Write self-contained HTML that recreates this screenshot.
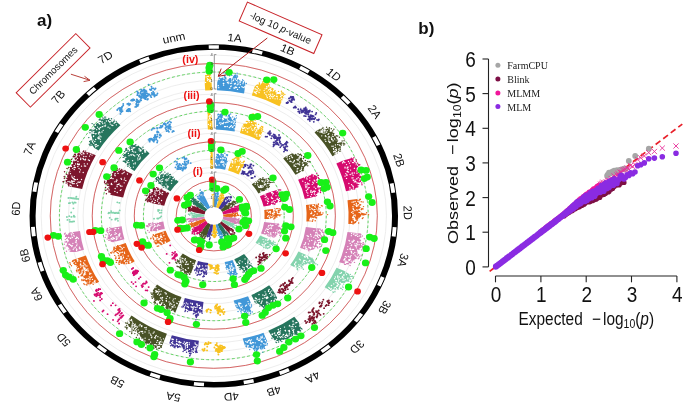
<!DOCTYPE html><html><head><meta charset="utf-8"><style>html,body{margin:0;padding:0;background:#fff;}svg{display:block;will-change:transform;}text{font-family:"Liberation Sans",sans-serif;}</style></head><body>
<svg width="685" height="416" viewBox="0 0 685 416">
<rect width="685" height="416" fill="#fff"/>
<g transform="translate(213.8,215.9) scale(1.073,1)">
<circle r="126.90" fill="none" stroke="#e6e6e6" stroke-width="0.7"/>
<circle r="135.40" fill="none" stroke="#e6e6e6" stroke-width="0.7"/>
<circle r="143.90" fill="none" stroke="#e6e6e6" stroke-width="0.7"/>
<circle r="152.40" fill="none" stroke="#e6e6e6" stroke-width="0.7"/>
<circle r="160.90" fill="none" stroke="#e6e6e6" stroke-width="0.7"/>
<circle r="87.80" fill="none" stroke="#e6e6e6" stroke-width="0.7"/>
<circle r="96.30" fill="none" stroke="#e6e6e6" stroke-width="0.7"/>
<circle r="104.80" fill="none" stroke="#e6e6e6" stroke-width="0.7"/>
<circle r="113.30" fill="none" stroke="#e6e6e6" stroke-width="0.7"/>
<circle r="121.80" fill="none" stroke="#e6e6e6" stroke-width="0.7"/>
<circle r="48.60" fill="none" stroke="#e6e6e6" stroke-width="0.7"/>
<circle r="57.10" fill="none" stroke="#e6e6e6" stroke-width="0.7"/>
<circle r="65.60" fill="none" stroke="#e6e6e6" stroke-width="0.7"/>
<circle r="74.10" fill="none" stroke="#e6e6e6" stroke-width="0.7"/>
<circle r="82.60" fill="none" stroke="#e6e6e6" stroke-width="0.7"/>
<circle r="9.50" fill="none" stroke="#e6e6e6" stroke-width="0.7"/>
<circle r="18.00" fill="none" stroke="#e6e6e6" stroke-width="0.7"/>
<circle r="26.50" fill="none" stroke="#e6e6e6" stroke-width="0.7"/>
<circle r="35.00" fill="none" stroke="#e6e6e6" stroke-width="0.7"/>
<circle r="43.50" fill="none" stroke="#e6e6e6" stroke-width="0.7"/>
<circle r="9.10" fill="#fff" stroke="#d8d8d8" stroke-width="0.5"/>
<circle r="143.90" fill="none" stroke="#44cc44" stroke-width="0.8" stroke-dasharray="2.6,2.2"/>
<circle r="152.40" fill="none" stroke="#d24a4a" stroke-width="0.8"/>
<circle r="104.80" fill="none" stroke="#44cc44" stroke-width="0.8" stroke-dasharray="2.6,2.2"/>
<circle r="113.30" fill="none" stroke="#d24a4a" stroke-width="0.8"/>
<circle r="65.60" fill="none" stroke="#44cc44" stroke-width="0.8" stroke-dasharray="2.6,2.2"/>
<circle r="74.10" fill="none" stroke="#d24a4a" stroke-width="0.8"/>
<circle r="26.50" fill="none" stroke="#44cc44" stroke-width="0.8" stroke-dasharray="2.6,2.2"/>
<circle r="35.00" fill="none" stroke="#d24a4a" stroke-width="0.8"/>
<path d="M3.2,-133.7 L4.1,-136.3 L5.1,-139.0 L6.0,-137.6 L6.9,-137.6 L7.8,-138.4 L8.7,-138.1 L9.8,-139.9 L10.6,-139.3 L11.5,-138.8 L12.2,-135.9 L13.1,-136.5 L14.0,-135.7 L15.1,-137.9 L16.0,-137.4 L16.6,-135.4 L18.1,-139.7 L19.2,-141.1 L20.2,-141.6 L21.1,-141.0 L21.5,-137.6 L22.0,-135.1 L23.0,-135.4 L23.6,-133.9 L24.6,-134.2 L25.5,-134.3 L26.7,-135.3 L27.9,-137.0 L28.4,-134.7 L29.1,-133.7 L29.3,-130.6 L28.2,-122.4 A125.6,125.6 0 0 0 3.0,-125.6Z" fill="#4197d8"/>
<path d="M21.7,-140.7h0M22.1,-139.1h0M11.4,-142.1h0M30.3,-132.4h0M22.9,-135.9h0M9.9,-140.4h0M5.3,-140.5h0M14.7,-140.1h0M14.4,-140.6h0M26.9,-136.3h0M9.4,-142.8h0M16.8,-140.5h0M14.2,-136.5h0M21.7,-142.7h0M10.8,-138.2h0M12.8,-140.8h0M24.1,-134.9h0M10.2,-139.0h0M5.0,-140.6h0M8.4,-140.3h0M15.7,-136.9h0M23.4,-135.0h0M21.5,-138.7h0M15.0,-137.1h0M11.1,-142.3h0" stroke="#4197d8" stroke-width="1.4" stroke-linecap="round" fill="none"/>
<path d="M23.8,-128.5h0M9.2,-132.2h0M19.6,-127.9h0M9.1,-130.7h0M19.2,-132.0h0M27.8,-128.6h0M27.5,-133.6h0M8.9,-135.6h0M9.2,-138.0h0M4.9,-136.4h0M21.3,-128.6h0M18.8,-137.1h0M11.3,-136.1h0M4.2,-130.2h0M27.6,-136.3h0M4.6,-128.2h0M20.2,-132.6h0M12.3,-136.1h0M18.2,-135.3h0M22.7,-131.9h0M26.7,-128.8h0M27.5,-134.6h0M24.3,-133.1h0M19.7,-131.7h0M18.8,-127.9h0M28.9,-129.4h0M13.9,-133.7h0M22.1,-126.5h0M15.7,-129.2h0M16.6,-132.7h0M27.2,-132.2h0M26.2,-129.2h0M8.9,-132.5h0M27.7,-133.9h0M16.8,-134.7h0M22.4,-134.0h0M9.3,-132.4h0M16.2,-130.0h0M21.8,-131.1h0M14.9,-127.5h0M19.9,-132.4h0M21.1,-135.6h0M20.8,-128.4h0M12.7,-133.5h0M20.2,-136.9h0M15.4,-132.6h0M13.4,-132.3h0M24.6,-133.7h0M20.0,-129.0h0M24.7,-131.2h0M9.6,-137.8h0M28.2,-128.2h0M12.3,-135.3h0M18.4,-135.8h0" stroke="#fff" stroke-width="1.3" stroke-linecap="round" fill="none"/>
<path d="M37.9,-129.0 L39.3,-130.7 L40.5,-131.7 L41.3,-131.2 L42.5,-131.8 L43.0,-130.4 L44.5,-132.3 L45.4,-131.8 L47.2,-134.3 L48.6,-135.5 L49.1,-134.2 L50.4,-134.8 L51.0,-133.8 L51.4,-132.1 L52.0,-131.3 L52.0,-128.7 L52.4,-127.3 L53.2,-126.7 L54.4,-127.3 L55.1,-126.7 L54.9,-124.0 L56.4,-125.1 L57.2,-124.7 L57.3,-122.9 L58.1,-122.3 L58.4,-121.1 L59.8,-121.9 L60.8,-121.8 L61.9,-122.0 L62.1,-120.5 L64.5,-123.2 L64.9,-121.9 L64.5,-119.3 L64.8,-118.0 L61.2,-109.7 A125.6,125.6 0 0 0 35.4,-120.5Z" fill="#f8c120"/>
<path d="M55.3,-126.8h0M57.4,-122.0h0M54.6,-127.1h0M66.2,-121.4h0M49.2,-136.6h0M42.7,-131.6h0M63.0,-124.7h0M53.0,-128.3h0M45.6,-133.9h0M64.7,-120.6h0M59.9,-121.1h0M45.2,-132.4h0M57.8,-123.1h0M51.7,-135.3h0M42.4,-133.0h0M42.7,-132.0h0M48.2,-135.8h0M54.4,-127.4h0M51.7,-133.5h0M53.9,-126.2h0M46.4,-134.9h0M57.1,-125.1h0M63.6,-123.5h0M63.0,-122.0h0M60.3,-124.5h0M64.9,-122.6h0M51.1,-137.5h0M47.7,-137.5h0" stroke="#f8c120" stroke-width="1.4" stroke-linecap="round" fill="none"/>
<path d="M59.2,-117.1h0M41.0,-124.9h0M37.6,-124.0h0M63.6,-120.8h0M52.2,-124.1h0M39.6,-122.2h0M42.2,-123.4h0M40.5,-129.3h0M57.1,-117.1h0M51.4,-121.4h0M38.5,-127.3h0M43.0,-125.9h0M49.9,-118.2h0M59.2,-119.1h0M53.9,-119.3h0M52.9,-125.9h0M47.9,-133.1h0M58.8,-119.8h0M62.8,-120.1h0M58.4,-119.6h0M63.0,-117.7h0M55.1,-119.8h0M51.1,-130.4h0M56.6,-120.2h0M38.6,-126.9h0M47.7,-133.2h0M53.0,-125.7h0M63.1,-114.9h0M40.1,-126.6h0M40.0,-129.2h0M49.4,-119.9h0M52.5,-117.4h0M49.6,-124.1h0M47.5,-123.1h0M52.0,-119.6h0M38.2,-123.6h0M50.7,-129.2h0M40.3,-129.6h0M40.8,-128.9h0M52.3,-126.5h0M53.2,-125.1h0M52.1,-126.7h0M52.5,-117.8h0M52.9,-120.2h0M53.5,-125.4h0M62.3,-119.4h0M47.3,-123.0h0M53.0,-121.7h0M63.8,-117.0h0M55.4,-119.5h0M49.2,-129.3h0M38.9,-123.1h0M54.9,-121.7h0M48.6,-121.4h0M49.3,-127.4h0M47.8,-127.1h0M61.7,-116.6h0M40.2,-126.3h0M55.0,-117.9h0M39.2,-123.8h0M39.6,-124.4h0M49.5,-128.8h0M41.6,-127.3h0M63.8,-120.6h0M50.9,-125.9h0M46.9,-125.3h0" stroke="#fff" stroke-width="1.3" stroke-linecap="round" fill="none"/>
<path d="M96.6,-85.9 L98.4,-86.4 L100.3,-86.8 L102.0,-87.2 L102.7,-86.6 L104.6,-87.0 L106.2,-87.2 L106.6,-86.4 L108.1,-86.4 L108.2,-85.3 L108.0,-84.0 L110.1,-84.5 L111.2,-84.2 L110.3,-82.3 L110.1,-81.1 L111.8,-81.2 L112.3,-80.4 L112.8,-79.7 L114.2,-79.6 L113.9,-78.3 L114.7,-77.7 L113.3,-75.7 L115.0,-75.7 L116.1,-75.3 L115.1,-73.7 L116.0,-73.2 L118.6,-73.7 L119.9,-73.4 L118.7,-71.6 L119.9,-71.2 L117.8,-69.0 L118.6,-68.4 L117.6,-66.8 L115.7,-64.7 L114.9,-63.3 L115.6,-62.7 L110.6,-59.7 A125.6,125.6 0 0 0 93.9,-83.5Z" fill="#495226"/>
<path d="M115.5,-80.0h0M111.8,-82.4h0M117.5,-64.5h0M114.2,-80.2h0M119.6,-74.9h0M117.9,-66.6h0M121.3,-71.9h0M121.2,-70.8h0M122.0,-72.0h0M117.6,-65.0h0M115.3,-79.8h0M121.0,-72.6h0M111.5,-81.2h0M121.4,-75.2h0M110.9,-82.5h0M107.6,-86.9h0M111.9,-86.7h0M101.1,-87.5h0M105.1,-88.6h0M119.3,-72.6h0M101.8,-88.0h0M117.1,-78.6h0M99.0,-86.5h0M106.2,-86.6h0M109.5,-87.2h0M114.6,-76.5h0M106.4,-86.8h0M107.7,-88.3h0M110.9,-85.1h0" stroke="#495226" stroke-width="1.4" stroke-linecap="round" fill="none"/>
<path d="M116.8,-67.6h0M112.5,-77.0h0M100.6,-80.1h0M113.2,-68.5h0M107.2,-74.5h0M107.2,-76.0h0M114.3,-66.8h0M113.0,-61.9h0M117.6,-70.4h0M98.9,-83.9h0M100.3,-84.5h0M114.0,-63.8h0M107.2,-82.3h0M111.8,-63.8h0M103.5,-82.9h0M103.9,-85.2h0M109.6,-77.9h0M111.3,-79.3h0M110.1,-69.7h0M104.4,-74.5h0M111.5,-67.5h0M104.1,-80.3h0M104.0,-80.0h0M111.3,-69.7h0M111.1,-75.5h0M101.1,-85.3h0M102.0,-82.8h0M101.5,-86.4h0M109.8,-76.4h0M115.6,-73.5h0M104.6,-79.3h0M100.0,-83.9h0M116.8,-71.1h0M103.5,-84.8h0M108.3,-74.1h0M102.7,-84.8h0M110.3,-76.7h0M105.7,-85.2h0M111.1,-75.0h0M113.2,-64.2h0M103.5,-86.2h0M114.3,-65.6h0M107.8,-73.4h0M114.1,-62.6h0M102.7,-85.5h0M112.5,-64.8h0M111.7,-66.6h0M114.5,-63.0h0M106.5,-81.5h0M107.3,-79.4h0M96.9,-84.7h0M101.0,-83.3h0M108.4,-73.5h0M114.0,-63.6h0M108.0,-78.8h0M115.4,-71.3h0M114.1,-62.5h0M106.6,-77.9h0M114.1,-65.5h0M110.4,-79.8h0M99.9,-85.8h0M113.4,-71.0h0M100.8,-83.9h0M103.7,-76.2h0M116.5,-66.6h0M113.7,-66.5h0M105.1,-83.7h0M111.7,-64.2h0M101.3,-84.3h0" stroke="#fff" stroke-width="1.3" stroke-linecap="round" fill="none"/>
<path d="M120.7,-55.4 L127.3,-57.4 L130.3,-57.7 L129.6,-56.4 L129.8,-55.5 L130.9,-54.9 L129.7,-53.4 L130.1,-52.6 L132.9,-52.7 L131.6,-51.2 L132.5,-50.5 L134.1,-50.1 L134.6,-49.3 L133.4,-47.9 L132.9,-46.8 L133.5,-46.0 L135.6,-45.7 L135.8,-44.8 L134.0,-43.2 L136.1,-42.9 L135.0,-41.6 L135.6,-40.8 L134.9,-39.6 L137.2,-39.3 L137.5,-38.4 L135.1,-36.8 L136.3,-36.2 L134.9,-34.8 L136.9,-34.4 L134.3,-32.8 L134.4,-31.9 L136.1,-31.3 L133.4,-29.8 L133.7,-29.0 L132.1,-27.7 L130.2,-26.4 L123.2,-24.7 A125.6,125.6 0 0 0 114.2,-52.4Z" fill="#d60b6f"/>
<path d="M132.8,-56.0h0M133.5,-28.8h0M129.9,-56.8h0M135.1,-50.7h0M131.4,-53.2h0M134.0,-52.8h0M136.6,-34.4h0M139.3,-39.5h0M135.8,-41.0h0M136.0,-51.2h0M136.5,-38.6h0M135.6,-39.2h0M131.2,-26.9h0M136.6,-43.4h0M130.6,-58.3h0M132.8,-50.6h0M135.3,-33.7h0M135.0,-51.4h0M132.4,-51.8h0M135.3,-42.3h0M138.1,-31.2h0M128.2,-57.6h0M136.8,-35.8h0M134.2,-29.2h0M132.8,-54.3h0M136.9,-39.4h0M138.8,-39.5h0M136.4,-43.7h0M137.9,-32.9h0" stroke="#d60b6f" stroke-width="1.4" stroke-linecap="round" fill="none"/>
<path d="M133.4,-42.7h0M125.9,-32.4h0M124.5,-48.7h0M132.6,-34.0h0M124.4,-40.8h0M122.3,-39.8h0M130.2,-35.5h0M127.1,-41.4h0M130.0,-29.6h0M123.7,-37.5h0M133.1,-37.1h0M122.2,-53.3h0M130.9,-42.9h0M123.7,-51.3h0M120.0,-53.0h0M128.5,-26.6h0M122.3,-48.0h0M124.8,-48.6h0M124.7,-44.7h0M133.5,-37.1h0M129.3,-30.1h0M128.4,-31.2h0M133.3,-45.0h0M125.5,-54.4h0M124.3,-47.7h0M129.3,-53.3h0M131.9,-34.4h0M120.3,-53.8h0M127.8,-55.0h0M125.2,-46.5h0M126.5,-52.7h0M122.3,-48.8h0M125.6,-43.8h0M129.8,-38.1h0M126.9,-26.9h0M126.8,-28.5h0M134.6,-38.3h0M124.7,-44.1h0M123.7,-40.9h0M123.0,-42.3h0M129.9,-35.9h0M121.2,-54.1h0M128.9,-42.0h0M131.1,-47.6h0M129.0,-42.9h0M127.5,-45.8h0M130.9,-34.0h0M133.5,-32.8h0M127.3,-50.0h0M121.0,-54.7h0M125.2,-48.8h0M129.8,-40.6h0M134.4,-33.0h0M131.0,-47.6h0M131.6,-35.9h0M130.1,-27.9h0M128.8,-38.0h0M124.1,-44.3h0" stroke="#fff" stroke-width="1.3" stroke-linecap="round" fill="none"/>
<path d="M133.7,-16.8 L134.1,-15.9 L135.9,-15.2 L135.5,-14.3 L135.4,-13.4 L135.4,-12.5 L135.6,-11.6 L137.4,-10.8 L135.6,-9.8 L136.4,-9.0 L137.0,-8.1 L135.7,-7.1 L134.3,-6.2 L136.0,-5.3 L136.5,-4.5 L136.5,-3.6 L139.7,-2.7 L143.0,-1.9 L141.6,-0.9 L137.5,0.0 L136.7,0.9 L134.5,1.8 L135.2,2.7 L133.3,3.5 L132.6,4.4 L133.3,5.3 L132.9,6.1 L132.3,7.0 L130.8,7.8 L125.4,8.0 A125.6,125.6 0 0 0 124.6,-15.6Z" fill="#e66519"/>
<path d="M137.7,-6.3h0M144.2,-1.1h0M133.6,3.5h0M138.1,-7.4h0M136.8,-11.1h0M136.4,-16.8h0M135.0,7.1h0M139.1,-13.9h0M137.4,-6.3h0M139.1,-7.0h0M129.8,8.0h0M135.4,1.3h0M135.7,-15.9h0M139.1,1.8h0M137.4,-14.1h0M136.5,-16.4h0M135.9,-4.6h0M139.5,-9.3h0M133.6,4.4h0M137.7,-7.0h0M138.4,2.7h0M138.0,-7.1h0M142.4,-3.1h0" stroke="#e66519" stroke-width="1.4" stroke-linecap="round" fill="none"/>
<path d="M128.7,6.0h0M129.8,-2.4h0M129.7,-9.2h0M134.4,-14.6h0M128.9,-13.7h0M134.7,-11.3h0M133.1,-6.1h0M131.7,-14.4h0M131.6,-1.1h0M131.9,4.5h0M130.3,-13.9h0M135.4,-3.5h0M130.7,1.5h0M131.6,3.7h0M135.3,-13.8h0M129.9,0.8h0M130.4,-6.6h0M129.9,3.2h0M129.9,-7.4h0M129.5,1.6h0M130.1,-6.2h0M128.5,6.4h0M133.9,-5.8h0M133.2,-9.5h0M132.8,-12.4h0M130.5,-0.6h0M131.1,5.0h0M131.1,3.9h0M132.0,-0.1h0M132.6,-10.4h0M128.4,-3.6h0M131.5,-5.3h0M128.5,6.0h0M130.1,1.5h0M129.6,-4.2h0M138.0,-0.5h0M130.8,2.9h0M134.3,-14.6h0M134.3,-10.1h0M136.4,-3.3h0M136.7,-2.8h0M134.2,-10.3h0M131.3,2.3h0M130.8,-11.4h0M132.8,-11.0h0M129.4,1.3h0" stroke="#fff" stroke-width="1.3" stroke-linecap="round" fill="none"/>
<path d="M137.0,17.7 L137.8,18.7 L136.7,19.5 L137.5,20.5 L137.7,21.5 L136.0,22.1 L135.7,23.0 L137.3,24.2 L137.2,25.1 L136.7,25.9 L137.3,27.0 L140.3,28.5 L139.2,29.3 L137.6,29.9 L136.3,30.5 L137.8,31.8 L136.1,32.4 L135.3,33.1 L133.7,33.6 L133.5,34.5 L133.7,35.5 L132.9,36.3 L134.3,37.6 L133.6,38.3 L134.7,39.6 L133.4,40.2 L133.3,41.1 L132.8,41.9 L133.4,43.1 L131.0,43.3 L131.4,44.4 L129.4,44.6 L129.7,45.7 L128.2,46.1 L128.9,47.3 L125.8,47.1 L126.0,48.2 L124.1,48.4 L116.8,46.3 A125.6,125.6 0 0 0 124.6,16.1Z" fill="#d581b7"/>
<path d="M137.8,34.0h0M139.2,31.9h0M135.0,38.6h0M138.4,20.1h0M140.0,28.2h0M125.2,48.0h0M135.3,42.1h0M139.1,26.7h0M140.3,22.8h0M139.3,26.9h0M141.0,30.6h0M131.1,46.5h0M133.6,36.2h0M127.4,46.8h0M138.3,30.8h0M134.6,42.9h0M141.3,30.7h0M124.3,47.5h0M135.0,39.7h0M138.7,30.8h0M141.1,29.7h0M137.4,39.4h0M127.0,49.6h0M139.3,32.2h0M136.0,40.7h0M121.9,48.3h0M135.2,33.6h0M133.9,40.2h0M122.9,48.4h0M137.0,30.7h0M138.9,32.1h0" stroke="#d581b7" stroke-width="1.4" stroke-linecap="round" fill="none"/>
<path d="M128.2,19.8h0M130.3,37.8h0M127.4,43.3h0M128.1,45.2h0M130.2,18.3h0M124.8,33.4h0M126.7,33.1h0M130.8,24.6h0M122.2,42.8h0M127.6,33.8h0M128.1,45.3h0M128.4,17.6h0M137.7,28.7h0M122.4,45.1h0M131.6,39.3h0M128.3,35.4h0M128.0,29.7h0M130.1,25.7h0M127.4,32.2h0M124.9,30.7h0M131.8,19.7h0M128.5,29.1h0M134.2,25.6h0M130.8,17.9h0M132.6,18.0h0M131.7,29.6h0M133.2,27.8h0M131.5,27.9h0M128.9,25.3h0M132.9,31.9h0M122.6,47.4h0M135.4,28.8h0M123.5,36.5h0M132.7,19.4h0M124.4,46.4h0M134.0,18.2h0M132.5,40.4h0M134.1,20.5h0M125.4,40.6h0M126.5,43.7h0M122.6,46.4h0M130.4,24.3h0M122.1,42.4h0M132.3,30.1h0M130.3,33.5h0M122.6,40.6h0M128.3,36.2h0M131.4,36.5h0M128.0,35.8h0M133.7,28.8h0M134.4,26.7h0M126.5,25.0h0M132.7,30.2h0M128.6,37.1h0M123.4,45.2h0M128.0,39.7h0M127.1,27.5h0M127.0,41.6h0M124.4,46.1h0M123.5,46.6h0M126.5,44.5h0M126.0,24.6h0M129.0,26.4h0M121.9,43.5h0M125.6,44.1h0M127.1,40.6h0M125.2,46.2h0M135.6,20.0h0M123.6,41.2h0M133.0,30.0h0M129.1,33.6h0M136.4,26.1h0M121.2,44.1h0" stroke="#fff" stroke-width="1.3" stroke-linecap="round" fill="none"/>
<path d="M121.3,54.9 L126.1,58.1 L126.1,59.1 L128.2,61.1 L126.4,61.3 L128.6,63.4 L127.4,63.8 L126.1,64.2 L125.7,65.1 L125.1,65.8 L122.8,65.6 L122.4,66.4 L121.3,66.9 L119.7,67.0 L117.7,66.9 L118.0,68.1 L116.9,68.5 L117.5,69.9 L116.8,70.6 L116.9,71.7 L115.9,72.1 L116.2,73.4 L114.2,73.2 L113.1,73.5 L110.8,73.0 L110.6,74.0 L109.5,74.3 L109.3,75.2 L103.3,71.4 A125.6,125.6 0 0 0 114.4,51.8Z" fill="#83d3ad"/>
<path d="M117.7,68.3h0M125.8,65.3h0M119.9,73.7h0M111.5,76.3h0M112.9,75.8h0M109.3,73.7h0M121.0,68.2h0M118.7,72.5h0M120.5,71.5h0M128.3,60.5h0M108.5,73.8h0M130.1,62.1h0M108.5,73.8h0M127.2,58.5h0M118.3,72.3h0M120.1,70.2h0M113.6,72.9h0M129.2,60.4h0M111.0,76.0h0M121.9,66.3h0M122.2,64.8h0M115.9,73.2h0" stroke="#83d3ad" stroke-width="1.4" stroke-linecap="round" fill="none"/>
<path d="M113.9,66.6h0M119.7,61.3h0M115.4,61.1h0M116.9,61.1h0M114.9,69.6h0M123.7,58.8h0M119.9,60.4h0M115.8,62.2h0M113.3,71.6h0M115.2,67.6h0M113.3,61.1h0M117.6,57.5h0M108.9,73.4h0M107.1,71.4h0M115.5,70.0h0M107.8,72.3h0M118.5,57.3h0M121.3,58.8h0M115.5,67.1h0M119.0,56.5h0M118.4,62.6h0M114.4,72.4h0M115.8,68.2h0M126.8,63.2h0M122.8,57.0h0M124.8,63.0h0M121.1,62.2h0M116.2,65.0h0M120.4,64.3h0M116.6,63.8h0M121.5,64.2h0M109.4,73.1h0M121.2,59.7h0M115.5,60.0h0M111.8,68.0h0M117.8,66.6h0M120.4,62.0h0M112.6,62.8h0M116.2,65.2h0M109.6,69.6h0M109.8,69.7h0M114.3,64.8h0M108.0,72.4h0M122.5,63.7h0M112.2,72.1h0M109.4,72.5h0M114.7,70.5h0M125.0,62.0h0M113.7,64.6h0M116.1,68.6h0" stroke="#fff" stroke-width="1.3" stroke-linecap="round" fill="none"/>
<path d="M79.3,106.6 L79.8,108.8 L81.8,113.1 L80.2,112.4 L81.1,115.2 L80.2,115.6 L78.6,114.8 L77.7,115.1 L77.9,117.1 L77.3,117.9 L77.0,119.0 L75.5,118.5 L73.9,117.7 L74.0,119.6 L72.1,118.3 L72.6,120.8 L71.6,120.9 L70.8,121.4 L70.1,122.1 L68.9,121.8 L68.7,123.4 L67.5,123.1 L66.5,123.3 L65.6,123.5 L64.8,124.0 L63.6,123.6 L62.9,124.2 L62.7,125.8 L60.8,124.1 L60.3,125.1 L59.3,125.2 L58.1,124.7 L56.3,123.1 L54.6,121.4 L50.8,114.9 A125.6,125.6 0 0 0 75.0,100.8Z" fill="#26755d"/>
<path d="M76.7,117.4h0M67.7,125.4h0M56.6,123.7h0M58.5,126.7h0M78.2,120.8h0M69.0,126.0h0M63.4,125.7h0M77.4,118.9h0M70.3,119.9h0M60.4,126.1h0M72.4,122.5h0M77.3,117.0h0M68.4,122.3h0M74.9,117.8h0M82.2,113.2h0M71.4,124.1h0M67.3,124.1h0M73.1,119.6h0M72.9,123.4h0M80.8,115.0h0M66.8,126.4h0M70.0,123.4h0M57.9,126.2h0M78.1,118.3h0M54.2,122.4h0M80.2,117.8h0M81.5,112.5h0M69.2,121.8h0" stroke="#26755d" stroke-width="1.4" stroke-linecap="round" fill="none"/>
<path d="M63.1,120.8h0M61.5,120.8h0M70.3,119.0h0M69.5,114.9h0M70.5,115.3h0M62.1,112.7h0M65.9,111.2h0M58.1,119.4h0M74.7,117.2h0M70.4,110.0h0M66.5,114.5h0M56.2,117.7h0M61.9,117.9h0M60.3,118.8h0M57.2,119.2h0M58.6,123.4h0M70.6,115.5h0M73.6,114.5h0M64.3,119.2h0M62.1,114.9h0M68.7,120.1h0M59.5,116.8h0M73.4,110.3h0M66.9,119.5h0M70.4,114.6h0M62.2,121.7h0M74.6,113.6h0M68.6,120.3h0M59.5,117.6h0M54.5,118.1h0M66.2,120.9h0M74.3,115.2h0M76.3,110.7h0M69.0,120.1h0M54.6,118.6h0M76.1,106.9h0M64.3,121.3h0M72.0,110.8h0M77.5,106.4h0M74.5,108.3h0M73.9,105.8h0M60.2,116.5h0M60.1,113.6h0M56.8,117.1h0M61.6,116.7h0M73.9,110.9h0M70.4,117.3h0M67.1,121.5h0M54.2,118.4h0M70.7,117.3h0M60.8,115.6h0M60.2,113.9h0M77.0,106.8h0M73.8,105.0h0M73.7,108.4h0M61.6,116.5h0M72.8,112.9h0M58.2,119.3h0M74.2,116.3h0M65.1,118.6h0M66.7,114.5h0M66.9,115.0h0M67.9,118.3h0M79.9,110.1h0M70.7,109.4h0M59.5,121.1h0M61.1,118.5h0M67.9,119.5h0" stroke="#fff" stroke-width="1.3" stroke-linecap="round" fill="none"/>
<path d="M48.8,123.0 L49.3,126.7 L48.5,127.1 L48.2,128.7 L47.6,129.7 L47.5,132.2 L46.4,131.7 L46.0,133.6 L44.3,131.4 L44.4,134.5 L42.6,132.1 L41.9,133.0 L41.3,134.1 L40.5,134.7 L39.0,132.6 L38.2,133.3 L37.4,133.9 L35.9,131.8 L35.1,132.4 L34.0,131.7 L33.1,131.5 L31.8,130.1 L31.1,130.8 L30.4,131.8 L28.9,129.3 L26.9,122.7 A125.6,125.6 0 0 0 46.3,116.8Z" fill="#4197d8"/>
<path d="M47.3,132.5h0M40.1,134.7h0M39.6,135.6h0M49.0,124.6h0M36.9,132.6h0M49.5,129.2h0M45.7,136.2h0M39.4,133.5h0M37.5,133.1h0M33.5,133.7h0M34.1,130.9h0M49.9,127.8h0M48.0,129.5h0M48.9,124.9h0M42.8,137.8h0M44.9,132.9h0M32.6,131.2h0M38.0,134.7h0M29.9,129.8h0M39.7,134.7h0" stroke="#4197d8" stroke-width="1.4" stroke-linecap="round" fill="none"/>
<path d="M31.8,125.8h0M45.0,125.4h0M43.2,123.8h0M43.3,123.8h0M35.7,130.9h0M36.0,126.6h0M48.3,125.0h0M41.1,123.1h0M29.9,125.6h0M40.1,131.0h0M43.0,122.9h0M44.8,125.2h0M37.1,129.9h0M33.4,124.1h0M48.0,124.5h0M45.2,120.3h0M45.2,121.8h0M44.2,122.1h0M40.3,123.4h0M38.6,126.9h0M40.6,121.7h0M36.9,126.8h0M34.3,126.4h0M43.9,128.9h0M35.6,130.5h0M42.4,131.0h0M47.6,128.2h0M31.1,126.5h0M29.8,129.2h0M31.5,130.0h0M36.8,131.3h0M32.3,124.5h0M42.7,124.5h0M44.7,125.0h0M34.2,125.0h0M45.0,126.1h0M41.6,124.4h0M35.1,123.9h0M44.1,125.7h0M32.1,129.8h0M33.8,127.0h0M46.6,127.8h0M34.2,127.7h0M47.0,122.3h0M35.2,127.8h0M40.2,123.0h0M43.9,121.1h0" stroke="#fff" stroke-width="1.3" stroke-linecap="round" fill="none"/>
<path d="M-14.7,131.9 L-15.7,133.4 L-16.7,134.1 L-17.4,132.7 L-18.2,132.0 L-19.6,135.3 L-20.9,138.2 L-22.3,141.3 L-23.1,139.9 L-23.3,135.9 L-23.9,133.8 L-24.7,133.2 L-25.7,134.0 L-26.2,131.8 L-27.4,133.2 L-28.2,132.7 L-29.0,132.1 L-29.6,130.6 L-30.8,131.8 L-31.5,131.1 L-32.6,131.9 L-33.4,131.5 L-34.3,131.4 L-34.8,129.9 L-35.7,129.6 L-36.9,130.6 L-37.7,130.3 L-38.8,130.8 L-39.4,129.7 L-39.7,127.8 L-40.7,127.8 L-41.5,127.4 L-39.1,119.4 A125.6,125.6 0 0 0 -13.9,124.9Z" fill="#413496"/>
<path d="M-37.2,131.1h0M-40.2,129.8h0M-26.1,133.9h0M-25.4,136.4h0M-16.2,134.1h0M-17.3,135.4h0M-19.1,133.9h0M-27.0,134.4h0M-36.2,131.9h0M-23.5,135.5h0M-39.0,129.1h0M-15.5,136.3h0M-28.2,132.0h0M-19.1,136.5h0M-35.4,130.4h0M-33.6,131.6h0M-27.6,134.3h0M-16.7,136.6h0M-24.1,132.5h0M-36.2,130.2h0M-16.1,135.3h0M-28.6,135.6h0M-36.6,130.5h0M-16.3,135.0h0M-28.0,132.8h0" stroke="#413496" stroke-width="1.4" stroke-linecap="round" fill="none"/>
<path d="M-37.6,123.7h0M-17.3,131.7h0M-30.6,126.6h0M-27.5,126.1h0M-39.4,126.7h0M-34.4,128.7h0M-26.0,129.7h0M-20.2,134.4h0M-31.3,126.7h0M-20.7,136.3h0M-18.6,131.0h0M-31.1,129.4h0M-37.9,128.2h0M-31.4,126.7h0M-24.6,129.6h0M-24.5,130.8h0M-32.8,129.5h0M-17.9,131.1h0M-19.0,131.3h0M-17.1,128.3h0M-22.4,138.7h0M-25.7,127.3h0M-16.0,130.3h0M-17.3,131.1h0M-15.5,129.4h0M-24.6,131.5h0M-38.8,127.1h0M-25.2,126.6h0M-30.4,130.3h0M-34.6,127.8h0M-28.5,127.6h0M-33.5,128.4h0M-38.8,123.8h0M-27.0,128.8h0M-34.5,125.6h0M-34.6,123.4h0M-22.7,133.5h0M-31.9,126.9h0M-20.7,132.8h0M-15.5,132.0h0M-24.4,126.8h0M-39.0,123.0h0M-36.5,128.9h0M-38.4,127.6h0M-31.9,128.9h0M-26.2,128.2h0M-24.5,128.5h0M-32.9,126.1h0M-26.5,131.1h0M-15.8,128.8h0M-22.7,126.9h0M-17.5,127.1h0M-22.2,136.4h0M-35.0,128.3h0M-26.4,127.6h0M-34.8,125.1h0M-38.3,125.7h0M-38.1,123.3h0M-22.8,128.7h0M-31.9,125.5h0" stroke="#fff" stroke-width="1.3" stroke-linecap="round" fill="none"/>
<path d="M-49.1,132.4 L-49.7,131.2 L-50.1,129.8 L-51.3,130.2 L-52.2,130.1 L-53.2,130.3 L-54.8,131.5 L-55.3,130.4 L-56.5,130.8 L-56.6,128.6 L-57.7,128.9 L-59.3,130.1 L-59.8,128.9 L-60.6,128.4 L-61.3,127.8 L-62.2,127.6 L-63.3,127.7 L-64.2,127.3 L-64.6,126.0 L-65.4,125.6 L-65.6,124.0 L-65.8,122.4 L-67.4,123.4 L-67.4,121.6 L-68.2,121.2 L-68.6,120.0 L-69.1,119.0 L-69.4,117.8 L-70.5,117.8 L-71.2,117.2 L-71.6,116.2 L-72.1,115.3 L-73.6,115.9 L-73.5,114.1 L-75.6,115.7 L-75.4,113.7 L-76.2,113.3 L-76.9,112.8 L-76.6,110.8 L-77.4,110.3 L-79.2,111.3 L-79.3,110.0 L-79.8,109.1 L-80.1,108.0 L-81.4,108.3 L-81.5,107.0 L-76.7,99.5 A125.6,125.6 0 0 0 -43.7,117.8Z" fill="#495226"/>
<path d="M-78.2,115.7h0M-80.7,111.9h0M-73.6,117.7h0M-69.5,122.4h0M-69.8,123.7h0M-78.0,110.5h0M-76.4,116.1h0M-72.2,121.6h0M-51.3,132.3h0M-65.9,130.1h0M-56.4,131.6h0M-55.9,132.6h0M-68.6,124.8h0M-63.4,131.9h0M-49.1,131.5h0M-76.5,117.6h0M-76.3,114.0h0M-53.1,133.0h0M-74.4,114.5h0M-81.3,109.8h0M-50.6,132.4h0M-63.0,128.0h0M-81.1,113.0h0M-54.5,131.5h0M-61.5,131.3h0M-53.6,131.1h0M-65.9,126.8h0M-66.8,126.3h0M-82.6,111.1h0M-81.4,111.8h0M-58.6,129.8h0M-67.6,125.6h0M-71.1,119.1h0M-82.2,107.0h0M-49.4,130.8h0M-58.7,132.1h0M-77.5,111.1h0M-59.0,129.8h0" stroke="#495226" stroke-width="1.4" stroke-linecap="round" fill="none"/>
<path d="M-75.0,112.2h0M-53.1,129.1h0M-71.1,111.2h0M-66.2,117.3h0M-67.3,110.6h0M-53.7,119.6h0M-79.5,107.3h0M-76.4,109.9h0M-51.0,126.8h0M-71.6,110.9h0M-78.9,104.0h0M-70.5,113.9h0M-66.9,110.0h0M-72.8,113.2h0M-54.6,122.3h0M-55.1,121.7h0M-76.1,108.2h0M-72.0,115.1h0M-69.2,116.2h0M-76.2,112.0h0M-48.2,126.2h0M-76.0,108.3h0M-48.6,128.5h0M-79.3,104.8h0M-75.0,113.1h0M-58.5,119.5h0M-60.3,117.0h0M-49.9,121.9h0M-52.3,124.8h0M-73.2,108.3h0M-46.9,122.9h0M-58.1,121.8h0M-58.9,118.2h0M-73.7,111.4h0M-53.2,126.4h0M-67.2,115.8h0M-54.4,128.8h0M-60.1,128.1h0M-50.5,126.2h0M-54.3,120.4h0M-60.3,123.6h0M-80.4,105.9h0M-76.7,103.6h0M-63.0,111.6h0M-51.1,128.6h0M-68.7,108.6h0M-72.3,112.6h0M-73.3,110.5h0M-75.7,106.2h0M-79.2,106.1h0M-49.5,125.8h0M-64.1,116.1h0M-77.4,104.4h0M-69.6,109.9h0M-75.6,109.8h0M-55.3,128.7h0M-55.6,116.1h0M-54.5,122.1h0M-67.7,109.8h0M-49.0,123.9h0M-58.9,126.2h0M-66.4,115.4h0M-78.6,106.3h0M-64.3,111.8h0M-78.8,107.4h0M-64.2,125.1h0M-73.5,114.1h0M-74.3,109.9h0M-52.6,124.7h0M-56.5,117.3h0M-49.7,128.7h0M-74.0,109.0h0M-76.1,110.3h0M-72.6,110.0h0M-57.7,121.1h0M-79.4,106.0h0M-76.4,104.9h0M-50.3,126.3h0M-63.1,113.3h0M-64.0,122.3h0M-75.1,107.7h0M-50.4,127.6h0M-60.4,114.9h0M-69.6,116.6h0M-52.1,120.8h0M-67.8,115.5h0" stroke="#fff" stroke-width="1.3" stroke-linecap="round" fill="none"/>
<path d="M-108.9,67.1 L-110.9,67.4 L-113.2,67.7 L-115.9,68.3 L-117.8,68.4 L-118.0,67.5 L-117.8,66.3 L-117.9,65.4 L-119.9,65.5 L-120.2,64.6 L-122.3,64.7 L-121.0,63.0 L-121.6,62.3 L-121.5,61.2 L-121.7,60.3 L-124.0,60.5 L-124.4,59.7 L-122.6,57.8 L-122.4,56.7 L-124.1,56.6 L-123.4,55.2 L-124.6,54.8 L-125.7,54.3 L-125.9,53.4 L-125.2,52.2 L-126.8,51.8 L-126.5,50.7 L-128.5,50.6 L-127.7,49.3 L-130.0,49.2 L-130.1,48.2 L-131.3,47.7 L-130.3,46.4 L-132.6,46.2 L-132.1,45.1 L-131.7,44.0 L-119.2,39.5 A125.6,125.6 0 0 0 -106.9,65.9Z" fill="#e66519"/>
<path d="M-125.7,53.5h0M-116.1,67.4h0M-124.6,54.3h0M-118.3,69.2h0M-120.1,68.7h0M-121.6,64.7h0M-134.1,46.8h0M-132.7,49.8h0M-127.5,55.8h0M-126.3,54.6h0M-122.9,63.5h0M-124.4,55.6h0M-127.9,54.6h0M-126.9,51.5h0M-112.4,68.3h0M-126.0,61.1h0M-125.4,56.8h0M-125.9,55.0h0M-127.4,53.1h0M-124.2,56.1h0M-118.3,68.3h0M-133.7,48.3h0M-122.9,64.7h0M-125.0,57.6h0M-121.1,67.9h0M-115.2,67.9h0M-121.1,64.2h0M-118.5,65.9h0M-123.8,56.9h0" stroke="#e66519" stroke-width="1.4" stroke-linecap="round" fill="none"/>
<path d="M-121.5,52.0h0M-120.0,56.6h0M-120.4,57.3h0M-122.9,49.8h0M-120.8,52.6h0M-116.1,60.9h0M-130.1,45.4h0M-127.4,43.1h0M-110.8,64.6h0M-122.9,50.2h0M-120.6,58.3h0M-121.0,52.1h0M-117.4,52.9h0M-121.4,50.1h0M-117.1,55.2h0M-115.6,58.4h0M-122.8,56.7h0M-120.2,44.8h0M-124.5,44.9h0M-119.6,54.5h0M-124.0,48.3h0M-126.6,44.1h0M-113.1,63.5h0M-119.5,58.2h0M-120.4,52.3h0M-121.4,46.9h0M-121.6,49.9h0M-118.9,63.5h0M-123.9,45.8h0M-120.3,53.6h0M-122.8,55.3h0M-112.8,66.9h0M-110.3,66.2h0M-111.3,66.0h0M-127.3,43.9h0M-122.7,54.3h0M-115.3,62.1h0M-116.1,66.9h0M-115.4,63.5h0M-114.1,61.4h0M-119.8,49.9h0M-121.7,54.0h0M-121.5,62.2h0M-118.4,63.0h0M-115.5,65.3h0M-120.2,52.1h0M-124.1,51.2h0M-118.7,53.4h0M-121.1,58.6h0M-120.9,57.9h0M-115.8,57.2h0M-126.9,45.3h0M-118.8,54.6h0M-117.3,54.3h0M-119.9,52.8h0M-120.8,58.8h0M-120.4,62.8h0M-120.0,48.4h0M-111.7,67.2h0M-114.6,57.6h0M-118.3,50.1h0M-111.3,65.6h0M-120.9,47.9h0M-124.2,48.1h0M-120.3,55.3h0M-121.2,52.1h0M-121.1,59.4h0M-128.7,47.3h0M-124.4,49.1h0M-113.6,60.9h0M-117.0,62.8h0" stroke="#fff" stroke-width="1.3" stroke-linecap="round" fill="none"/>
<path d="M-128.5,36.0 L-132.3,36.1 L-134.8,35.9 L-133.5,34.6 L-133.8,33.7 L-134.5,33.0 L-134.8,32.1 L-135.7,31.4 L-136.4,30.6 L-136.8,29.7 L-137.1,28.8 L-136.6,27.8 L-137.1,27.0 L-135.3,25.7 L-135.1,24.7 L-135.4,23.9 L-135.1,22.9 L-137.3,22.3 L-136.7,21.3 L-137.8,20.6 L-138.3,19.7 L-137.2,18.6 L-135.0,17.4 L-134.6,16.5 L-124.7,15.0 A125.6,125.6 0 0 0 -121.0,33.9Z" fill="#d581b7"/>
<path d="M-139.4,28.3h0M-137.3,35.4h0M-138.4,17.2h0M-134.5,31.5h0M-137.6,19.1h0M-138.8,32.1h0M-138.4,23.7h0M-137.9,20.1h0M-135.3,26.8h0M-137.4,30.0h0M-138.1,20.5h0M-135.2,23.3h0M-134.5,32.0h0M-137.2,25.5h0M-137.2,22.6h0M-139.1,18.1h0M-138.6,26.1h0M-134.9,33.8h0M-137.4,26.2h0" stroke="#d581b7" stroke-width="1.4" stroke-linecap="round" fill="none"/>
<path d="M-132.2,21.2h0M-128.1,24.5h0M-128.9,26.3h0M-127.9,34.6h0M-134.2,28.6h0M-128.5,22.5h0M-133.3,29.5h0M-130.0,20.2h0M-134.9,28.3h0M-133.4,22.5h0M-131.0,17.8h0M-126.2,22.8h0M-127.7,33.6h0M-128.1,22.3h0M-134.8,28.5h0M-127.8,29.8h0M-127.5,28.2h0M-132.0,29.6h0M-127.9,34.6h0M-125.2,31.3h0M-125.2,32.8h0M-132.4,30.4h0M-130.5,19.8h0M-128.0,33.1h0M-125.0,31.4h0M-136.3,18.3h0M-131.7,21.7h0M-130.3,32.3h0M-131.0,33.7h0M-132.3,30.6h0M-124.2,32.9h0M-132.5,19.0h0M-131.3,27.4h0M-128.9,22.7h0M-129.1,31.3h0M-127.8,21.3h0M-131.9,16.7h0M-135.4,21.5h0M-128.1,26.1h0M-133.9,22.0h0M-127.0,21.7h0M-132.9,18.0h0" stroke="#fff" stroke-width="1.3" stroke-linecap="round" fill="none"/>
<path d="M-132.2,-28.9 L-135.5,-30.6 L-136.1,-31.7 L-136.1,-32.6 L-137.8,-34.0 L-138.4,-35.1 L-137.7,-35.9 L-136.2,-36.5 L-138.4,-38.0 L-136.0,-38.3 L-136.8,-39.5 L-136.5,-40.4 L-135.5,-41.1 L-135.4,-42.0 L-134.8,-42.8 L-134.3,-43.6 L-133.4,-44.3 L-134.7,-45.7 L-134.3,-46.6 L-132.7,-47.0 L-134.2,-48.5 L-132.3,-48.8 L-132.1,-49.7 L-133.1,-51.1 L-131.9,-51.7 L-131.0,-52.3 L-131.5,-53.5 L-131.1,-54.4 L-129.5,-54.7 L-128.4,-55.2 L-129.9,-56.9 L-129.6,-57.8 L-128.7,-58.4 L-126.9,-58.6 L-128.2,-60.2 L-126.1,-60.3 L-127.4,-61.9 L-126.4,-62.4 L-126.0,-63.3 L-123.8,-63.2 L-122.9,-63.7 L-122.1,-64.4 L-118.7,-63.6 L-116.3,-63.3 L-110.0,-60.6 A125.6,125.6 0 0 0 -122.7,-26.9Z" fill="#7c162c"/>
<path d="M-136.8,-47.5h0M-130.4,-54.7h0M-140.5,-34.2h0M-128.3,-63.3h0M-139.4,-39.4h0M-133.7,-29.7h0M-139.1,-44.2h0M-135.3,-31.1h0M-130.8,-59.5h0M-136.0,-41.0h0M-129.2,-64.2h0M-125.2,-64.7h0M-140.0,-34.3h0M-132.7,-56.5h0M-129.2,-59.9h0M-119.6,-64.8h0M-135.1,-48.4h0M-129.0,-61.1h0M-121.5,-64.3h0M-127.4,-65.3h0M-134.5,-43.9h0M-132.5,-54.3h0M-121.3,-65.0h0M-131.0,-59.1h0M-139.3,-37.7h0M-133.4,-47.5h0M-137.3,-41.7h0M-129.9,-59.1h0M-135.1,-43.0h0M-129.7,-61.4h0M-128.8,-63.2h0M-137.6,-32.8h0M-133.3,-48.5h0M-126.6,-61.6h0M-135.3,-30.2h0M-135.7,-31.8h0" stroke="#7c162c" stroke-width="1.4" stroke-linecap="round" fill="none"/>
<path d="M-125.3,-51.4h0M-131.2,-32.2h0M-124.3,-46.1h0M-120.7,-52.1h0M-132.3,-39.8h0M-126.9,-51.5h0M-129.8,-50.1h0M-132.2,-33.3h0M-121.1,-62.5h0M-134.8,-34.6h0M-133.6,-30.3h0M-121.0,-56.3h0M-130.1,-32.3h0M-134.0,-31.0h0M-133.9,-33.4h0M-121.5,-56.7h0M-115.8,-59.8h0M-123.3,-49.7h0M-132.4,-35.2h0M-125.0,-44.0h0M-120.6,-50.0h0M-130.2,-34.5h0M-130.5,-37.5h0M-117.8,-52.0h0M-119.4,-49.8h0M-131.5,-47.6h0M-130.3,-36.1h0M-126.6,-33.7h0M-123.3,-36.4h0M-123.0,-61.2h0M-127.1,-36.5h0M-125.4,-51.8h0M-124.4,-62.2h0M-121.7,-62.9h0M-119.5,-56.7h0M-119.9,-55.9h0M-132.9,-34.3h0M-129.1,-48.4h0M-121.1,-62.0h0M-124.1,-56.4h0M-126.1,-51.2h0M-130.1,-50.3h0M-129.7,-36.4h0M-131.0,-37.5h0M-128.1,-56.0h0M-125.3,-51.7h0M-125.6,-47.4h0M-119.1,-59.4h0M-126.6,-54.4h0M-125.2,-60.1h0M-130.2,-48.4h0M-128.8,-52.0h0M-136.0,-34.2h0M-126.8,-52.3h0M-133.6,-42.2h0M-113.5,-60.8h0M-127.0,-57.6h0M-130.0,-39.2h0M-124.9,-33.5h0M-116.9,-56.0h0M-115.0,-61.7h0M-115.9,-55.4h0M-124.0,-57.7h0M-132.1,-32.8h0M-126.1,-33.8h0M-121.9,-57.4h0M-127.0,-30.4h0M-124.5,-34.2h0M-117.9,-62.2h0M-131.5,-34.4h0M-121.2,-59.4h0M-123.0,-63.2h0M-121.7,-43.4h0M-131.9,-38.4h0M-132.8,-30.1h0M-119.8,-49.7h0M-127.7,-32.2h0M-126.7,-49.4h0M-128.7,-36.2h0M-130.1,-46.4h0" stroke="#fff" stroke-width="1.3" stroke-linecap="round" fill="none"/>
<path d="M-111.4,-67.9 L-112.4,-69.5 L-113.1,-71.0 L-115.7,-73.6 L-115.1,-74.4 L-115.4,-75.6 L-113.3,-75.3 L-113.2,-76.3 L-113.3,-77.4 L-113.5,-78.7 L-114.1,-80.3 L-114.1,-81.3 L-114.1,-82.5 L-111.9,-82.0 L-111.8,-83.1 L-112.5,-84.8 L-112.6,-86.0 L-111.5,-86.3 L-112.0,-87.9 L-110.9,-88.2 L-112.1,-90.4 L-109.9,-89.8 L-109.5,-90.7 L-108.6,-91.1 L-109.5,-93.2 L-107.2,-92.4 L-107.2,-93.7 L-105.8,-93.7 L-104.9,-94.1 L-105.7,-96.1 L-104.2,-96.0 L-103.3,-96.4 L-101.2,-95.7 L-101.3,-97.1 L-100.1,-97.2 L-98.1,-96.5 L-96.0,-95.7 L-93.8,-94.7 L-92.8,-95.0 L-90.7,-94.1 L-87.0,-90.6 A125.6,125.6 0 0 0 -107.3,-65.4Z" fill="#26755d"/>
<path d="M-101.9,-98.8h0M-101.6,-96.2h0M-92.8,-95.8h0M-113.6,-70.7h0M-95.4,-97.2h0M-106.2,-96.6h0M-116.0,-71.6h0M-115.4,-83.1h0M-111.6,-91.4h0M-113.4,-92.3h0M-101.2,-96.8h0M-99.7,-96.1h0M-113.5,-84.1h0M-114.7,-71.8h0M-115.3,-70.4h0M-102.4,-97.0h0M-114.6,-72.4h0M-103.8,-96.0h0M-115.7,-74.4h0M-109.3,-91.4h0M-114.3,-85.9h0M-105.1,-95.9h0M-91.1,-94.4h0M-103.8,-95.0h0M-97.8,-97.5h0M-116.5,-78.3h0M-98.0,-96.1h0M-100.8,-98.8h0M-115.3,-85.7h0M-106.6,-96.0h0M-113.4,-85.7h0M-103.5,-98.0h0" stroke="#26755d" stroke-width="1.4" stroke-linecap="round" fill="none"/>
<path d="M-90.8,-91.1h0M-96.4,-94.2h0M-107.2,-78.9h0M-112.0,-72.7h0M-110.9,-87.4h0M-108.1,-78.0h0M-91.5,-93.9h0M-92.1,-93.7h0M-110.1,-71.3h0M-113.0,-73.8h0M-105.5,-74.2h0M-111.8,-82.5h0M-102.1,-90.1h0M-104.2,-83.9h0M-109.5,-69.6h0M-106.4,-77.7h0M-106.3,-87.8h0M-98.5,-88.7h0M-109.4,-71.3h0M-108.3,-88.7h0M-107.8,-70.3h0M-96.8,-94.1h0M-97.6,-94.5h0M-111.8,-84.4h0M-103.5,-89.2h0M-104.0,-89.2h0M-109.7,-71.4h0M-109.2,-86.2h0M-110.3,-82.1h0M-100.8,-90.8h0M-110.2,-69.0h0M-105.1,-79.1h0M-105.4,-88.5h0M-105.9,-76.3h0M-108.3,-70.1h0M-91.3,-93.6h0M-96.9,-87.8h0M-113.2,-74.6h0M-106.8,-92.4h0M-95.1,-90.7h0M-95.2,-95.1h0M-101.5,-92.9h0M-107.5,-82.9h0M-96.9,-93.6h0M-94.6,-94.3h0M-92.9,-92.7h0M-110.1,-76.4h0M-106.2,-91.9h0M-107.4,-77.2h0M-104.1,-94.2h0M-107.2,-87.3h0M-106.7,-86.6h0M-103.5,-92.2h0M-110.9,-74.4h0M-112.5,-75.7h0M-100.1,-94.9h0M-101.1,-89.8h0M-95.0,-90.7h0M-104.2,-93.6h0M-96.5,-91.8h0M-106.1,-80.0h0M-94.1,-90.4h0M-110.0,-82.0h0M-110.7,-70.9h0M-106.7,-83.9h0M-107.1,-81.8h0M-112.0,-79.9h0M-98.2,-95.2h0M-109.7,-82.3h0M-92.5,-93.1h0M-103.1,-85.6h0M-112.1,-79.4h0M-111.4,-87.1h0M-106.1,-83.1h0" stroke="#fff" stroke-width="1.3" stroke-linecap="round" fill="none"/>
<path d="M-8.4,-131.4 L-8.1,-141.0 L-7.1,-140.9 L-6.2,-141.4 L-5.3,-141.4 L-4.4,-142.4 L-3.5,-142.4 L-2.5,-140.9 L-1.6,-125.6 A125.6,125.6 0 0 0 -8.0,-125.4Z" fill="#f8c120"/>
<path d="M-5.5,-141.9h0M-4.9,-143.1h0M-3.7,-145.7h0M-3.8,-144.1h0M-5.4,-141.3h0M-3.8,-142.1h0" stroke="#f8c120" stroke-width="1.4" stroke-linecap="round" fill="none"/>
<path d="M-5.9,-135.3h0M-3.2,-135.2h0M-7.7,-133.5h0M-4.8,-136.3h0M-2.8,-133.9h0M-3.8,-135.2h0M-5.1,-139.5h0M-3.5,-136.0h0M-3.4,-135.3h0M-3.6,-135.1h0M-5.8,-139.3h0M-7.1,-139.0h0M-6.0,-137.3h0M-4.1,-134.6h0M-3.0,-139.7h0M-5.9,-136.9h0" stroke="#fff" stroke-width="1.3" stroke-linecap="round" fill="none"/>
<path d="M74.5,-108.2h0M76.2,-108.5h0M75.9,-109.5h0M74.8,-108.6h0M76.2,-108.2h0M76.6,-108.4h0M88.2,-103.3h0M86.8,-103.8h0M85.4,-103.2h0M85.6,-103.7h0M84.9,-103.1h0M85.5,-102.2h0M86.5,-102.0h0M84.2,-100.0h0M85.7,-99.7h0M85.6,-104.4h0M86.2,-105.9h0M85.6,-104.2h0M84.9,-105.5h0M85.4,-103.7h0M73.0,-116.0h0M72.7,-115.7h0M71.5,-118.4h0M70.1,-117.5h0M68.7,-112.8h0M69.2,-113.4h0M67.8,-112.9h0M68.9,-113.7h0M68.2,-113.0h0M84.3,-106.4h0M85.3,-106.2h0M84.3,-105.4h0M83.4,-104.0h0M85.2,-106.9h0M81.0,-106.7h0M73.3,-119.1h0M71.9,-119.2h0M94.9,-101.5h0M95.5,-102.9h0M81.4,-105.1h0M78.7,-104.3h0M78.7,-106.7h0M79.8,-104.5h0M79.4,-104.6h0M74.9,-116.1h0M74.5,-116.5h0M82.0,-103.4h0M83.3,-104.4h0M83.0,-105.4h0M81.7,-105.6h0M80.0,-102.9h0M81.9,-104.9h0M85.7,-108.5h0M86.5,-106.4h0M86.6,-106.7h0M84.2,-107.5h0M93.2,-94.1h0M93.6,-96.6h0M72.5,-115.4h0M70.5,-115.3h0M71.6,-114.3h0M72.5,-113.7h0M87.6,-103.3h0M88.1,-101.2h0M89.0,-104.1h0M97.9,-96.5h0M96.2,-96.1h0M97.4,-95.6h0M92.1,-97.8h0M92.0,-97.3h0M91.3,-97.2h0M92.6,-97.3h0M92.8,-97.0h0M94.5,-97.9h0M86.9,-104.9h0M87.0,-104.3h0M88.2,-103.1h0M89.4,-96.3h0M89.1,-97.4h0M87.8,-96.5h0M89.3,-97.4h0M89.5,-95.0h0M88.9,-96.6h0M91.6,-104.3h0M89.5,-105.5h0M88.4,-105.1h0M88.6,-104.1h0M89.4,-104.4h0M74.0,-119.1h0M72.5,-116.5h0M74.2,-117.9h0M73.0,-118.4h0M74.3,-117.5h0M73.7,-117.6h0M74.4,-117.5h0M93.0,-99.7h0M92.4,-97.4h0M90.3,-100.6h0M92.0,-99.9h0M91.1,-100.5h0M91.3,-99.6h0M89.7,-99.6h0M90.2,-100.5h0M88.4,-99.3h0M89.2,-97.9h0M90.1,-98.0h0M90.2,-97.6h0M91.1,-96.8h0M89.5,-96.6h0M91.2,-96.5h0M90.2,-99.4h0" stroke="#413496" stroke-width="1.8" stroke-linecap="round" fill="none"/>
<path d="M91.8,101.1h0M90.1,102.5h0M89.6,99.9h0M89.0,100.9h0M90.8,101.4h0M97.8,94.6h0M95.6,96.3h0M88.4,96.6h0M89.7,96.4h0M92.6,93.0h0M101.2,85.9h0M98.9,86.7h0M98.5,86.6h0M102.1,83.8h0M98.4,87.4h0M100.7,87.6h0M93.6,98.0h0M95.3,95.2h0M96.6,95.5h0M92.9,99.0h0M93.6,98.7h0M95.6,100.7h0M92.0,104.6h0M96.0,101.5h0M91.3,102.7h0M92.8,101.8h0M93.1,103.7h0M93.1,102.5h0M88.3,103.3h0M93.6,101.6h0M86.0,107.1h0M88.3,103.2h0M91.2,102.1h0M110.2,85.4h0M107.9,86.4h0M107.1,87.3h0M107.0,89.3h0M107.5,87.3h0M102.4,97.9h0M99.4,99.0h0M96.2,100.6h0M91.9,102.2h0M96.6,98.2h0M97.3,97.1h0M96.5,100.0h0M96.5,99.4h0M98.3,97.7h0M89.8,105.2h0M90.1,104.0h0M89.2,106.3h0M106.4,84.9h0M107.2,84.4h0M106.5,86.3h0M105.8,85.3h0M94.3,105.2h0M93.1,106.5h0M93.8,105.2h0M91.8,108.0h0M95.0,106.6h0M93.6,107.3h0M94.6,105.3h0M98.8,90.7h0M99.8,90.6h0M100.4,89.6h0M99.7,89.8h0M93.1,92.2h0M91.7,95.8h0M92.4,95.2h0M91.7,94.3h0M105.1,89.1h0M105.1,89.3h0M102.8,92.3h0M104.2,90.1h0M91.8,101.4h0M88.9,104.2h0M89.4,102.5h0M85.2,105.1h0M87.1,105.9h0M93.4,97.0h0M92.7,96.6h0" stroke="#7c162c" stroke-width="1.8" stroke-linecap="round" fill="none"/>
<path d="M9.9,131.4h0M10.4,131.7h0M10.0,131.2h0M8.0,133.0h0M6.4,129.7h0M4.1,131.1h0M5.7,131.2h0M7.5,129.8h0M5.7,130.7h0M2.5,129.1h0M2.8,127.2h0M1.6,129.1h0M2.3,129.0h0M3.1,129.4h0M3.3,130.0h0M4.3,138.7h0M4.2,136.3h0M4.1,136.6h0M4.9,135.4h0M5.6,136.2h0M4.2,136.3h0M7.9,133.6h0M6.2,133.1h0M6.2,132.6h0M7.0,133.4h0M5.9,131.4h0M2.7,133.2h0M4.8,132.1h0M4.1,130.5h0M5.9,129.6h0M4.2,130.8h0M4.9,133.1h0M5.0,132.9h0M6.7,134.1h0M6.4,134.7h0M6.3,133.2h0M6.7,132.0h0M7.5,135.3h0M5.3,134.0h0M6.6,133.3h0M4.4,134.6h0M5.1,134.2h0M4.5,135.0h0M6.0,132.9h0M5.9,134.4h0M4.5,132.4h0M6.7,133.7h0M4.1,132.6h0M7.6,131.8h0M8.4,132.9h0M7.1,133.7h0M6.1,131.9h0M8.0,131.5h0M2.1,133.5h0M0.6,131.6h0M4.2,133.9h0M9.3,130.9h0M8.1,130.8h0M8.2,132.9h0M8.9,131.6h0M9.7,132.2h0M10.2,131.5h0" stroke="#f8c120" stroke-width="1.8" stroke-linecap="round" fill="none"/>
<path d="M-6.3,128.4h0M-8.4,128.7h0M-8.4,128.2h0M-7.5,127.0h0M-6.1,130.8h0M-7.9,127.9h0M-6.8,127.6h0M-8.8,133.2h0M-8.6,134.3h0M-10.6,133.4h0M-6.3,134.5h0M-8.6,132.8h0M-9.8,134.5h0M-9.4,134.9h0M-4.9,126.2h0M-5.0,127.7h0M-4.9,127.5h0M-2.9,127.0h0M-4.9,127.2h0M-3.2,127.1h0M-5.1,128.2h0M2.8,133.6h0M1.8,135.0h0M2.3,132.9h0M3.7,135.6h0M4.0,134.7h0M2.3,134.7h0M3.1,134.9h0" stroke="#f8c120" stroke-width="1.8" stroke-linecap="round" fill="none"/>
<path d="M-87.8,93.1h0M-88.7,93.6h0M-85.6,100.2h0M-86.3,100.9h0M-87.0,101.7h0M-88.2,103.3h0M-88.9,104.1h0M-85.7,97.1h0M-86.5,97.8h0M-87.7,99.4h0M-84.7,99.8h0M-86.6,102.2h0M-105.9,73.3h0M-107.7,74.3h0M-109.3,75.5h0M-107.6,76.9h0M-108.4,77.5h0M-109.3,78.1h0M-110.2,78.5h0M-110.8,79.4h0M-107.3,72.9h0M-109.2,73.7h0M-109.8,74.6h0M-104.4,83.1h0M-85.1,99.9h0M-85.4,100.9h0M-89.6,105.4h0M-105.5,77.2h0M-106.1,78.1h0M-107.9,79.1h0M-108.8,79.5h0M-109.5,80.4h0M-87.7,95.7h0M-88.2,96.7h0M-89.2,97.2h0M-89.8,98.0h0M-104.1,77.4h0M-105.0,77.9h0M-105.7,78.8h0M-106.4,79.5h0M-87.4,95.1h0M-88.1,95.8h0M-91.1,98.6h0M-91.7,99.4h0M-84.3,99.4h0M-95.7,89.5h0M-88.3,107.6h0M-99.0,98.3h0M-105.9,81.3h0M-93.9,104.0h0M-91.5,89.4h0M-102.8,94.6h0M-111.2,78.6h0M-103.7,95.6h0M-104.7,77.0h0M-89.1,94.1h0M-111.7,85.0h0M-105.9,84.5h0M-94.1,87.3h0" stroke="#d60b6f" stroke-width="1.8" stroke-linecap="round" fill="none"/>
<path d="M-130.9,-12.2h0M-134.0,-12.9h0M-135.0,-12.7h0M-129.6,0.9h0M-130.6,0.6h0M-132.7,1.0h0M-127.8,-17.3h0M-128.9,-17.4h0M-129.9,-17.6h0M-130.9,-17.5h0M-131.9,-17.7h0M-132.9,-17.8h0M-133.9,-18.1h0M-128.0,-17.0h0M-130.0,-17.2h0M-131.0,-17.8h0M-132.1,-17.6h0M-133.0,-17.9h0M-134.4,3.9h0M-136.4,4.0h0M-128.8,-13.2h0M-129.8,-13.6h0M-131.8,-13.6h0M-130.2,5.5h0M-131.2,5.6h0M-132.2,5.9h0M-133.2,5.8h0M-134.2,5.9h0M-128.1,-19.2h0M-130.4,-0.2h0M-136.9,1.1h0M-130.3,0.1h0M-130.8,-7.6h0M-134.7,0.3h0M-129.4,-13.3h0M-132.9,-3.4h0M-135.5,-17.9h0M-126.4,-16.9h0" stroke="#83d3ad" stroke-width="1.8" stroke-linecap="round" fill="none"/>
<path d="M-87.0,-102.0h0M-86.1,-103.9h0M-86.7,-106.0h0M-85.1,-104.7h0M-86.9,-104.2h0M-86.4,-105.6h0M-87.4,-105.4h0M-71.6,-113.7h0M-72.3,-112.1h0M-72.2,-114.7h0M-72.0,-111.9h0M-70.7,-110.6h0M-79.1,-111.2h0M-79.5,-111.2h0M-78.0,-111.9h0M-78.8,-110.9h0M-79.7,-111.8h0M-80.6,-112.0h0M-79.4,-112.4h0M-78.3,-107.0h0M-79.2,-107.1h0M-78.2,-106.3h0M-80.0,-106.6h0M-78.7,-105.1h0M-80.0,-106.0h0M-72.2,-109.1h0M-72.3,-111.1h0M-70.3,-111.4h0M-70.9,-110.0h0M-73.2,-109.0h0M-71.8,-109.7h0M-71.3,-110.3h0M-75.5,-115.2h0M-74.1,-115.9h0M-79.6,-105.2h0M-79.8,-104.6h0M-80.8,-105.8h0M-81.2,-104.9h0M-77.9,-104.6h0M-86.6,-108.0h0M-86.0,-106.4h0M-85.5,-109.3h0M-85.5,-109.1h0M-84.4,-111.9h0M-84.4,-110.3h0M-85.6,-108.6h0M-85.7,-106.8h0M-90.0,-105.9h0M-89.0,-107.3h0M-87.4,-107.0h0M-87.7,-107.9h0M-87.7,-107.6h0M-88.9,-107.2h0" stroke="#4197d8" stroke-width="1.8" stroke-linecap="round" fill="none"/>
<path d="M-74.9,-116.0h0M-74.8,-116.5h0M-75.3,-115.8h0M-76.6,-115.3h0M-77.1,-115.5h0M-76.1,-116.3h0M-75.3,-116.4h0M-63.8,-120.7h0M-61.6,-119.8h0M-62.5,-120.0h0M-58.1,-129.3h0M-60.8,-131.3h0M-55.5,-121.0h0M-56.6,-121.3h0M-54.3,-120.5h0M-56.6,-121.2h0M-55.6,-120.7h0M-55.3,-119.4h0M-55.3,-120.6h0M-61.8,-120.3h0M-63.7,-116.7h0M-63.0,-118.1h0M-63.8,-119.0h0M-61.4,-117.0h0M-64.3,-117.3h0M-56.2,-127.6h0M-55.1,-126.3h0M-57.6,-127.7h0M-54.3,-127.4h0M-56.5,-124.2h0M-58.7,-125.8h0M-58.4,-126.6h0M-59.5,-126.4h0M-58.1,-126.0h0M-70.5,-123.0h0M-70.8,-123.7h0M-71.5,-124.5h0M-70.7,-115.2h0M-71.5,-115.8h0M-71.7,-116.4h0M-68.5,-122.9h0M-66.8,-121.3h0M-67.9,-124.2h0M-68.9,-120.1h0M-67.3,-121.3h0M-66.5,-122.4h0M-64.0,-122.0h0M-65.8,-121.5h0M-68.3,-122.2h0M-65.3,-122.2h0M-66.3,-121.0h0M-67.0,-121.8h0M-67.8,-117.4h0M-68.8,-118.8h0M-68.4,-116.0h0M-67.8,-118.4h0M-67.7,-115.6h0M-68.0,-115.6h0M-66.9,-118.2h0M-55.2,-121.4h0M-57.8,-123.0h0M-55.7,-122.9h0M-56.0,-122.4h0M-55.8,-121.8h0M-52.5,-122.4h0M-53.2,-120.8h0M-65.3,-118.0h0M-61.9,-116.2h0M-62.9,-118.3h0M-64.4,-117.4h0M-62.9,-119.9h0M-65.2,-126.4h0M-67.7,-126.2h0M-64.9,-126.4h0M-63.5,-125.5h0M-66.9,-125.7h0M-66.7,-124.8h0M-64.5,-123.7h0M-64.8,-122.2h0M-62.7,-122.6h0M-60.7,-121.8h0M-62.3,-120.3h0M-61.3,-120.6h0M-64.4,-120.5h0M-62.0,-122.4h0M-69.7,-114.5h0M-70.0,-114.2h0M-69.7,-114.2h0M-71.6,-113.7h0M-68.2,-115.4h0M-69.3,-114.0h0M-70.1,-113.3h0M-65.4,-119.5h0M-65.7,-122.6h0M-65.9,-122.8h0M-63.7,-123.0h0M-65.2,-120.7h0M-56.6,-121.9h0M-57.6,-121.2h0M-59.0,-120.0h0M-59.9,-121.2h0M-58.3,-118.7h0M-68.7,-119.1h0M-68.5,-119.7h0M-69.6,-120.6h0M-66.9,-120.1h0M-67.3,-119.5h0M-68.5,-122.9h0M-71.0,-122.1h0M-69.6,-119.5h0M-71.3,-120.7h0M-64.6,-124.6h0M-63.6,-124.7h0M-62.8,-124.5h0M-65.3,-125.0h0M-65.1,-125.9h0M-62.8,-124.8h0" stroke="#4197d8" stroke-width="1.8" stroke-linecap="round" fill="none"/>
<circle cx="14.3" cy="-143.6" r="3.4" fill="#18f018"/>
<circle cx="49.3" cy="-136.1" r="3.4" fill="#18f018"/>
<circle cx="55.9" cy="-136.3" r="3.4" fill="#18f018"/>
<circle cx="120.1" cy="-82.8" r="3.4" fill="#18f018"/>
<circle cx="137.3" cy="-45.9" r="3.4" fill="#18f018"/>
<circle cx="141.9" cy="-45.5" r="3.4" fill="#18f018"/>
<circle cx="140.3" cy="-37.3" r="3.4" fill="#18f018"/>
<circle cx="143.0" cy="-38.8" r="3.4" fill="#18f018"/>
<circle cx="144.3" cy="-19.3" r="3.4" fill="#18f018"/>
<circle cx="147.5" cy="-13.4" r="3.4" fill="#18f018"/>
<circle cx="145.3" cy="21.2" r="3.4" fill="#18f018"/>
<circle cx="149.4" cy="22.6" r="3.4" fill="#18f018"/>
<circle cx="142.0" cy="32.8" r="3.4" fill="#18f018"/>
<circle cx="141.4" cy="47.0" r="3.4" fill="#18f018"/>
<circle cx="125.6" cy="71.1" r="3.4" fill="#18f018"/>
<circle cx="93.8" cy="111.7" r="3.4" fill="#18f018"/>
<circle cx="81.2" cy="119.9" r="3.4" fill="#18f018"/>
<circle cx="76.1" cy="123.2" r="3.4" fill="#18f018"/>
<circle cx="70.0" cy="126.2" r="3.4" fill="#18f018"/>
<circle cx="65.3" cy="131.6" r="3.4" fill="#18f018"/>
<circle cx="61.4" cy="135.5" r="3.4" fill="#18f018"/>
<circle cx="39.8" cy="138.7" r="3.4" fill="#18f018"/>
<circle cx="40.5" cy="145.1" r="3.4" fill="#18f018"/>
<circle cx="-21.8" cy="146.1" r="3.4" fill="#18f018"/>
<circle cx="-55.1" cy="138.4" r="3.4" fill="#18f018"/>
<circle cx="-55.8" cy="140.9" r="3.4" fill="#18f018"/>
<circle cx="-59.4" cy="132.1" r="3.4" fill="#18f018"/>
<circle cx="-67.5" cy="128.6" r="3.4" fill="#18f018"/>
<circle cx="-71.6" cy="126.0" r="3.4" fill="#18f018"/>
<circle cx="-87.8" cy="117.8" r="3.4" fill="#18f018"/>
<circle cx="-131.1" cy="63.4" r="3.4" fill="#18f018"/>
<circle cx="-135.0" cy="61.0" r="3.4" fill="#18f018"/>
<circle cx="-138.1" cy="59.2" r="3.4" fill="#18f018"/>
<circle cx="-140.3" cy="54.4" r="3.4" fill="#18f018"/>
<circle cx="-145.0" cy="20.4" r="3.4" fill="#18f018"/>
<circle cx="-149.4" cy="19.4" r="3.4" fill="#18f018"/>
<circle cx="-136.3" cy="-53.7" r="3.4" fill="#18f018"/>
<circle cx="-128.1" cy="-66.4" r="3.4" fill="#18f018"/>
<circle cx="-119.8" cy="-88.6" r="3.4" fill="#18f018"/>
<circle cx="-106.8" cy="-101.4" r="3.4" fill="#18f018"/>
<circle cx="-4.3" cy="-144.7" r="3.4" fill="#18f018"/>
<circle cx="-4.4" cy="-148.1" r="3.4" fill="#18f018"/>
<circle cx="-3.7" cy="-150.7" r="3.4" fill="#18f018"/>
<circle cx="134.0" cy="75.5" r="3.1" fill="#ee1111"/>
<circle cx="-154.7" cy="21.7" r="3.1" fill="#ee1111"/>
<circle cx="-138.1" cy="-67.4" r="3.1" fill="#ee1111"/>
<path d="M2.2,-95.4 L3.2,-97.9 L4.2,-99.3 L5.1,-100.1 L6.1,-101.2 L7.0,-100.6 L8.0,-101.0 L8.5,-96.2 L9.5,-97.7 L10.4,-97.6 L11.3,-96.9 L12.3,-97.9 L13.7,-101.3 L14.7,-102.2 L15.2,-98.7 L16.1,-98.5 L16.7,-97.0 L17.3,-95.3 L18.7,-97.5 L20.0,-99.6 L20.3,-96.5 L20.8,-94.6 L19.4,-84.3 A86.5,86.5 0 0 0 2.0,-86.5Z" fill="#4197d8"/>
<path d="M6.7,-101.8h0M2.4,-96.5h0M8.3,-97.7h0M4.3,-99.5h0M4.1,-101.8h0M7.7,-101.1h0M3.7,-101.0h0M6.2,-99.9h0M10.0,-101.3h0M20.8,-97.9h0M14.2,-100.1h0M21.0,-100.3h0M7.6,-103.8h0M5.7,-100.9h0M8.2,-100.7h0M7.6,-102.2h0M7.5,-99.6h0M4.7,-101.5h0M11.4,-99.9h0M15.6,-98.4h0M6.3,-101.4h0M17.6,-99.0h0M11.8,-100.4h0M7.8,-103.9h0M15.7,-101.9h0" stroke="#4197d8" stroke-width="1.4" stroke-linecap="round" fill="none"/>
<path d="M9.3,-93.4h0M12.7,-96.1h0M16.4,-90.2h0M5.2,-92.8h0M3.1,-90.5h0M14.8,-94.6h0M12.4,-97.7h0M13.3,-98.7h0M8.3,-96.1h0M20.0,-94.8h0M11.1,-93.2h0M17.3,-88.6h0M8.7,-92.2h0M17.6,-88.6h0M18.7,-95.3h0M16.3,-93.7h0M10.2,-89.3h0M14.5,-88.4h0M17.9,-89.6h0M15.7,-89.2h0M10.1,-89.2h0M8.0,-92.4h0M18.6,-92.4h0M19.1,-94.1h0M6.5,-91.3h0M20.5,-92.3h0M8.1,-97.5h0M10.6,-89.2h0M4.3,-96.1h0M15.5,-89.5h0M17.0,-93.9h0M12.6,-89.4h0M13.2,-93.7h0M5.9,-93.0h0M20.1,-98.5h0M7.4,-92.8h0M19.1,-90.6h0M18.9,-93.3h0M19.1,-87.1h0M5.7,-97.7h0M13.6,-95.1h0M12.1,-93.7h0M9.0,-96.5h0M11.1,-89.2h0" stroke="#fff" stroke-width="1.3" stroke-linecap="round" fill="none"/>
<path d="M26.0,-88.8 L28.0,-92.4 L28.9,-92.1 L29.9,-92.5 L30.7,-91.9 L32.7,-95.0 L35.0,-98.8 L35.5,-97.3 L36.4,-97.1 L37.6,-97.6 L37.1,-93.6 L38.2,-93.8 L38.3,-91.5 L38.6,-89.9 L39.8,-90.4 L39.9,-88.5 L40.5,-87.7 L40.7,-86.0 L41.7,-86.1 L43.6,-87.9 L43.8,-86.4 L44.6,-86.0 L45.7,-86.2 L44.9,-82.8 L44.8,-80.7 L42.1,-75.6 A86.5,86.5 0 0 0 24.4,-83.0Z" fill="#f8c120"/>
<path d="M45.6,-88.1h0M37.6,-100.9h0M36.4,-99.5h0M44.4,-89.5h0M37.0,-102.0h0M33.3,-96.5h0M39.3,-92.9h0M39.5,-91.8h0M43.1,-87.0h0M38.5,-95.6h0M45.4,-86.3h0M37.7,-98.7h0M36.0,-100.1h0M45.7,-84.5h0M45.5,-89.3h0M38.6,-92.7h0M30.4,-94.5h0M44.7,-87.1h0M36.2,-101.7h0M31.3,-94.4h0M43.3,-88.2h0M36.7,-100.2h0M37.6,-99.8h0M44.6,-89.2h0M42.7,-86.5h0M36.3,-100.8h0M41.7,-91.5h0M37.4,-92.7h0" stroke="#f8c120" stroke-width="1.4" stroke-linecap="round" fill="none"/>
<path d="M27.0,-85.3h0M31.5,-83.9h0M27.5,-87.4h0M38.3,-82.1h0M36.7,-90.3h0M37.5,-86.0h0M38.9,-84.0h0M35.2,-93.5h0M44.7,-81.4h0M34.5,-89.0h0M39.5,-86.3h0M31.6,-87.2h0M39.9,-85.3h0M43.8,-79.7h0M35.7,-91.1h0M39.6,-81.1h0M40.2,-79.8h0M36.0,-85.6h0M27.2,-89.9h0M26.8,-87.1h0M29.6,-85.8h0M44.9,-81.9h0M36.3,-96.2h0M30.1,-88.1h0M31.1,-84.0h0M43.7,-80.4h0M38.1,-88.1h0M44.8,-84.8h0M38.8,-88.5h0M43.9,-80.0h0M28.2,-87.6h0M33.2,-95.5h0M38.1,-87.4h0M40.0,-85.0h0M32.9,-88.0h0M35.3,-87.0h0M42.5,-80.0h0M33.1,-93.7h0M28.6,-88.3h0M37.0,-95.5h0M28.3,-88.1h0M42.6,-81.1h0M40.2,-81.7h0M26.4,-88.4h0" stroke="#fff" stroke-width="1.3" stroke-linecap="round" fill="none"/>
<path d="M66.8,-59.4 L68.8,-60.1 L72.6,-62.3 L74.1,-62.3 L74.2,-61.2 L75.6,-61.2 L76.4,-60.8 L77.2,-60.2 L78.1,-59.8 L80.2,-60.3 L78.7,-58.0 L80.4,-58.1 L81.7,-57.9 L82.4,-57.3 L82.0,-55.9 L83.2,-55.6 L82.7,-54.1 L82.8,-53.1 L85.9,-54.0 L85.2,-52.5 L87.6,-52.9 L87.4,-51.7 L84.1,-48.7 L84.3,-47.8 L82.9,-45.9 L80.1,-43.5 L76.1,-41.1 A86.5,86.5 0 0 0 64.7,-57.5Z" fill="#495226"/>
<path d="M83.3,-47.1h0M85.2,-59.1h0M84.9,-58.7h0M81.8,-60.1h0M83.8,-59.1h0M87.5,-54.4h0M86.3,-53.0h0M85.4,-55.4h0M85.7,-53.0h0M81.7,-55.8h0M83.3,-45.7h0M78.5,-62.2h0M79.7,-61.1h0M89.6,-54.3h0M82.9,-45.2h0M83.6,-57.4h0M73.8,-61.1h0M87.6,-50.2h0M86.4,-51.1h0M82.9,-54.5h0M80.7,-61.6h0M82.2,-46.1h0M88.8,-54.0h0M84.2,-53.4h0M81.1,-61.1h0M76.1,-61.5h0M81.6,-57.7h0M77.2,-60.7h0M76.0,-61.2h0" stroke="#495226" stroke-width="1.4" stroke-linecap="round" fill="none"/>
<path d="M70.9,-54.6h0M82.6,-53.0h0M77.7,-45.0h0M83.7,-51.4h0M74.7,-54.4h0M78.5,-55.4h0M82.0,-48.6h0M73.8,-53.6h0M68.6,-59.1h0M74.9,-49.9h0M81.7,-46.9h0M78.3,-52.4h0M80.1,-53.9h0M74.9,-51.0h0M79.7,-57.1h0M78.6,-56.8h0M77.5,-44.2h0M82.7,-50.7h0M76.3,-49.5h0M78.5,-47.6h0M70.7,-57.2h0M68.7,-56.8h0M71.6,-54.7h0M77.8,-47.0h0M80.0,-51.1h0M79.5,-51.9h0M79.5,-57.1h0M81.6,-46.2h0M73.8,-53.4h0M75.1,-55.4h0M72.6,-59.0h0M72.1,-54.2h0M78.5,-51.8h0M81.3,-45.8h0M80.4,-45.3h0M70.6,-59.3h0M83.4,-50.4h0M78.0,-44.6h0M67.5,-58.8h0M72.0,-60.4h0M76.6,-51.9h0M77.5,-56.3h0M73.3,-58.2h0" stroke="#fff" stroke-width="1.3" stroke-linecap="round" fill="none"/>
<path d="M86.1,-39.5 L92.7,-41.5 L93.8,-41.0 L95.1,-40.5 L96.0,-39.9 L94.9,-38.4 L95.6,-37.6 L95.6,-36.6 L95.0,-35.4 L97.1,-35.2 L94.9,-33.4 L96.1,-32.8 L97.8,-32.4 L97.0,-31.1 L96.6,-30.0 L96.3,-29.0 L96.9,-28.2 L98.0,-27.5 L97.7,-26.5 L97.3,-25.4 L98.1,-24.7 L96.2,-23.2 L95.8,-22.2 L95.2,-21.1 L94.4,-20.0 L91.9,-18.6 L84.8,-17.0 A86.5,86.5 0 0 0 78.6,-36.1Z" fill="#d60b6f"/>
<path d="M99.4,-23.4h0M91.5,-41.4h0M97.4,-38.1h0M99.6,-25.2h0M95.7,-38.9h0M97.5,-40.5h0M98.9,-27.0h0M99.4,-31.1h0M96.4,-32.5h0M95.7,-20.3h0M98.4,-32.1h0M95.3,-38.3h0M96.0,-42.6h0M97.1,-23.9h0M96.0,-38.9h0M98.0,-37.4h0M95.6,-37.4h0M99.2,-34.7h0M96.8,-26.3h0M94.0,-39.5h0M99.4,-28.0h0M95.2,-39.3h0M95.9,-22.7h0M100.0,-26.6h0M98.0,-28.0h0M100.4,-26.5h0M98.9,-30.7h0M100.5,-30.1h0M94.3,-19.5h0" stroke="#d60b6f" stroke-width="1.4" stroke-linecap="round" fill="none"/>
<path d="M86.0,-28.2h0M91.8,-31.6h0M85.3,-33.2h0M93.5,-28.8h0M86.8,-31.5h0M87.7,-20.4h0M86.2,-25.4h0M87.9,-27.9h0M86.6,-23.8h0M93.7,-22.0h0M94.1,-24.9h0M95.0,-27.4h0M91.8,-23.4h0M84.5,-38.2h0M88.9,-28.3h0M82.9,-34.7h0M92.5,-24.5h0M90.6,-25.4h0M92.8,-40.0h0M93.0,-32.8h0M88.9,-31.8h0M94.0,-21.7h0M87.4,-32.7h0M86.6,-38.0h0M92.9,-24.7h0M90.3,-19.3h0M87.5,-26.4h0M93.5,-35.8h0M89.5,-38.1h0M87.6,-22.8h0M86.9,-36.8h0M88.4,-31.9h0M87.5,-39.5h0M90.6,-24.1h0M85.3,-30.9h0M85.7,-29.2h0M89.4,-35.2h0M92.2,-33.7h0M94.6,-24.6h0M90.3,-23.9h0M93.8,-23.8h0M90.4,-23.6h0M91.1,-21.4h0M94.2,-35.0h0M86.8,-29.9h0" stroke="#fff" stroke-width="1.3" stroke-linecap="round" fill="none"/>
<path d="M94.1,-11.8 L96.5,-11.2 L97.0,-10.4 L97.9,-9.5 L97.8,-8.6 L95.7,-7.6 L95.0,-6.6 L96.2,-5.8 L96.4,-4.9 L97.4,-4.1 L97.9,-3.2 L99.4,-2.3 L102.0,-1.5 L100.2,-0.5 L95.5,0.4 L93.5,1.2 L93.7,2.1 L92.3,2.9 L93.2,3.8 L92.7,4.6 L91.5,5.4 L86.3,5.5 A86.5,86.5 0 0 0 85.9,-10.8Z" fill="#e66519"/>
<path d="M97.4,-11.2h0M97.5,-11.9h0M94.5,1.6h0M94.3,1.0h0M101.0,-9.9h0M98.9,-8.3h0M94.5,4.9h0M97.5,-3.8h0M96.0,-4.7h0M95.6,2.2h0M95.7,1.8h0M96.8,-7.8h0M100.3,-10.3h0M98.6,-3.0h0M91.9,5.4h0M96.2,-5.6h0M96.3,-7.0h0M99.3,-2.8h0M99.4,-3.6h0M98.0,-5.8h0M101.7,-2.9h0M106.0,-1.3h0M96.1,-5.5h0" stroke="#e66519" stroke-width="1.4" stroke-linecap="round" fill="none"/>
<path d="M90.7,4.4h0M92.2,-10.2h0M94.1,-9.2h0M92.5,2.5h0M91.2,-3.8h0M89.5,-8.3h0M91.5,3.9h0M90.3,2.4h0M94.7,-11.0h0M90.3,3.9h0M91.1,3.3h0M91.2,-2.6h0M91.4,-7.5h0M93.2,-5.9h0M90.5,2.0h0M90.5,2.6h0M89.5,4.1h0M89.7,3.2h0M93.8,-6.2h0M90.8,4.4h0M92.4,-10.9h0M94.3,-6.3h0M91.1,-2.3h0M90.4,-2.2h0M89.7,-6.3h0M94.0,-4.2h0M96.4,-2.0h0M89.5,-8.1h0M94.7,-8.8h0M91.9,2.4h0M89.1,-9.8h0M92.9,-10.5h0M92.7,-0.2h0M91.8,-6.6h0M93.7,-1.0h0M94.7,-4.2h0" stroke="#fff" stroke-width="1.3" stroke-linecap="round" fill="none"/>
<path d="M97.1,12.5 L98.3,13.6 L97.7,14.4 L98.8,15.5 L99.9,16.6 L99.6,17.5 L99.2,18.4 L100.6,19.6 L102.5,21.0 L102.2,21.9 L101.3,22.7 L99.2,23.2 L97.4,23.7 L96.0,24.3 L96.5,25.4 L97.1,26.5 L97.1,27.5 L95.4,27.9 L95.8,29.0 L95.8,30.0 L96.6,31.2 L93.9,31.3 L94.6,32.5 L92.2,32.6 L92.6,33.7 L91.0,34.1 L89.3,34.4 L86.0,34.0 L80.4,31.9 A86.5,86.5 0 0 0 85.8,11.1Z" fill="#d581b7"/>
<path d="M96.2,27.4h0M92.9,32.9h0M101.4,16.3h0M97.1,25.7h0M102.3,18.2h0M99.4,30.7h0M100.2,23.0h0M95.4,25.0h0M99.2,13.3h0M103.3,22.8h0M96.9,32.0h0M96.4,26.9h0M98.4,27.6h0M102.4,20.0h0M100.0,14.7h0M97.2,23.4h0M98.6,31.1h0M99.0,18.3h0M99.7,28.0h0M100.8,15.2h0M98.6,28.3h0M98.2,13.0h0M101.1,14.1h0M88.5,34.8h0M98.9,28.1h0M102.0,16.6h0M100.2,22.9h0M96.8,12.8h0M89.7,33.7h0M98.2,25.5h0M96.6,31.0h0" stroke="#d581b7" stroke-width="1.4" stroke-linecap="round" fill="none"/>
<path d="M93.7,28.9h0M93.2,21.4h0M97.4,21.7h0M95.0,19.1h0M86.2,32.9h0M88.2,20.4h0M96.5,17.2h0M88.5,31.3h0M93.1,31.4h0M88.2,28.1h0M96.6,20.6h0M85.2,28.0h0M96.8,18.9h0M91.3,24.5h0M85.5,26.8h0M90.2,18.6h0M87.8,23.0h0M87.0,19.7h0M86.3,32.6h0M89.2,25.1h0M93.9,27.0h0M94.2,19.9h0M95.1,26.7h0M86.2,33.3h0M94.9,16.9h0M95.1,22.4h0M84.3,28.8h0M85.7,30.7h0M98.6,19.6h0M87.5,33.2h0M95.5,16.7h0M96.1,13.1h0M96.0,14.9h0M93.3,14.8h0M85.7,33.4h0M85.7,32.0h0M90.6,31.9h0M90.4,31.4h0M89.9,32.8h0M99.5,20.3h0M94.4,25.3h0M93.7,28.0h0M97.9,19.0h0M87.9,20.6h0M96.1,19.7h0M90.8,20.3h0M89.6,31.5h0M83.9,31.1h0M92.7,31.1h0" stroke="#fff" stroke-width="1.3" stroke-linecap="round" fill="none"/>
<path d="M87.9,39.8 L91.0,42.2 L91.9,43.7 L93.8,45.6 L94.7,47.1 L91.8,46.8 L89.0,46.4 L88.7,47.2 L85.9,46.8 L86.5,48.2 L85.7,48.7 L83.3,48.4 L83.9,49.8 L82.0,49.7 L82.3,50.9 L80.4,50.8 L80.4,51.8 L77.8,51.2 L77.2,51.8 L74.9,51.2 L71.2,49.2 A86.5,86.5 0 0 0 78.8,35.7Z" fill="#83d3ad"/>
<path d="M77.6,53.2h0M88.7,46.8h0M82.2,52.2h0M83.0,48.3h0M88.7,47.4h0M79.6,51.7h0M91.5,42.4h0M93.3,46.7h0M92.9,44.2h0M86.6,47.5h0M81.9,50.4h0M92.1,47.7h0M96.6,48.9h0M89.7,47.3h0M78.0,52.9h0M95.1,47.9h0M78.1,53.8h0M89.5,46.7h0M77.8,52.2h0M92.0,43.3h0M82.3,51.8h0M83.5,53.4h0" stroke="#83d3ad" stroke-width="1.4" stroke-linecap="round" fill="none"/>
<path d="M81.2,49.1h0M87.4,41.6h0M79.5,50.6h0M76.2,46.7h0M89.8,44.9h0M76.6,46.1h0M86.6,45.4h0M88.6,45.4h0M82.5,47.2h0M75.5,47.8h0M83.5,45.7h0M87.4,40.2h0M86.2,40.1h0M75.8,51.1h0M80.1,50.5h0M84.9,44.6h0M79.2,48.9h0M84.2,46.7h0M84.5,40.6h0M86.0,39.5h0M80.7,44.0h0M76.0,50.4h0M75.3,48.6h0M87.2,40.5h0M85.0,41.4h0M83.8,44.4h0M85.9,40.8h0M79.8,43.2h0M87.7,42.4h0M89.2,44.4h0M76.6,49.9h0M76.2,49.7h0M82.5,39.2h0" stroke="#fff" stroke-width="1.3" stroke-linecap="round" fill="none"/>
<path d="M54.3,73.0 L57.6,78.9 L57.7,80.7 L57.6,82.1 L56.5,82.1 L56.6,83.8 L55.6,84.1 L55.7,86.0 L55.3,87.1 L53.1,85.3 L53.0,87.0 L52.3,87.6 L50.5,86.4 L49.4,86.4 L49.5,88.3 L48.8,89.0 L48.3,90.0 L47.8,91.1 L46.5,90.7 L45.9,91.6 L44.3,90.4 L42.2,88.3 L40.8,87.3 L39.6,86.7 L38.5,86.6 L35.0,79.1 A86.5,86.5 0 0 0 51.6,69.4Z" fill="#26755d"/>
<path d="M42.9,90.2h0M51.0,88.7h0M46.3,90.6h0M48.0,91.9h0M51.2,90.8h0M58.2,82.3h0M39.6,87.0h0M49.0,89.4h0M47.0,92.9h0M56.9,81.7h0M54.8,87.0h0M46.6,93.6h0M49.6,87.5h0M53.5,89.9h0M58.3,81.3h0M56.9,86.8h0M55.9,83.1h0M57.5,84.3h0M54.1,89.2h0M57.5,85.5h0M40.1,86.8h0M51.1,87.2h0M53.5,86.6h0M46.5,91.6h0M38.3,85.8h0M56.5,87.3h0M57.1,81.4h0M55.6,87.8h0" stroke="#26755d" stroke-width="1.4" stroke-linecap="round" fill="none"/>
<path d="M42.3,85.4h0M49.1,86.9h0M39.8,86.2h0M45.7,79.1h0M44.1,87.5h0M54.4,79.0h0M44.4,86.3h0M49.4,82.0h0M39.7,82.6h0M42.0,83.4h0M56.4,80.2h0M53.8,84.7h0M47.1,79.8h0M45.7,82.6h0M38.2,84.6h0M50.4,81.5h0M46.3,89.8h0M53.7,77.9h0M39.3,82.8h0M45.0,85.1h0M48.9,81.4h0M48.5,79.2h0M38.7,82.0h0M47.8,75.9h0M49.4,85.9h0M54.1,74.9h0M53.2,80.5h0M42.1,78.6h0M52.0,77.5h0M51.6,73.5h0M42.4,85.3h0M49.1,82.6h0M52.7,76.1h0M51.0,74.4h0M38.3,84.7h0M53.6,85.0h0M42.8,83.2h0M54.2,79.3h0M49.8,81.1h0M51.0,75.5h0M50.1,82.3h0M56.1,78.9h0M39.0,84.9h0M47.6,81.8h0M40.4,84.0h0M48.6,78.0h0" stroke="#fff" stroke-width="1.3" stroke-linecap="round" fill="none"/>
<path d="M35.3,88.9 L34.9,90.3 L34.4,91.5 L34.0,93.1 L33.8,95.3 L32.5,94.3 L32.4,96.8 L31.2,96.1 L30.6,97.3 L29.2,96.2 L28.6,97.2 L26.8,94.4 L26.2,95.8 L24.4,92.3 L23.8,93.7 L22.5,91.9 L21.9,93.2 L20.4,90.8 L18.5,84.5 A86.5,86.5 0 0 0 31.9,80.4Z" fill="#4197d8"/>
<path d="M25.2,95.3h0M24.3,93.8h0M32.2,98.2h0M35.1,90.9h0M34.1,94.7h0M33.1,94.4h0M28.8,97.3h0M25.6,97.1h0M28.2,97.7h0M22.6,95.6h0M31.5,99.6h0M31.2,97.7h0M34.2,97.6h0M33.5,95.7h0M30.3,95.9h0M23.0,92.0h0M35.8,96.1h0M23.8,92.5h0M34.1,95.9h0M35.1,89.2h0" stroke="#4197d8" stroke-width="1.4" stroke-linecap="round" fill="none"/>
<path d="M23.9,87.5h0M34.0,87.4h0M34.3,90.3h0M34.0,88.8h0M26.4,90.3h0M21.7,90.3h0M23.9,87.5h0M20.0,88.2h0M20.9,88.8h0M25.2,87.8h0M23.4,87.1h0M28.3,94.3h0M33.7,89.8h0M24.5,87.3h0M25.2,91.7h0M26.6,92.9h0M31.9,85.7h0M23.7,89.1h0M25.8,91.4h0M29.6,90.1h0M32.3,87.9h0M23.1,88.0h0M24.3,90.3h0M30.7,95.2h0M30.5,89.3h0" stroke="#fff" stroke-width="1.3" stroke-linecap="round" fill="none"/>
<path d="M-10.7,96.4 L-11.6,96.2 L-12.3,94.6 L-13.6,97.3 L-14.8,99.8 L-15.8,100.1 L-16.9,100.7 L-17.1,96.8 L-18.0,96.4 L-18.9,96.4 L-19.4,94.3 L-20.5,95.0 L-21.4,95.2 L-22.3,95.0 L-23.0,94.1 L-24.0,94.6 L-24.7,93.7 L-25.3,92.5 L-26.6,93.7 L-27.0,91.8 L-27.5,90.5 L-29.0,92.4 L-29.3,90.4 L-27.0,82.2 A86.5,86.5 0 0 0 -9.6,86.0Z" fill="#413496"/>
<path d="M-26.9,95.7h0M-26.5,94.9h0M-17.4,97.0h0M-19.1,98.0h0M-17.2,96.8h0M-25.6,92.4h0M-26.4,94.3h0M-24.5,95.7h0M-17.1,105.5h0M-23.0,94.6h0M-12.8,96.1h0M-11.4,96.0h0M-13.4,95.4h0M-11.7,95.3h0M-15.8,100.5h0M-16.8,95.4h0M-14.3,99.1h0M-18.6,97.6h0M-16.6,103.9h0M-17.0,99.6h0M-16.6,100.8h0M-29.8,91.0h0M-10.9,97.3h0M-11.7,95.3h0M-16.2,101.6h0" stroke="#413496" stroke-width="1.4" stroke-linecap="round" fill="none"/>
<path d="M-24.2,88.1h0M-23.7,91.6h0M-16.8,91.6h0M-12.3,92.8h0M-20.0,87.6h0M-17.1,93.9h0M-12.9,91.9h0M-16.7,93.8h0M-21.2,90.9h0M-19.1,92.3h0M-28.5,88.9h0M-15.7,88.2h0M-18.9,90.9h0M-12.5,91.5h0M-14.8,89.4h0M-20.0,88.5h0M-24.9,90.8h0M-13.2,92.1h0M-27.7,87.5h0M-24.1,90.5h0M-20.0,91.8h0M-15.7,87.7h0M-19.9,87.8h0M-18.1,91.0h0M-14.1,96.1h0M-11.9,91.3h0M-15.9,88.4h0M-27.1,90.4h0M-20.4,90.9h0M-20.6,91.2h0M-11.1,93.5h0M-26.2,89.2h0M-15.5,91.1h0M-16.9,93.9h0M-19.5,93.6h0M-13.2,92.5h0M-16.4,97.6h0M-14.6,97.0h0M-13.4,89.5h0M-25.6,87.1h0M-21.5,87.3h0M-15.5,89.1h0" stroke="#fff" stroke-width="1.3" stroke-linecap="round" fill="none"/>
<path d="M-35.9,96.8 L-36.7,96.3 L-37.4,95.5 L-37.9,94.2 L-39.2,94.8 L-38.8,91.6 L-40.2,92.4 L-41.3,92.5 L-41.8,91.5 L-43.4,92.8 L-44.6,92.9 L-45.0,91.6 L-45.1,89.8 L-46.2,89.8 L-47.6,90.6 L-48.5,90.2 L-48.3,87.8 L-48.4,86.1 L-50.3,87.7 L-50.8,86.6 L-50.5,84.4 L-52.0,85.1 L-52.5,84.2 L-54.3,85.2 L-54.3,83.6 L-55.6,84.0 L-55.5,82.0 L-55.8,80.9 L-56.5,80.4 L-56.2,78.3 L-57.1,78.2 L-57.4,77.0 L-57.5,75.7 L-52.9,68.5 A86.5,86.5 0 0 0 -30.1,81.1Z" fill="#495226"/>
<path d="M-57.3,82.4h0M-55.0,85.3h0M-41.8,92.9h0M-41.2,94.6h0M-44.1,91.8h0M-55.9,81.2h0M-58.5,77.0h0M-54.8,87.6h0M-43.6,95.4h0M-45.7,93.3h0M-48.5,90.4h0M-54.5,86.6h0M-47.1,92.8h0M-57.7,80.9h0M-48.7,89.7h0M-41.1,94.5h0M-43.2,93.1h0M-57.8,78.3h0M-46.0,93.8h0M-52.7,88.4h0M-38.9,93.7h0M-40.0,92.6h0M-47.6,92.8h0M-56.2,81.1h0M-53.7,83.8h0M-47.6,88.7h0M-43.3,95.1h0M-54.6,84.9h0M-56.8,79.0h0M-44.9,94.2h0M-39.3,94.4h0M-47.1,89.6h0M-43.4,92.6h0M-50.0,87.5h0M-50.5,86.9h0M-55.7,86.3h0M-52.9,88.1h0M-47.7,88.3h0" stroke="#495226" stroke-width="1.4" stroke-linecap="round" fill="none"/>
<path d="M-49.1,75.3h0M-37.1,89.3h0M-44.2,84.4h0M-50.2,84.7h0M-45.4,76.8h0M-34.5,87.3h0M-47.8,84.7h0M-37.9,91.0h0M-38.6,91.1h0M-48.4,82.0h0M-38.2,84.9h0M-49.7,82.1h0M-39.2,88.3h0M-57.1,76.0h0M-56.9,75.5h0M-36.0,91.2h0M-36.0,82.8h0M-47.5,86.9h0M-38.8,90.5h0M-54.2,74.9h0M-45.0,90.0h0M-44.1,85.3h0M-51.2,73.8h0M-44.4,84.9h0M-44.5,78.1h0M-36.7,89.1h0M-37.3,86.3h0M-51.7,77.1h0M-41.0,88.1h0M-44.3,77.4h0M-47.8,81.6h0M-53.4,75.0h0M-34.0,87.7h0M-54.1,74.9h0M-54.0,71.7h0M-40.3,87.2h0M-37.7,83.2h0M-53.2,75.5h0M-49.5,78.3h0M-52.4,75.6h0M-41.1,81.9h0M-50.9,75.6h0M-57.2,75.1h0M-54.1,74.9h0M-41.7,86.0h0M-32.4,85.5h0M-44.3,82.5h0M-50.7,79.2h0M-46.1,88.5h0M-48.3,83.3h0M-43.3,80.4h0M-52.4,78.4h0M-41.0,89.2h0M-53.8,76.5h0" stroke="#fff" stroke-width="1.3" stroke-linecap="round" fill="none"/>
<path d="M-76.4,47.1 L-79.3,47.9 L-80.2,47.4 L-84.0,48.6 L-84.3,47.8 L-86.0,47.7 L-85.3,46.3 L-86.5,45.9 L-88.1,45.7 L-89.3,45.3 L-87.0,43.1 L-89.2,43.2 L-89.4,42.3 L-87.9,40.6 L-87.9,39.6 L-87.1,38.3 L-89.3,38.3 L-89.7,37.5 L-90.6,36.9 L-91.2,36.2 L-94.1,36.3 L-92.1,34.6 L-94.7,34.6 L-92.5,32.8 L-93.4,32.2 L-92.9,31.0 L-82.1,27.2 A86.5,86.5 0 0 0 -73.7,45.4Z" fill="#e66519"/>
<path d="M-79.3,47.4h0M-81.8,47.5h0M-86.2,46.6h0M-91.3,41.1h0M-91.1,42.2h0M-90.9,44.7h0M-86.4,46.9h0M-86.1,47.0h0M-91.6,42.9h0M-93.1,36.9h0M-88.8,47.0h0M-92.3,39.5h0M-93.1,32.8h0M-93.1,33.5h0M-87.8,45.6h0M-86.3,46.9h0M-86.2,47.4h0M-87.8,46.7h0M-93.0,31.3h0M-81.8,47.8h0M-88.2,48.5h0M-94.7,36.0h0M-89.6,29.8h0M-78.7,47.5h0M-96.1,36.9h0M-90.8,46.5h0M-89.8,44.5h0M-95.3,37.2h0M-88.9,39.9h0" stroke="#e66519" stroke-width="1.4" stroke-linecap="round" fill="none"/>
<path d="M-80.1,44.8h0M-91.6,31.1h0M-87.2,41.0h0M-85.6,36.6h0M-85.1,36.2h0M-87.3,30.6h0M-78.3,45.2h0M-78.0,46.9h0M-87.7,37.6h0M-86.9,42.4h0M-85.5,33.3h0M-82.2,47.2h0M-82.0,46.7h0M-85.3,32.6h0M-79.8,40.1h0M-86.1,42.1h0M-84.7,39.2h0M-86.7,43.7h0M-77.5,45.5h0M-90.1,35.5h0M-84.2,41.9h0M-84.2,41.3h0M-86.3,31.4h0M-81.1,42.7h0M-83.8,31.5h0M-87.4,33.9h0M-89.1,35.7h0M-77.8,46.3h0M-86.5,41.2h0M-87.5,30.5h0M-87.3,36.6h0M-82.7,44.5h0M-84.3,41.3h0M-83.3,36.3h0M-86.0,43.9h0M-83.3,45.3h0M-77.4,46.2h0M-91.4,31.3h0M-78.3,43.2h0M-85.5,43.0h0M-88.6,36.4h0M-78.3,46.9h0M-83.1,37.4h0M-86.3,40.5h0M-80.7,46.4h0M-91.8,33.4h0" stroke="#fff" stroke-width="1.3" stroke-linecap="round" fill="none"/>
<path d="M-90.5,25.4 L-96.4,26.1 L-95.6,24.9 L-98.7,24.7 L-96.2,23.2 L-99.4,23.0 L-97.8,21.7 L-97.9,20.7 L-99.2,20.1 L-97.2,18.7 L-96.5,17.7 L-97.5,16.9 L-98.3,16.1 L-96.0,14.9 L-98.5,14.3 L-96.6,13.1 L-96.9,12.3 L-85.9,10.3 A86.5,86.5 0 0 0 -83.3,23.3Z" fill="#d581b7"/>
<path d="M-101.2,21.7h0M-99.0,16.3h0M-99.2,14.6h0M-97.5,22.4h0M-101.2,21.5h0M-93.6,25.7h0M-96.9,11.7h0M-99.1,12.5h0M-97.8,24.2h0M-100.1,15.1h0M-99.4,23.2h0M-98.9,16.5h0M-99.0,14.6h0M-99.3,13.0h0M-100.5,18.8h0M-98.2,18.1h0M-94.1,25.6h0M-99.5,13.7h0M-98.4,21.4h0" stroke="#d581b7" stroke-width="1.4" stroke-linecap="round" fill="none"/>
<path d="M-90.3,22.5h0M-87.8,19.1h0M-96.0,14.3h0M-95.8,23.0h0M-86.6,22.1h0M-95.4,18.8h0M-87.5,17.4h0M-87.6,18.0h0M-88.8,12.4h0M-90.9,23.3h0M-94.0,21.5h0M-90.8,17.7h0M-88.8,19.0h0M-90.8,21.1h0M-94.6,23.4h0M-96.2,19.8h0M-89.4,21.0h0M-91.2,12.7h0M-92.1,18.5h0M-92.6,22.6h0M-94.8,23.2h0M-88.1,20.1h0M-93.7,21.8h0M-91.8,16.9h0M-95.3,22.6h0M-93.6,23.0h0M-92.4,14.4h0M-92.0,12.8h0M-91.0,21.0h0M-90.6,23.6h0" stroke="#fff" stroke-width="1.3" stroke-linecap="round" fill="none"/>
<path d="M-96.9,-21.2 L-95.4,-21.8 L-96.7,-23.0 L-98.2,-24.4 L-97.2,-25.1 L-97.1,-26.0 L-97.0,-26.9 L-98.7,-28.4 L-96.8,-28.8 L-99.0,-30.5 L-97.8,-31.1 L-98.5,-32.3 L-99.7,-33.7 L-99.7,-34.7 L-99.7,-35.8 L-97.7,-36.1 L-97.0,-36.8 L-98.5,-38.4 L-96.9,-38.9 L-95.5,-39.3 L-95.2,-40.2 L-94.5,-40.9 L-95.1,-42.2 L-94.4,-43.0 L-93.0,-43.4 L-93.4,-44.6 L-93.0,-45.5 L-91.1,-45.6 L-90.0,-46.1 L-88.7,-46.5 L-85.3,-45.7 L-82.3,-45.1 L-75.8,-41.7 A86.5,86.5 0 0 0 -84.5,-18.5Z" fill="#7c162c"/>
<path d="M-99.6,-32.4h0M-91.6,-46.6h0M-100.5,-25.7h0M-100.1,-22.2h0M-96.2,-38.6h0M-93.4,-43.9h0M-101.8,-33.4h0M-97.9,-24.0h0M-89.8,-47.1h0M-96.1,-38.6h0M-82.8,-45.4h0M-91.4,-45.7h0M-97.9,-25.8h0M-92.4,-43.5h0M-91.2,-48.0h0M-99.6,-33.1h0M-97.5,-40.6h0M-98.8,-26.9h0M-101.0,-25.5h0M-100.9,-28.5h0M-99.3,-37.8h0M-101.7,-34.1h0M-98.7,-34.9h0M-98.3,-33.5h0M-98.7,-31.0h0M-87.8,-47.0h0M-92.7,-42.8h0M-101.1,-32.1h0M-99.2,-41.2h0M-101.8,-34.8h0M-99.3,-26.8h0M-99.2,-37.7h0M-92.7,-48.1h0M-99.6,-40.6h0M-99.0,-30.7h0M-85.8,-46.5h0" stroke="#7c162c" stroke-width="1.4" stroke-linecap="round" fill="none"/>
<path d="M-83.5,-36.1h0M-89.9,-44.4h0M-88.4,-45.4h0M-90.2,-29.8h0M-94.9,-31.3h0M-90.1,-29.2h0M-88.2,-31.9h0M-90.0,-23.4h0M-86.9,-29.8h0M-92.3,-34.1h0M-87.3,-30.6h0M-90.5,-36.1h0M-93.9,-37.2h0M-89.2,-42.5h0M-83.1,-37.8h0M-95.2,-37.7h0M-83.5,-33.1h0M-91.9,-40.2h0M-81.9,-35.2h0M-85.4,-42.2h0M-92.0,-42.5h0M-85.6,-29.7h0M-92.3,-41.0h0M-88.9,-31.5h0M-90.8,-34.2h0M-95.5,-38.5h0M-91.9,-27.4h0M-95.4,-32.5h0M-95.6,-31.7h0M-87.1,-25.5h0M-86.4,-37.4h0M-86.0,-36.6h0M-96.1,-37.5h0M-86.5,-26.2h0M-83.3,-43.8h0M-90.0,-31.3h0M-90.1,-35.7h0M-82.1,-35.3h0M-84.3,-43.1h0M-91.0,-34.8h0M-80.5,-41.9h0M-92.2,-24.5h0" stroke="#fff" stroke-width="1.3" stroke-linecap="round" fill="none"/>
<path d="M-77.3,-47.1 L-80.7,-50.2 L-81.6,-51.8 L-84.1,-54.5 L-83.7,-55.3 L-82.1,-55.3 L-83.0,-57.1 L-82.3,-57.7 L-81.3,-58.1 L-82.2,-59.9 L-82.7,-61.4 L-81.7,-61.9 L-82.0,-63.3 L-80.8,-63.6 L-80.7,-64.7 L-78.7,-64.3 L-78.1,-65.0 L-77.8,-66.0 L-78.7,-68.0 L-78.4,-69.0 L-76.0,-68.2 L-75.9,-69.4 L-76.1,-70.8 L-74.0,-70.1 L-71.5,-69.1 L-70.9,-69.8 L-68.7,-68.8 L-64.8,-66.1 L-63.6,-66.2 L-59.9,-62.4 A86.5,86.5 0 0 0 -73.9,-45.0Z" fill="#26755d"/>
<path d="M-81.2,-65.9h0M-81.5,-67.4h0M-75.1,-69.7h0M-70.4,-69.6h0M-75.6,-70.0h0M-82.4,-61.6h0M-66.0,-68.6h0M-77.1,-69.3h0M-81.1,-62.3h0M-75.8,-71.3h0M-76.5,-70.4h0M-80.3,-49.5h0M-83.0,-59.1h0M-82.5,-60.1h0M-70.8,-68.7h0M-83.1,-61.2h0M-83.9,-60.4h0M-76.7,-70.0h0M-77.5,-68.9h0M-83.2,-64.3h0M-84.3,-54.6h0M-82.1,-65.9h0M-84.4,-58.5h0M-81.9,-67.3h0M-72.7,-71.1h0M-79.8,-65.5h0M-74.2,-70.4h0M-82.5,-60.0h0M-69.8,-68.7h0M-73.0,-70.8h0M-77.2,-71.2h0M-71.8,-69.0h0" stroke="#26755d" stroke-width="1.4" stroke-linecap="round" fill="none"/>
<path d="M-76.2,-61.6h0M-79.1,-53.2h0M-80.9,-54.6h0M-68.0,-65.6h0M-75.7,-55.2h0M-64.5,-64.0h0M-76.0,-67.1h0M-68.7,-57.2h0M-68.5,-66.3h0M-78.6,-49.3h0M-69.6,-67.5h0M-72.9,-63.7h0M-73.7,-60.0h0M-80.6,-53.4h0M-73.7,-68.2h0M-75.7,-66.0h0M-79.0,-60.2h0M-67.7,-65.2h0M-74.9,-68.3h0M-74.7,-60.6h0M-80.8,-53.0h0M-74.9,-48.8h0M-76.6,-60.8h0M-81.4,-51.9h0M-68.5,-58.7h0M-63.5,-63.8h0M-71.4,-61.2h0M-74.8,-67.7h0M-73.2,-53.1h0M-64.0,-64.8h0M-76.8,-66.5h0M-77.7,-61.1h0M-69.3,-56.7h0M-80.0,-50.0h0M-79.6,-62.5h0M-63.5,-65.2h0M-66.7,-66.9h0M-73.3,-52.1h0M-74.8,-60.9h0M-70.1,-60.3h0M-75.9,-64.6h0M-77.5,-48.2h0M-70.7,-56.0h0M-79.7,-55.5h0M-69.6,-66.0h0M-70.9,-57.8h0M-78.8,-50.9h0M-68.6,-64.7h0M-69.4,-61.3h0M-66.5,-62.6h0M-74.8,-52.1h0M-64.4,-65.4h0M-69.9,-59.3h0M-74.5,-63.9h0" stroke="#fff" stroke-width="1.3" stroke-linecap="round" fill="none"/>
<path d="M-5.9,-92.6 L-5.6,-102.4 L-4.7,-103.3 L-3.7,-103.1 L-2.7,-100.7 L-1.8,-100.5 L-1.1,-86.5 A86.5,86.5 0 0 0 -5.5,-86.3Z" fill="#f8c120"/>
<path d="M-5.7,-106.0h0M-5.2,-105.5h0M-5.3,-102.5h0M-4.9,-101.6h0M-2.5,-103.8h0M-5.4,-103.4h0" stroke="#f8c120" stroke-width="1.4" stroke-linecap="round" fill="none"/>
<path d="M-3.3,-99.9h0M-3.3,-90.4h0M-2.4,-99.0h0M-5.0,-91.5h0M-3.1,-100.3h0M-4.7,-95.9h0M-3.7,-100.2h0M-4.3,-99.6h0M-4.1,-97.9h0M-2.7,-96.2h0M-2.9,-92.0h0M-3.6,-97.2h0" stroke="#fff" stroke-width="1.3" stroke-linecap="round" fill="none"/>
<path d="M52.4,-84.8h0M53.1,-82.8h0M51.8,-84.1h0M51.6,-82.3h0M52.4,-82.1h0M52.3,-81.0h0M63.8,-70.9h0M63.0,-70.0h0M49.7,-79.3h0M48.3,-79.2h0M56.5,-78.6h0M57.8,-78.7h0M55.8,-81.4h0M57.9,-79.5h0M56.4,-79.8h0M57.1,-79.5h0M66.9,-69.1h0M67.4,-71.0h0M65.2,-68.8h0M68.5,-69.5h0M66.3,-72.1h0M67.2,-73.1h0M58.4,-78.0h0M59.1,-75.8h0M59.7,-78.3h0M59.1,-76.1h0M59.1,-75.8h0M60.9,-75.9h0M58.9,-76.9h0M61.5,-77.4h0M61.5,-78.4h0M60.5,-78.4h0M60.8,-77.4h0M60.3,-77.6h0M60.4,-78.3h0M61.9,-78.5h0M57.7,-72.1h0M56.3,-73.3h0M55.6,-69.6h0M56.5,-71.0h0M55.7,-71.3h0M57.8,-74.1h0M58.8,-75.5h0M55.8,-73.4h0M57.4,-74.8h0M56.9,-81.0h0M60.8,-80.9h0M50.6,-82.7h0M50.9,-82.3h0M67.5,-71.6h0M68.0,-74.2h0M68.7,-73.3h0M67.1,-72.5h0M67.7,-73.2h0M55.9,-78.5h0M56.6,-77.5h0M56.8,-77.6h0M58.0,-77.9h0M58.9,-71.6h0M59.0,-73.2h0M61.4,-73.4h0M60.5,-71.0h0M62.5,-72.2h0M61.7,-74.5h0M59.9,-71.8h0M66.1,-67.6h0M65.9,-66.8h0M68.3,-65.4h0M66.5,-65.7h0M66.4,-67.5h0M67.0,-66.3h0M65.4,-64.3h0M56.1,-79.4h0M53.6,-77.6h0M54.3,-79.9h0M61.9,-68.6h0M65.0,-71.1h0" stroke="#413496" stroke-width="1.8" stroke-linecap="round" fill="none"/>
<path d="M66.8,72.1h0M66.8,72.5h0M66.8,74.1h0M60.7,74.5h0M61.5,74.2h0M63.4,73.1h0M66.5,77.4h0M63.7,77.0h0M64.7,76.0h0M65.2,76.1h0M60.7,73.9h0M60.0,76.4h0M61.5,73.2h0M62.3,75.2h0M64.6,73.5h0M66.1,70.8h0M66.2,72.4h0M69.6,69.7h0M69.6,69.2h0M64.2,73.3h0M69.0,73.3h0M65.2,75.1h0M61.6,76.9h0M72.0,65.9h0M70.1,68.9h0M71.8,66.5h0M72.3,66.1h0M72.1,66.9h0M71.2,67.7h0M71.5,66.1h0M67.8,70.8h0M68.3,71.1h0M67.1,71.9h0M67.4,70.0h0M65.4,74.6h0M66.9,72.8h0M69.2,69.4h0M64.6,68.7h0M62.8,69.3h0M64.6,68.5h0M64.8,69.4h0M64.6,68.0h0M62.0,70.5h0M68.1,68.9h0M70.8,67.7h0M66.2,71.1h0M64.7,69.2h0M66.3,66.7h0M66.3,67.3h0M65.0,68.6h0M72.6,64.1h0M70.2,65.2h0M72.9,62.7h0M70.1,64.6h0M72.4,64.0h0M73.7,61.9h0M64.7,74.8h0M63.6,76.5h0M62.3,75.9h0M61.5,76.0h0M73.5,67.1h0M70.0,68.9h0M70.4,69.3h0M72.6,65.4h0M72.0,66.3h0M72.4,66.5h0" stroke="#7c162c" stroke-width="1.8" stroke-linecap="round" fill="none"/>
<path d="M4.1,95.6h0M4.2,97.6h0M3.9,93.9h0M3.9,97.0h0M4.3,96.3h0M7.2,95.3h0M8.2,96.2h0M6.2,95.8h0M7.6,95.5h0M7.5,95.0h0M2.6,89.8h0M4.7,91.1h0M5.8,90.4h0M4.2,92.3h0M3.7,91.7h0M3.0,91.8h0M4.5,92.7h0M1.4,92.8h0M4.3,92.4h0M3.7,92.6h0M1.4,90.5h0M3.0,91.8h0M1.9,89.5h0M3.1,88.5h0M2.0,91.0h0M1.1,91.2h0M4.4,94.9h0M4.5,95.3h0M3.2,94.5h0M4.1,92.9h0M5.6,94.3h0M5.4,91.8h0M6.0,93.2h0M4.9,94.7h0M3.7,97.4h0M5.9,99.1h0M4.3,96.8h0M2.9,92.6h0M3.2,94.5h0M4.3,93.7h0M3.2,94.1h0M3.9,94.4h0M4.9,93.4h0M3.4,94.0h0" stroke="#f8c120" stroke-width="1.8" stroke-linecap="round" fill="none"/>
<path d="M-3.1,94.1h0M-2.5,94.4h0M-3.1,96.7h0M-6.1,94.1h0M-6.9,94.6h0M-4.9,93.3h0M-6.2,93.8h0M-6.1,94.6h0M-6.5,95.9h0M-6.7,94.8h0M9.0,93.2h0M7.4,94.2h0M10.0,96.1h0M8.2,96.4h0M9.2,98.1h0" stroke="#f8c120" stroke-width="1.8" stroke-linecap="round" fill="none"/>
<path d="M-72.4,54.5h0M-73.3,55.1h0M-73.9,55.9h0M-62.5,66.6h0M-63.4,67.2h0M-64.1,67.9h0M-66.1,70.3h0M-66.7,71.1h0M-73.0,54.6h0M-74.8,55.6h0M-75.4,56.5h0M-72.2,54.9h0M-72.8,55.8h0M-73.8,56.2h0M-74.4,57.0h0M-75.4,57.4h0M-76.3,53.1h0M-71.3,56.8h0M-72.1,57.5h0M-72.9,58.0h0M-73.8,58.6h0M-74.5,59.3h0M-62.9,65.4h0M-65.2,67.4h0M-66.0,68.1h0M-67.3,69.6h0M-68.4,61.3h0M-69.8,62.8h0M-70.5,55.3h0M-72.0,56.6h0M-73.6,57.9h0M-60.7,71.2h0M-63.5,74.4h0M-71.1,54.7h0M-72.4,70.4h0M-76.6,66.2h0M-62.0,74.6h0M-75.2,52.1h0M-73.2,57.1h0M-74.6,58.0h0M-73.0,66.2h0M-75.0,67.9h0" stroke="#d60b6f" stroke-width="1.8" stroke-linecap="round" fill="none"/>
<path d="M-88.5,-2.8h0M-89.5,-2.7h0M-91.5,-2.9h0M-87.7,-5.5h0M-89.0,-3.4h0M-91.1,-3.3h0M-93.1,-3.3h0M-95.2,-3.5h0M-87.9,-13.1h0M-89.9,-13.6h0M-90.7,-3.0h0M-92.7,-2.8h0M-93.7,-3.2h0M-94.8,-3.1h0M-96.8,-3.1h0M-97.8,-3.3h0M-89.6,2.7h0M-90.6,2.8h0M-91.6,2.7h0M-91.8,3.8h0M-95.2,3.7h0M-97.0,1.9h0M-89.3,4.9h0M-98.2,-2.6h0M-88.0,-13.0h0M-95.7,-4.8h0" stroke="#83d3ad" stroke-width="1.8" stroke-linecap="round" fill="none"/>
<path d="M-55.8,-78.3h0M-53.4,-76.6h0M-56.0,-75.6h0M-55.9,-74.2h0M-56.9,-75.3h0M-55.2,-75.7h0M-60.0,-77.1h0M-59.8,-75.6h0M-58.5,-76.6h0M-59.8,-74.2h0M-58.0,-77.3h0M-55.2,-76.9h0M-53.7,-76.8h0M-52.8,-73.3h0M-52.5,-75.0h0M-55.1,-79.7h0M-52.7,-81.6h0M-54.7,-80.9h0M-53.7,-78.4h0M-54.4,-78.9h0M-50.5,-78.3h0M-53.6,-79.2h0M-53.9,-79.6h0M-52.5,-79.4h0M-58.4,-76.2h0M-56.8,-76.6h0M-60.8,-76.1h0M-59.7,-76.0h0M-59.7,-74.8h0M-59.1,-77.2h0" stroke="#4197d8" stroke-width="1.8" stroke-linecap="round" fill="none"/>
<path d="M-41.8,-87.5h0M-41.1,-87.8h0M-41.3,-88.3h0M-42.7,-88.9h0M-50.0,-88.4h0M-48.0,-89.2h0M-43.1,-92.6h0M-42.6,-93.4h0M-45.5,-91.7h0M-45.8,-92.7h0M-47.8,-90.2h0M-46.7,-91.9h0M-46.7,-91.8h0M-38.6,-84.0h0M-37.3,-84.7h0M-37.9,-85.1h0M-44.9,-91.6h0M-44.7,-91.7h0M-44.4,-88.6h0M-50.6,-88.2h0M-49.1,-88.4h0M-49.5,-90.1h0M-52.9,-88.1h0M-40.9,-91.4h0M-41.0,-90.1h0M-41.8,-87.5h0M-55.2,-87.5h0M-58.0,-86.0h0M-56.8,-87.2h0M-49.4,-80.0h0M-50.2,-81.4h0M-50.1,-80.4h0M-49.3,-80.4h0M-50.5,-80.8h0M-52.6,-87.7h0M-52.7,-87.3h0M-41.6,-91.0h0M-43.1,-89.6h0M-43.9,-89.3h0M-44.9,-90.3h0M-51.5,-83.5h0M-52.8,-83.6h0M-52.8,-84.4h0M-52.1,-84.3h0M-42.5,-87.2h0M-45.1,-88.0h0M-45.1,-87.9h0M-44.9,-87.8h0M-42.4,-89.7h0M-44.5,-86.4h0M-42.8,-89.0h0M-41.9,-87.4h0M-40.5,-89.3h0M-40.2,-89.0h0M-40.2,-86.5h0M-42.2,-89.2h0M-41.2,-94.5h0M-39.9,-93.5h0M-41.8,-84.1h0M-42.6,-85.3h0M-43.9,-84.7h0" stroke="#4197d8" stroke-width="1.8" stroke-linecap="round" fill="none"/>
<circle cx="10.4" cy="-103.8" r="3.4" fill="#18f018"/>
<circle cx="35.7" cy="-98.7" r="3.4" fill="#18f018"/>
<circle cx="40.8" cy="-99.4" r="3.4" fill="#18f018"/>
<circle cx="87.6" cy="-60.4" r="3.4" fill="#18f018"/>
<circle cx="99.9" cy="-33.4" r="3.4" fill="#18f018"/>
<circle cx="104.5" cy="-33.6" r="3.4" fill="#18f018"/>
<circle cx="102.8" cy="-27.4" r="3.4" fill="#18f018"/>
<circle cx="105.6" cy="-28.7" r="3.4" fill="#18f018"/>
<circle cx="105.9" cy="-14.1" r="3.4" fill="#18f018"/>
<circle cx="108.3" cy="-9.9" r="3.4" fill="#18f018"/>
<circle cx="107.0" cy="15.6" r="3.4" fill="#18f018"/>
<circle cx="110.9" cy="16.8" r="3.4" fill="#18f018"/>
<circle cx="103.2" cy="23.8" r="3.4" fill="#18f018"/>
<circle cx="104.4" cy="34.7" r="3.4" fill="#18f018"/>
<circle cx="91.3" cy="51.6" r="3.4" fill="#18f018"/>
<circle cx="68.9" cy="82.1" r="3.4" fill="#18f018"/>
<circle cx="59.5" cy="87.9" r="3.4" fill="#18f018"/>
<circle cx="55.2" cy="89.4" r="3.4" fill="#18f018"/>
<circle cx="50.9" cy="91.9" r="3.4" fill="#18f018"/>
<circle cx="47.9" cy="96.5" r="3.4" fill="#18f018"/>
<circle cx="45.1" cy="99.5" r="3.4" fill="#18f018"/>
<circle cx="28.7" cy="100.2" r="3.4" fill="#18f018"/>
<circle cx="29.8" cy="106.6" r="3.4" fill="#18f018"/>
<circle cx="-16.2" cy="108.4" r="3.4" fill="#18f018"/>
<circle cx="-40.8" cy="102.6" r="3.4" fill="#18f018"/>
<circle cx="-41.3" cy="104.4" r="3.4" fill="#18f018"/>
<circle cx="-43.5" cy="96.8" r="3.4" fill="#18f018"/>
<circle cx="-49.1" cy="93.6" r="3.4" fill="#18f018"/>
<circle cx="-52.5" cy="92.4" r="3.4" fill="#18f018"/>
<circle cx="-65.0" cy="87.1" r="3.4" fill="#18f018"/>
<circle cx="-96.4" cy="46.6" r="3.4" fill="#18f018"/>
<circle cx="-99.3" cy="44.8" r="3.4" fill="#18f018"/>
<circle cx="-103.1" cy="44.2" r="3.4" fill="#18f018"/>
<circle cx="-104.7" cy="40.6" r="3.4" fill="#18f018"/>
<circle cx="-105.4" cy="14.8" r="3.4" fill="#18f018"/>
<circle cx="-110.5" cy="14.4" r="3.4" fill="#18f018"/>
<circle cx="-99.8" cy="-39.3" r="3.4" fill="#18f018"/>
<circle cx="-93.0" cy="-48.2" r="3.4" fill="#18f018"/>
<circle cx="-88.5" cy="-65.5" r="3.4" fill="#18f018"/>
<circle cx="-78.0" cy="-74.0" r="3.4" fill="#18f018"/>
<circle cx="-3.1" cy="-106.1" r="3.4" fill="#18f018"/>
<circle cx="-3.3" cy="-109.7" r="3.4" fill="#18f018"/>
<circle cx="-2.7" cy="-110.7" r="3.4" fill="#18f018"/>
<circle cx="100.8" cy="57.0" r="3.1" fill="#ee1111"/>
<circle cx="-103.6" cy="-53.7" r="3.1" fill="#ee1111"/>
<circle cx="-42.6" cy="106.0" r="3.1" fill="#ee1111"/>
<circle cx="-103.7" cy="48.3" r="3.1" fill="#ee1111"/>
<circle cx="-115.9" cy="16.1" r="3.1" fill="#ee1111"/>
<circle cx="-112.5" cy="16.0" r="3.1" fill="#ee1111"/>
<circle cx="-4.2" cy="-114.5" r="3.1" fill="#ee1111"/>
<path d="M1.3,-54.9 L2.4,-60.7 L3.2,-58.6 L4.3,-61.4 L5.2,-60.5 L5.9,-58.4 L6.8,-58.7 L8.0,-60.4 L9.2,-62.2 L9.5,-58.3 L10.6,-59.2 L11.3,-57.8 L12.4,-58.8 L12.1,-53.4 L10.6,-46.1 A47.3,47.3 0 0 0 1.1,-47.3Z" fill="#4197d8"/>
<path d="M10.7,-57.6h0M12.4,-54.3h0M5.2,-59.8h0M5.7,-59.8h0M2.9,-58.2h0M7.0,-60.0h0M4.2,-61.5h0M5.7,-58.7h0M7.0,-62.2h0M6.7,-61.2h0M11.7,-61.0h0M5.9,-59.1h0M4.0,-61.5h0M3.4,-60.7h0M3.8,-60.2h0M10.3,-62.7h0M4.0,-61.5h0M12.5,-60.1h0M3.0,-61.5h0M12.8,-61.0h0M12.1,-61.3h0M7.9,-61.1h0M5.5,-59.6h0M10.5,-58.8h0M2.5,-58.5h0" stroke="#4197d8" stroke-width="1.4" stroke-linecap="round" fill="none"/>
<path d="M3.7,-56.8h0M10.8,-57.0h0M8.5,-58.2h0M1.9,-57.5h0M6.7,-53.4h0M11.2,-51.7h0M4.3,-56.8h0M9.2,-51.0h0M7.5,-54.3h0M9.6,-49.8h0M1.9,-57.7h0M6.7,-53.9h0M8.5,-51.2h0M2.7,-50.4h0M7.9,-57.1h0M6.4,-57.3h0M8.2,-53.6h0M6.5,-57.2h0M7.1,-53.7h0M9.1,-54.2h0M7.4,-54.2h0M2.1,-51.2h0M1.6,-52.4h0M12.2,-59.1h0M9.5,-52.9h0M7.7,-54.9h0M4.9,-50.9h0M1.8,-57.6h0M9.4,-57.3h0" stroke="#fff" stroke-width="1.3" stroke-linecap="round" fill="none"/>
<path d="M15.6,-53.0 L17.6,-56.6 L18.9,-57.7 L20.5,-59.5 L21.7,-60.1 L22.7,-59.8 L23.6,-59.5 L24.0,-57.8 L23.4,-54.1 L24.1,-53.4 L24.0,-51.2 L25.6,-52.3 L25.9,-51.1 L27.8,-52.8 L27.3,-50.0 L23.1,-41.3 A47.3,47.3 0 0 0 13.3,-45.4Z" fill="#f8c120"/>
<path d="M26.7,-51.0h0M24.6,-54.3h0M24.3,-60.3h0M23.7,-60.5h0M26.3,-51.5h0M18.8,-56.5h0M25.3,-58.6h0M26.9,-48.8h0M24.6,-54.6h0M24.0,-53.1h0M26.3,-51.2h0M27.7,-53.3h0M27.4,-51.0h0M23.3,-56.8h0M28.5,-54.6h0M23.5,-61.7h0M23.2,-60.4h0M22.3,-60.0h0M27.9,-54.4h0M24.5,-59.0h0M26.3,-53.4h0M19.1,-56.7h0M24.6,-52.7h0M24.5,-60.1h0M21.6,-61.9h0M28.0,-50.9h0M17.4,-56.4h0M23.8,-63.1h0" stroke="#f8c120" stroke-width="1.4" stroke-linecap="round" fill="none"/>
<path d="M21.5,-49.3h0M20.8,-56.7h0M23.2,-49.2h0M22.4,-55.0h0M20.1,-56.5h0M23.9,-49.6h0M19.8,-53.1h0M21.1,-49.0h0M19.8,-56.0h0M21.9,-46.0h0M23.0,-48.4h0M19.9,-54.3h0M25.9,-47.4h0M17.5,-55.3h0M17.2,-53.3h0M17.8,-53.0h0M17.8,-54.6h0M17.4,-50.1h0M15.9,-48.4h0M22.6,-47.2h0M17.0,-53.9h0" stroke="#fff" stroke-width="1.3" stroke-linecap="round" fill="none"/>
<path d="M38.5,-34.2 L41.6,-35.9 L43.5,-36.3 L46.3,-37.5 L47.4,-37.2 L47.8,-36.3 L47.8,-35.2 L49.1,-35.0 L49.4,-34.1 L50.5,-33.7 L48.4,-31.3 L52.1,-32.5 L52.1,-31.4 L50.6,-29.4 L49.7,-27.9 L45.0,-24.4 L41.6,-22.5 A47.3,47.3 0 0 0 35.4,-31.5Z" fill="#495226"/>
<path d="M51.6,-34.2h0M46.4,-25.4h0M53.4,-33.5h0M48.6,-26.3h0M47.9,-35.8h0M45.2,-37.0h0M51.6,-36.2h0M43.3,-37.3h0M51.0,-28.3h0M44.9,-36.3h0M42.2,-36.4h0M51.7,-36.9h0M52.6,-35.8h0M49.1,-33.4h0M52.5,-33.4h0M46.4,-36.3h0M49.5,-35.4h0M51.7,-29.4h0M48.8,-36.9h0M47.1,-25.6h0M50.4,-29.3h0M50.7,-28.3h0M51.2,-33.3h0M50.8,-37.5h0M51.3,-28.8h0M45.8,-38.3h0M46.0,-36.0h0M55.1,-33.5h0M43.7,-36.0h0" stroke="#495226" stroke-width="1.4" stroke-linecap="round" fill="none"/>
<path d="M45.7,-28.8h0M38.6,-31.7h0M43.8,-24.9h0M44.0,-30.1h0M40.9,-31.0h0M43.4,-30.5h0M44.5,-28.7h0M43.9,-24.7h0M43.9,-28.7h0M42.0,-28.6h0M44.1,-28.7h0M42.3,-35.1h0M45.8,-35.1h0M49.4,-29.8h0M43.1,-29.3h0M47.0,-31.8h0M44.0,-24.5h0M45.6,-34.4h0M47.0,-33.6h0M41.6,-29.3h0M38.4,-33.3h0M44.6,-35.1h0M42.7,-28.5h0M39.0,-33.6h0M47.9,-34.7h0M42.2,-35.4h0M48.1,-31.9h0M46.1,-29.8h0M44.1,-28.4h0M45.0,-30.2h0M40.1,-34.6h0M40.9,-33.3h0M47.5,-30.9h0" stroke="#fff" stroke-width="1.3" stroke-linecap="round" fill="none"/>
<path d="M49.9,-22.9 L59.4,-26.1 L57.7,-24.4 L60.5,-24.5 L58.7,-22.7 L61.0,-22.5 L61.1,-21.5 L59.6,-19.9 L61.3,-19.5 L58.6,-17.6 L58.0,-16.5 L59.6,-15.9 L60.2,-15.1 L59.2,-13.9 L57.3,-12.5 L51.9,-10.5 L46.4,-9.3 A47.3,47.3 0 0 0 43.0,-19.7Z" fill="#d60b6f"/>
<path d="M62.2,-17.8h0M62.4,-21.8h0M63.5,-21.0h0M60.1,-17.6h0M60.3,-22.2h0M62.7,-14.8h0M60.9,-18.6h0M56.9,-11.7h0M62.6,-15.6h0M62.0,-18.5h0M61.3,-18.7h0M61.5,-14.3h0M62.3,-15.0h0M60.9,-25.9h0M62.3,-26.0h0M62.0,-21.2h0M60.9,-26.2h0M62.3,-25.8h0M63.1,-18.2h0M56.1,-11.9h0M62.3,-17.2h0M61.7,-16.5h0M63.0,-18.5h0M63.8,-21.5h0M59.2,-23.6h0M56.9,-11.9h0M58.8,-13.8h0M63.7,-21.8h0M60.3,-22.7h0" stroke="#d60b6f" stroke-width="1.4" stroke-linecap="round" fill="none"/>
<path d="M54.8,-23.2h0M55.0,-14.0h0M54.1,-17.5h0M54.8,-21.1h0M50.1,-12.4h0M54.3,-17.6h0M48.3,-20.9h0M56.5,-13.2h0M47.1,-21.1h0M48.6,-16.0h0M49.8,-17.8h0M53.7,-18.7h0M54.1,-22.9h0M54.0,-13.7h0M54.8,-17.4h0M55.7,-15.1h0M50.8,-16.9h0M47.9,-18.6h0M55.4,-22.4h0M54.1,-22.9h0M49.0,-19.2h0M50.1,-14.9h0M53.8,-23.4h0M58.0,-20.2h0M51.0,-14.2h0M57.2,-15.4h0M53.8,-11.4h0" stroke="#fff" stroke-width="1.3" stroke-linecap="round" fill="none"/>
<path d="M54.8,-6.9 L57.5,-6.3 L57.3,-5.4 L58.6,-4.6 L57.4,-3.6 L58.6,-2.8 L58.7,-1.9 L64.1,-1.1 L59.9,-0.1 L55.6,0.7 L55.3,1.6 L53.4,2.4 L51.8,3.1 L47.2,3.0 A47.3,47.3 0 0 0 47.0,-5.9Z" fill="#e66519"/>
<path d="M57.9,-3.6h0M58.3,0.7h0M60.8,-7.1h0M61.5,-0.1h0M58.8,1.1h0M59.3,-7.3h0M57.0,1.0h0M60.4,-3.3h0M56.3,2.2h0M58.4,-1.9h0M58.2,-3.9h0M60.7,-5.3h0M58.5,-7.3h0M57.2,1.3h0M55.9,3.0h0M58.0,0.5h0M61.6,-5.4h0M60.8,-3.7h0M62.0,-6.7h0M56.9,-6.9h0M57.1,2.1h0M60.0,-4.0h0M60.2,-5.4h0" stroke="#e66519" stroke-width="1.4" stroke-linecap="round" fill="none"/>
<path d="M54.7,-2.5h0M56.3,-6.4h0M50.2,0.8h0M51.7,1.5h0M52.7,-4.4h0M51.9,2.1h0M51.7,-4.2h0M55.4,-3.1h0M49.8,-4.7h0M51.2,-3.4h0M52.5,-0.0h0M55.9,-5.4h0M56.2,-4.2h0M55.9,-1.8h0M55.0,-0.8h0M54.1,0.8h0M55.7,-6.2h0M56.0,-1.7h0M52.8,-2.9h0M50.8,-0.3h0M56.6,-3.4h0" stroke="#fff" stroke-width="1.3" stroke-linecap="round" fill="none"/>
<path d="M59.1,7.6 L61.2,8.9 L59.1,9.5 L60.1,10.6 L62.5,12.0 L62.6,13.0 L60.8,13.6 L60.3,14.5 L59.1,15.2 L59.8,16.3 L58.2,16.9 L58.0,17.8 L56.8,18.4 L57.5,19.6 L54.5,19.5 L52.7,19.7 L49.0,19.2 L44.0,17.5 A47.3,47.3 0 0 0 46.9,6.1Z" fill="#d581b7"/>
<path d="M51.0,20.0h0M62.1,16.6h0M50.0,19.5h0M57.9,17.5h0M52.4,19.9h0M61.0,15.7h0M54.2,20.1h0M54.7,20.1h0M62.0,17.7h0M63.4,15.3h0M61.8,17.4h0M60.4,8.8h0M56.1,19.6h0M60.0,8.0h0M60.7,17.0h0M57.6,20.0h0M52.4,20.1h0M63.4,10.4h0M62.5,13.4h0M60.1,16.7h0M58.2,18.6h0M63.8,13.1h0M59.5,9.1h0M57.5,19.4h0M56.6,20.9h0M52.0,20.2h0M61.5,19.3h0M61.3,11.6h0M59.0,14.3h0M58.8,18.1h0M55.3,21.1h0" stroke="#d581b7" stroke-width="1.4" stroke-linecap="round" fill="none"/>
<path d="M53.8,12.7h0M53.9,10.1h0M52.7,17.3h0M53.4,11.7h0M48.9,19.0h0M49.5,19.1h0M57.4,17.0h0M50.8,13.5h0M53.2,18.6h0M55.5,16.4h0M50.0,13.5h0M48.2,14.3h0M47.4,16.6h0M58.0,8.3h0M47.6,16.4h0M51.4,9.7h0M49.2,12.9h0M53.2,17.0h0M53.0,9.1h0M50.7,11.0h0M57.7,16.4h0M50.9,16.7h0M55.2,9.4h0M52.2,12.5h0M54.8,9.6h0M52.7,9.2h0M50.1,15.6h0M58.9,14.0h0M51.2,9.7h0M51.3,18.9h0" stroke="#fff" stroke-width="1.3" stroke-linecap="round" fill="none"/>
<path d="M51.6,23.4 L55.0,25.9 L57.4,28.2 L58.3,29.7 L53.0,28.0 L51.7,28.4 L51.5,29.3 L51.0,30.1 L49.1,30.0 L48.2,30.4 L48.4,31.6 L45.7,30.8 L38.9,26.9 A47.3,47.3 0 0 0 43.1,19.5Z" fill="#83d3ad"/>
<path d="M51.4,31.8h0M49.8,32.6h0M50.8,28.7h0M49.2,31.1h0M56.7,28.9h0M57.0,26.6h0M46.6,31.6h0M51.7,29.2h0M46.2,30.5h0M52.9,30.3h0M48.4,32.1h0M49.7,29.2h0M52.3,30.7h0M54.0,28.4h0M51.4,29.6h0M59.1,29.6h0M50.2,32.4h0M53.6,28.3h0M53.8,28.3h0M54.8,29.5h0M55.6,25.4h0M52.0,31.6h0" stroke="#83d3ad" stroke-width="1.4" stroke-linecap="round" fill="none"/>
<path d="M45.9,30.2h0M51.0,23.7h0M46.0,28.9h0M49.7,24.1h0M48.6,27.4h0M54.3,25.8h0M46.6,26.0h0M42.1,27.3h0M47.3,28.9h0M47.8,28.0h0M56.5,27.7h0M42.2,27.6h0M47.2,30.3h0M48.1,23.9h0M54.1,25.5h0M44.9,28.2h0M45.5,28.9h0M50.4,26.8h0M45.9,23.4h0M50.5,24.1h0" stroke="#fff" stroke-width="1.3" stroke-linecap="round" fill="none"/>
<path d="M32.8,44.1 L34.7,48.1 L33.6,48.1 L33.7,49.9 L32.7,50.1 L33.4,52.9 L31.5,51.7 L31.3,53.2 L31.2,54.9 L30.0,54.7 L29.0,54.9 L28.4,55.9 L26.3,53.6 L24.7,52.5 L22.1,49.0 L19.1,43.3 A47.3,47.3 0 0 0 28.2,38.0Z" fill="#26755d"/>
<path d="M29.9,57.1h0M34.6,53.3h0M32.0,56.6h0M33.2,55.7h0M31.4,57.7h0M30.4,53.9h0M31.2,58.9h0M35.1,50.1h0M31.0,58.2h0M30.7,55.9h0M33.9,53.9h0M36.0,51.1h0M31.1,53.0h0M36.3,51.9h0M32.3,54.9h0M23.9,51.7h0M32.3,56.6h0M28.3,55.9h0M30.6,56.0h0M27.2,56.2h0M24.5,53.6h0M34.6,47.8h0M31.5,57.8h0M33.3,50.4h0M22.3,49.5h0M30.4,55.7h0M31.3,59.1h0M34.0,49.5h0" stroke="#26755d" stroke-width="1.4" stroke-linecap="round" fill="none"/>
<path d="M29.5,47.8h0M27.0,51.1h0M30.3,50.4h0M33.1,47.8h0M31.2,51.4h0M32.0,44.0h0M21.6,47.9h0M26.5,45.9h0M31.6,47.1h0M31.8,44.3h0M24.4,44.8h0M24.0,47.6h0M34.2,47.3h0M31.8,49.2h0M31.5,46.1h0M31.4,50.8h0M28.5,52.0h0M30.4,50.4h0M23.7,50.7h0M28.1,51.8h0M29.1,43.0h0M23.3,46.3h0M28.4,53.5h0M32.4,45.9h0M22.2,48.5h0" stroke="#fff" stroke-width="1.3" stroke-linecap="round" fill="none"/>
<path d="M20.5,51.8 L20.9,55.1 L21.1,58.2 L19.6,56.9 L19.1,58.3 L18.4,59.4 L16.9,57.5 L16.1,58.1 L14.8,56.9 L13.4,54.6 L12.1,53.0 L10.1,46.2 A47.3,47.3 0 0 0 17.5,44.0Z" fill="#4197d8"/>
<path d="M21.0,60.5h0M13.1,57.2h0M20.9,57.2h0M16.6,58.0h0M11.5,51.8h0M18.7,57.8h0M15.5,58.8h0M19.4,58.1h0M18.6,60.9h0M16.1,57.1h0M15.6,59.3h0M12.0,53.2h0M21.7,57.8h0M14.9,58.1h0M20.7,58.8h0M18.0,59.4h0M13.6,57.7h0M19.6,58.4h0M15.2,57.2h0M19.6,61.6h0" stroke="#4197d8" stroke-width="1.4" stroke-linecap="round" fill="none"/>
<path d="M13.5,54.1h0M17.1,51.0h0M15.6,52.4h0M14.9,53.4h0M12.2,48.7h0M17.1,54.8h0M12.4,48.4h0M17.0,53.6h0M16.0,50.3h0M15.3,55.0h0M18.1,54.2h0M14.8,50.1h0M15.6,54.2h0M16.7,49.3h0M12.8,53.0h0M15.2,51.7h0M18.5,52.1h0M17.6,56.5h0M12.5,52.8h0M16.4,47.7h0M17.8,53.1h0M19.9,52.2h0" stroke="#fff" stroke-width="1.3" stroke-linecap="round" fill="none"/>
<path d="M-6.1,54.5 L-7.2,56.9 L-8.3,58.1 L-9.8,62.1 L-10.0,57.6 L-10.5,55.4 L-11.7,56.7 L-12.3,55.6 L-13.1,55.2 L-14.4,56.8 L-15.1,55.6 L-15.8,54.8 L-16.2,53.2 L-17.3,53.9 L-14.7,45.0 A47.3,47.3 0 0 0 -5.2,47.0Z" fill="#413496"/>
<path d="M-16.7,57.1h0M-7.0,56.0h0M-17.7,54.6h0M-14.3,56.5h0M-10.2,64.7h0M-8.9,60.5h0M-7.3,58.3h0M-13.2,58.9h0M-7.0,58.5h0M-15.0,59.1h0M-12.6,58.9h0M-17.6,54.0h0M-15.6,59.4h0M-13.1,58.8h0M-16.5,53.1h0M-16.1,54.1h0M-15.9,55.2h0M-14.0,58.1h0M-6.5,57.2h0M-14.4,58.2h0M-11.6,57.8h0M-7.3,57.9h0M-10.0,64.8h0M-14.9,58.8h0M-10.2,60.8h0" stroke="#413496" stroke-width="1.4" stroke-linecap="round" fill="none"/>
<path d="M-8.2,55.0h0M-12.1,53.6h0M-7.5,50.0h0M-13.0,50.1h0M-10.6,49.9h0M-6.7,53.9h0M-6.5,53.9h0M-15.1,50.7h0M-6.1,49.9h0M-10.0,52.4h0M-14.8,54.0h0M-9.8,58.2h0M-14.1,51.1h0M-12.6,53.9h0M-13.7,49.8h0M-13.4,49.4h0M-10.9,53.3h0M-8.8,54.3h0M-7.2,53.0h0M-15.4,49.5h0M-9.7,53.9h0M-13.4,50.9h0M-14.0,51.7h0M-8.5,54.2h0" stroke="#fff" stroke-width="1.3" stroke-linecap="round" fill="none"/>
<path d="M-21.5,58.0 L-22.1,56.8 L-22.9,56.4 L-24.4,57.5 L-24.9,56.3 L-26.4,57.2 L-27.3,56.9 L-27.9,55.9 L-28.2,54.4 L-29.6,55.1 L-29.5,52.9 L-29.4,50.9 L-30.9,51.6 L-31.9,51.5 L-31.3,48.8 L-31.9,48.1 L-32.8,47.9 L-32.6,46.1 L-33.5,45.8 L-34.7,46.0 L-28.9,37.5 A47.3,47.3 0 0 0 -16.5,44.4Z" fill="#495226"/>
<path d="M-26.3,59.3h0M-33.7,43.9h0M-31.1,52.9h0M-30.4,54.7h0M-33.6,45.1h0M-25.8,57.6h0M-26.0,59.9h0M-30.1,52.9h0M-27.3,57.0h0M-29.1,58.6h0M-28.6,59.7h0M-23.0,57.7h0M-21.7,56.5h0M-31.2,50.3h0M-30.8,51.4h0M-23.9,56.4h0M-30.3,55.0h0M-28.2,57.8h0M-35.5,46.2h0M-29.4,57.0h0M-30.4,54.9h0M-22.5,58.3h0M-22.5,58.5h0M-33.2,46.1h0M-29.5,56.8h0M-29.0,58.4h0M-34.5,47.3h0M-35.0,46.9h0M-28.5,59.8h0M-31.8,51.6h0M-33.8,50.7h0M-25.8,56.8h0M-33.0,50.8h0M-34.2,50.3h0M-25.0,58.6h0M-28.4,59.7h0M-30.8,55.1h0M-28.4,59.7h0" stroke="#495226" stroke-width="1.4" stroke-linecap="round" fill="none"/>
<path d="M-25.9,54.4h0M-24.8,48.5h0M-30.1,50.0h0M-30.4,46.9h0M-31.6,44.0h0M-26.3,48.5h0M-30.7,43.9h0M-33.1,43.8h0M-30.9,46.1h0M-29.1,45.0h0M-23.8,52.4h0M-28.6,52.8h0M-26.7,44.7h0M-30.7,45.3h0M-30.9,48.6h0M-19.0,49.4h0M-30.9,41.9h0M-28.7,42.8h0M-30.8,48.8h0M-26.0,54.4h0M-26.5,53.7h0M-23.8,52.1h0M-25.7,46.8h0M-32.8,43.2h0M-26.5,42.8h0M-32.5,42.8h0M-26.5,48.4h0M-21.6,45.8h0M-27.0,43.7h0M-31.5,46.3h0M-28.5,46.2h0M-19.3,47.6h0M-23.8,48.3h0M-29.6,42.2h0M-25.2,45.8h0" stroke="#fff" stroke-width="1.3" stroke-linecap="round" fill="none"/>
<path d="M-43.2,26.7 L-47.0,28.0 L-48.4,27.8 L-51.2,28.4 L-49.9,26.7 L-52.5,27.1 L-53.1,26.3 L-53.2,25.4 L-53.8,24.6 L-53.0,23.3 L-53.7,22.6 L-53.7,21.7 L-55.1,21.2 L-55.5,20.4 L-56.5,19.8 L-57.1,19.0 L-44.9,14.9 A47.3,47.3 0 0 0 -40.3,24.8Z" fill="#e66519"/>
<path d="M-56.1,23.7h0M-52.1,26.9h0M-51.7,26.4h0M-53.7,27.7h0M-55.5,26.0h0M-54.2,27.1h0M-56.2,22.3h0M-58.6,22.4h0M-56.2,18.8h0M-51.4,30.1h0M-52.8,26.5h0M-53.1,27.3h0M-52.8,26.1h0M-54.7,24.6h0M-54.5,27.3h0M-48.8,27.9h0M-53.8,28.0h0M-51.2,27.0h0M-56.3,22.6h0M-56.4,19.0h0M-50.4,26.8h0M-52.9,23.8h0M-58.7,22.9h0M-49.3,28.7h0M-52.7,30.3h0M-48.9,28.4h0M-54.7,26.4h0M-57.1,21.0h0M-47.8,28.0h0" stroke="#e66519" stroke-width="1.4" stroke-linecap="round" fill="none"/>
<path d="M-48.2,21.4h0M-55.3,18.8h0M-48.9,20.5h0M-49.3,19.0h0M-52.8,21.6h0M-46.5,19.8h0M-45.0,26.8h0M-47.2,17.1h0M-52.2,21.4h0M-52.7,19.7h0M-48.9,26.3h0M-52.0,23.7h0M-50.1,25.4h0M-47.9,27.4h0M-48.0,27.0h0M-49.8,20.4h0M-52.4,21.4h0M-49.2,25.9h0M-45.3,23.0h0M-51.2,22.7h0M-45.3,26.1h0M-49.4,21.4h0M-52.9,22.2h0M-52.4,21.5h0M-48.5,23.6h0M-50.8,23.8h0M-51.1,23.8h0M-50.2,22.5h0" stroke="#fff" stroke-width="1.3" stroke-linecap="round" fill="none"/>
<path d="M-53.1,14.9 L-58.0,15.3 L-59.5,14.7 L-59.0,13.6 L-59.2,12.7 L-58.8,11.7 L-57.1,10.5 L-57.6,9.6 L-61.0,9.2 L-59.8,8.1 L-47.0,5.6 A47.3,47.3 0 0 0 -45.6,12.8Z" fill="#d581b7"/>
<path d="M-60.7,8.8h0M-58.3,11.7h0M-59.7,7.9h0M-62.0,10.3h0M-60.5,7.9h0M-59.2,7.5h0M-57.9,12.5h0M-53.7,14.9h0M-58.5,14.4h0M-60.1,9.7h0M-58.5,14.8h0M-61.2,10.8h0M-61.6,14.6h0M-57.1,7.0h0M-62.8,10.1h0M-57.6,10.8h0M-59.4,9.7h0M-60.2,16.3h0M-62.0,9.9h0" stroke="#d581b7" stroke-width="1.4" stroke-linecap="round" fill="none"/>
<path d="M-52.6,13.4h0M-52.0,9.7h0M-56.4,12.3h0M-50.3,9.5h0M-52.7,10.3h0M-57.0,14.0h0M-58.6,8.6h0M-58.5,8.9h0M-52.4,14.0h0M-55.4,11.0h0M-53.7,7.1h0M-55.3,8.4h0M-52.4,14.2h0M-55.3,8.6h0M-54.2,10.2h0M-55.0,10.2h0M-56.8,9.2h0M-51.8,8.8h0M-55.4,11.2h0M-51.8,6.5h0" stroke="#fff" stroke-width="1.3" stroke-linecap="round" fill="none"/>
<path d="M-57.5,-12.6 L-61.1,-14.4 L-61.3,-15.4 L-60.9,-16.3 L-59.9,-17.0 L-61.7,-18.6 L-61.0,-19.4 L-60.5,-20.3 L-59.7,-21.0 L-58.7,-21.7 L-58.1,-22.5 L-58.3,-23.6 L-56.9,-24.0 L-56.7,-25.0 L-57.2,-26.3 L-56.6,-27.0 L-55.4,-27.6 L-53.4,-27.6 L-50.7,-27.2 L-41.5,-22.8 A47.3,47.3 0 0 0 -46.2,-10.1Z" fill="#7c162c"/>
<path d="M-55.8,-28.2h0M-61.2,-24.1h0M-62.5,-16.6h0M-61.2,-18.4h0M-60.1,-20.6h0M-59.8,-19.9h0M-64.0,-20.8h0M-61.5,-17.5h0M-59.8,-24.4h0M-60.4,-25.3h0M-61.1,-16.5h0M-63.3,-15.6h0M-61.7,-15.3h0M-61.9,-14.7h0M-56.0,-27.8h0M-56.5,-28.9h0M-57.5,-28.0h0M-55.9,-26.6h0M-52.1,-27.7h0M-62.4,-20.5h0M-62.1,-24.7h0M-62.1,-22.7h0M-61.1,-23.7h0M-60.7,-19.0h0M-59.5,-22.4h0M-53.3,-28.3h0M-59.8,-24.9h0M-55.4,-28.0h0M-61.5,-14.1h0M-60.6,-26.5h0M-56.4,-27.4h0M-59.9,-24.3h0M-60.1,-20.9h0M-59.5,-21.0h0M-48.5,-26.6h0M-55.7,-27.6h0" stroke="#7c162c" stroke-width="1.4" stroke-linecap="round" fill="none"/>
<path d="M-50.1,-22.7h0M-48.2,-21.5h0M-50.0,-11.8h0M-51.3,-12.6h0M-55.4,-13.2h0M-53.4,-25.8h0M-58.9,-19.0h0M-55.5,-21.7h0M-51.4,-18.4h0M-52.5,-14.7h0M-50.5,-23.9h0M-54.1,-20.3h0M-51.0,-13.3h0M-50.9,-21.6h0M-54.7,-24.8h0M-58.5,-16.8h0M-53.5,-27.2h0M-57.2,-14.7h0M-52.2,-16.4h0M-57.9,-13.8h0M-44.1,-23.9h0M-48.2,-21.3h0M-54.5,-15.5h0M-52.8,-24.8h0M-54.0,-20.1h0M-50.5,-26.0h0M-54.9,-13.5h0M-57.3,-19.7h0M-49.2,-22.8h0M-54.9,-23.2h0M-51.0,-17.6h0M-54.8,-25.0h0M-55.9,-16.9h0M-48.7,-15.4h0M-54.0,-22.1h0M-51.8,-25.5h0M-47.7,-23.4h0" stroke="#fff" stroke-width="1.3" stroke-linecap="round" fill="none"/>
<path d="M-46.6,-28.4 L-49.6,-31.3 L-51.6,-33.7 L-51.4,-34.6 L-51.4,-35.8 L-51.3,-36.9 L-50.7,-37.7 L-49.9,-38.3 L-48.5,-38.4 L-49.2,-40.3 L-49.2,-41.5 L-46.3,-40.3 L-46.0,-41.3 L-44.9,-41.6 L-44.3,-42.3 L-40.6,-40.0 L-39.9,-40.5 L-32.8,-34.1 A47.3,47.3 0 0 0 -40.4,-24.6Z" fill="#26755d"/>
<path d="M-40.5,-41.5h0M-48.8,-44.0h0M-46.9,-28.6h0M-45.6,-43.8h0M-37.8,-38.6h0M-53.7,-36.9h0M-47.9,-40.7h0M-51.6,-38.5h0M-44.0,-41.7h0M-51.0,-32.6h0M-48.9,-40.9h0M-47.2,-41.7h0M-42.7,-42.7h0M-52.0,-35.6h0M-50.9,-34.2h0M-49.4,-40.2h0M-49.5,-39.0h0M-50.1,-43.2h0M-49.1,-38.1h0M-53.7,-37.5h0M-53.1,-38.1h0M-52.9,-36.1h0M-51.5,-37.3h0M-49.1,-39.7h0M-50.3,-32.8h0M-51.3,-34.6h0M-53.0,-36.1h0M-49.6,-37.4h0M-43.1,-41.5h0M-53.6,-34.6h0M-51.9,-39.0h0M-41.1,-41.3h0" stroke="#26755d" stroke-width="1.4" stroke-linecap="round" fill="none"/>
<path d="M-47.0,-39.7h0M-42.6,-29.5h0M-50.2,-34.9h0M-46.4,-29.4h0M-43.5,-40.7h0M-43.8,-36.7h0M-43.8,-40.8h0M-44.7,-28.1h0M-42.7,-28.8h0M-44.5,-31.8h0M-47.4,-37.2h0M-38.0,-37.2h0M-42.0,-37.2h0M-47.9,-34.6h0M-43.6,-27.1h0M-39.2,-35.2h0M-35.8,-36.2h0M-50.1,-35.7h0M-48.5,-36.2h0M-37.6,-37.7h0M-43.0,-28.6h0M-49.0,-34.1h0M-48.4,-32.0h0M-42.8,-35.8h0M-50.2,-34.6h0M-43.9,-35.1h0M-45.0,-36.0h0M-39.4,-32.6h0M-43.5,-29.9h0M-40.9,-38.8h0M-46.1,-28.7h0" stroke="#fff" stroke-width="1.3" stroke-linecap="round" fill="none"/>
<path d="M-3.4,-53.5 L-3.1,-64.2 L-2.2,-66.5 L-1.1,-64.4 L-0.6,-47.3 A47.3,47.3 0 0 0 -3.0,-47.2Z" fill="#f8c120"/>
<path d="M-3.6,-68.7h0M-3.2,-65.3h0M-1.9,-66.6h0M-4.0,-68.6h0M-3.4,-68.3h0M-1.1,-67.9h0" stroke="#f8c120" stroke-width="1.4" stroke-linecap="round" fill="none"/>
<path d="M-2.9,-51.8h0M-1.8,-57.5h0M-1.7,-50.4h0M-3.4,-61.2h0" stroke="#fff" stroke-width="1.3" stroke-linecap="round" fill="none"/>
<path d="M27.9,-43.9h0M28.3,-42.8h0M26.7,-43.4h0M27.6,-41.8h0M28.4,-42.7h0M26.0,-42.3h0M29.3,-49.7h0M27.9,-48.4h0M28.8,-50.9h0M29.8,-51.3h0M31.5,-50.5h0M31.8,-42.5h0M30.1,-41.7h0M31.3,-40.5h0M33.6,-43.3h0M33.0,-44.1h0M33.1,-44.4h0M32.7,-43.7h0M34.7,-44.7h0M38.3,-39.4h0M36.2,-38.1h0M35.3,-37.8h0M35.1,-37.9h0M33.3,-49.4h0M35.3,-47.8h0M33.6,-48.2h0M32.2,-47.9h0M34.2,-51.5h0M36.9,-50.3h0M35.0,-51.5h0M34.2,-49.7h0M27.2,-43.3h0M28.9,-42.2h0M28.2,-43.8h0M28.7,-43.9h0M26.9,-44.8h0M34.7,-43.4h0M34.0,-44.7h0M34.5,-41.5h0M33.6,-44.2h0M33.0,-44.1h0M34.9,-42.8h0M36.1,-45.6h0M36.9,-44.0h0M36.5,-42.6h0M32.4,-40.2h0M31.5,-42.3h0" stroke="#413496" stroke-width="1.8" stroke-linecap="round" fill="none"/>
<path d="M46.1,37.3h0M45.8,37.5h0M46.5,36.9h0M42.7,41.3h0M43.2,41.2h0M46.2,38.6h0M46.6,39.6h0M46.6,40.4h0M44.4,43.3h0M46.2,41.4h0M44.7,41.6h0M44.1,41.5h0M39.5,41.6h0M42.5,40.5h0M42.1,40.4h0M43.1,38.6h0M45.3,42.3h0M42.9,44.3h0M42.4,43.2h0M42.3,45.6h0M43.8,43.8h0M43.3,44.0h0M41.4,45.7h0M49.8,40.7h0M47.6,43.4h0M52.1,38.9h0M49.5,42.5h0M48.5,41.8h0M44.9,44.7h0M42.8,47.2h0M46.8,44.1h0M43.6,46.7h0M43.8,44.6h0M41.6,48.7h0M47.7,39.6h0M46.0,41.1h0M48.2,39.0h0M49.5,38.7h0M48.3,39.5h0M47.4,41.2h0M48.0,40.2h0" stroke="#7c162c" stroke-width="1.8" stroke-linecap="round" fill="none"/>
<path d="M2.5,55.5h0M4.6,54.0h0M1.8,52.6h0M2.9,55.3h0M3.4,54.6h0M1.8,57.1h0M2.9,57.9h0M0.5,56.7h0M4.0,57.5h0M2.9,51.6h0M4.6,53.9h0M4.3,53.0h0M2.0,50.1h0M4.0,51.0h0M3.4,51.2h0M3.6,49.6h0M4.5,52.4h0M2.1,51.5h0M3.4,50.8h0M0.2,51.9h0M1.2,53.8h0M3.6,52.7h0M1.6,54.5h0" stroke="#f8c120" stroke-width="1.8" stroke-linecap="round" fill="none"/>
<path d="M3.9,49.3h0M3.2,49.4h0M4.7,50.0h0M3.3,50.9h0M-3.4,50.9h0M-3.3,53.2h0M-2.2,52.5h0M-1.9,50.5h0M-0.7,52.0h0M-2.2,51.3h0M-1.8,52.2h0M-2.4,51.5h0M-2.7,49.3h0M-1.6,50.1h0M-3.4,49.5h0M-4.5,48.8h0" stroke="#f8c120" stroke-width="1.8" stroke-linecap="round" fill="none"/>
<path d="M-34.4,39.5h0M-35.2,40.2h0M-36.4,41.9h0M-37.1,42.6h0M-34.4,38.4h0M-36.5,40.6h0M-37.2,41.4h0M-38.0,42.1h0M-37.2,37.5h0M-38.8,38.9h0M-35.2,39.0h0M-35.8,39.8h0M-37.2,41.3h0M-38.6,42.8h0M-35.1,37.9h0M-35.7,38.8h0M-36.4,39.5h0M-41.3,46.9h0M-40.6,29.5h0M-43.9,38.0h0M-35.7,44.0h0M-36.1,36.0h0M-38.6,36.7h0" stroke="#d60b6f" stroke-width="1.8" stroke-linecap="round" fill="none"/>
<path d="M-50.5,-3.1h0M-51.6,2.6h0M-52.7,2.6h0M-55.7,2.8h0M-48.8,-5.6h0M-50.9,-5.8h0M-51.9,-6.0h0M-51.8,-4.8h0M-50.1,1.7h0M-48.9,-3.2h0M-49.0,0.4h0" stroke="#83d3ad" stroke-width="1.8" stroke-linecap="round" fill="none"/>
<path d="M-28.6,-47.5h0M-30.3,-48.4h0M-31.1,-47.4h0M-31.8,-48.6h0M-28.1,-46.9h0M-29.8,-47.7h0M-28.3,-47.6h0M-33.3,-49.8h0M-34.7,-51.2h0M-33.9,-52.2h0M-35.7,-48.5h0M-33.8,-46.9h0M-32.7,-46.8h0M-34.1,-47.0h0M-32.8,-48.6h0M-33.6,-49.0h0M-31.0,-46.8h0M-31.1,-46.7h0M-28.4,-47.4h0M-30.5,-48.0h0" stroke="#4197d8" stroke-width="1.8" stroke-linecap="round" fill="none"/>
<path d="M-28.9,-52.0h0M-26.9,-51.1h0M-27.0,-52.9h0M-26.1,-51.3h0M-27.6,-51.3h0M-27.2,-54.2h0M-25.2,-51.8h0M-29.0,-45.4h0M-28.3,-48.8h0M-27.1,-48.6h0M-25.8,-48.3h0M-26.6,-47.4h0M-27.0,-47.6h0M-29.4,-45.9h0M-25.6,-57.6h0M-27.6,-58.4h0M-29.3,-58.1h0M-30.4,-50.6h0M-32.8,-49.7h0M-25.4,-57.0h0M-26.8,-56.4h0M-27.3,-57.5h0M-26.0,-50.1h0M-27.1,-53.8h0M-26.7,-51.0h0M-31.6,-51.7h0M-32.0,-52.1h0M-32.5,-50.7h0M-36.3,-54.3h0M-34.0,-57.2h0M-34.4,-54.0h0M-23.8,-53.8h0M-23.7,-55.3h0M-23.8,-53.0h0M-25.3,-54.2h0M-26.4,-52.1h0M-21.5,-52.8h0" stroke="#4197d8" stroke-width="1.8" stroke-linecap="round" fill="none"/>
<circle cx="6.6" cy="-66.0" r="3.4" fill="#18f018"/>
<circle cx="22.6" cy="-62.4" r="3.4" fill="#18f018"/>
<circle cx="26.4" cy="-64.5" r="3.4" fill="#18f018"/>
<circle cx="55.2" cy="-38.1" r="3.4" fill="#18f018"/>
<circle cx="63.6" cy="-21.3" r="3.4" fill="#18f018"/>
<circle cx="67.8" cy="-21.8" r="3.4" fill="#18f018"/>
<circle cx="65.3" cy="-17.4" r="3.4" fill="#18f018"/>
<circle cx="66.5" cy="-18.1" r="3.4" fill="#18f018"/>
<circle cx="66.1" cy="-8.8" r="3.4" fill="#18f018"/>
<circle cx="70.5" cy="-6.4" r="3.4" fill="#18f018"/>
<circle cx="67.1" cy="9.8" r="3.4" fill="#18f018"/>
<circle cx="71.9" cy="10.9" r="3.4" fill="#18f018"/>
<circle cx="65.9" cy="15.2" r="3.4" fill="#18f018"/>
<circle cx="67.1" cy="22.3" r="3.4" fill="#18f018"/>
<circle cx="58.1" cy="32.9" r="3.4" fill="#18f018"/>
<circle cx="44.0" cy="52.5" r="3.4" fill="#18f018"/>
<circle cx="37.1" cy="54.8" r="3.4" fill="#18f018"/>
<circle cx="34.5" cy="55.9" r="3.4" fill="#18f018"/>
<circle cx="32.4" cy="58.5" r="3.4" fill="#18f018"/>
<circle cx="30.5" cy="61.4" r="3.4" fill="#18f018"/>
<circle cx="28.9" cy="63.7" r="3.4" fill="#18f018"/>
<circle cx="18.0" cy="62.8" r="3.4" fill="#18f018"/>
<circle cx="19.2" cy="68.8" r="3.4" fill="#18f018"/>
<circle cx="-10.3" cy="68.8" r="3.4" fill="#18f018"/>
<circle cx="-26.0" cy="65.3" r="3.4" fill="#18f018"/>
<circle cx="-27.0" cy="68.2" r="3.4" fill="#18f018"/>
<circle cx="-27.6" cy="61.5" r="3.4" fill="#18f018"/>
<circle cx="-31.1" cy="59.3" r="3.4" fill="#18f018"/>
<circle cx="-33.4" cy="58.7" r="3.4" fill="#18f018"/>
<circle cx="-40.5" cy="54.3" r="3.4" fill="#18f018"/>
<circle cx="-61.1" cy="29.5" r="3.4" fill="#18f018"/>
<circle cx="-64.1" cy="29.0" r="3.4" fill="#18f018"/>
<circle cx="-67.0" cy="28.7" r="3.4" fill="#18f018"/>
<circle cx="-66.4" cy="25.8" r="3.4" fill="#18f018"/>
<circle cx="-67.5" cy="9.5" r="3.4" fill="#18f018"/>
<circle cx="-71.9" cy="9.3" r="3.4" fill="#18f018"/>
<circle cx="-63.6" cy="-25.1" r="3.4" fill="#18f018"/>
<circle cx="-58.6" cy="-30.4" r="3.4" fill="#18f018"/>
<circle cx="-56.5" cy="-41.8" r="3.4" fill="#18f018"/>
<circle cx="-50.6" cy="-48.1" r="3.4" fill="#18f018"/>
<circle cx="-2.0" cy="-67.2" r="3.4" fill="#18f018"/>
<circle cx="-2.1" cy="-70.2" r="3.4" fill="#18f018"/>
<circle cx="-1.8" cy="-73.3" r="3.4" fill="#18f018"/>
<circle cx="66.9" cy="37.4" r="3.1" fill="#ee1111"/>
<circle cx="-69.3" cy="-35.5" r="3.1" fill="#ee1111"/>
<circle cx="-71.7" cy="27.9" r="3.1" fill="#ee1111"/>
<circle cx="-67.3" cy="31.7" r="3.1" fill="#ee1111"/>
<circle cx="-2.6" cy="-74.9" r="3.1" fill="#ee1111"/>
<path d="M-0.1,-17.9 L0.8,-19.0 L1.5,-17.1 L3.1,-22.6 L3.5,-19.2 L3.6,-15.4 L2.1,-8.0 A8.2,8.2 0 0 0 -0.0,-8.2Z" fill="#4197d8"/>
<path d="M3.7,-15.5h0M4.2,-19.4h0M1.5,-21.8h0M4.1,-17.4h0M1.1,-19.9h0M2.0,-18.9h0M1.7,-20.3h0M1.5,-22.3h0M3.5,-24.2h0M3.8,-23.4h0M0.6,-23.4h0M1.7,-21.4h0M2.7,-22.7h0M3.8,-21.0h0M0.8,-22.2h0M1.9,-18.6h0M4.3,-22.3h0M3.8,-22.1h0M3.7,-25.6h0M3.5,-21.5h0M0.6,-19.5h0M3.4,-18.8h0M3.4,-19.5h0M4.3,-16.7h0M1.0,-21.3h0M3.2,-24.1h0M3.9,-16.2h0M0.7,-21.4h0M1.3,-22.7h0M4.0,-15.5h0M0.6,-22.3h0M4.0,-21.6h0" stroke="#4197d8" stroke-width="1.4" stroke-linecap="round" fill="none"/>
<path d="M3.6,-13.6 L5.6,-17.7 L8.6,-23.6 L8.3,-19.8 L7.0,-14.8 L8.7,-16.4 L6.5,-11.0 L4.2,-7.1 A8.2,8.2 0 0 0 2.1,-8.0Z" fill="#f8c120"/>
<path d="M4.6,-17.2h0M7.1,-22.2h0M8.7,-15.2h0M7.4,-17.0h0M6.8,-20.7h0M6.1,-20.8h0M4.9,-17.7h0M9.9,-26.7h0M9.6,-16.2h0M7.7,-13.2h0M6.4,-20.2h0M8.7,-24.9h0M8.6,-19.8h0M9.7,-24.3h0M8.6,-22.9h0M8.5,-20.6h0M7.5,-22.0h0M10.0,-18.0h0M6.9,-20.5h0M7.0,-22.0h0M7.5,-17.5h0M7.0,-20.5h0M8.4,-18.4h0M8.8,-17.4h0M8.0,-17.4h0M5.7,-19.9h0M8.4,-15.0h0M8.9,-18.6h0M5.2,-18.8h0M8.7,-22.1h0M9.0,-20.4h0M9.2,-22.4h0M7.2,-22.2h0M6.9,-22.1h0" stroke="#f8c120" stroke-width="1.4" stroke-linecap="round" fill="none"/>
<path d="M10.4,-9.8 L11.9,-10.2 L16.7,-13.0 L16.8,-11.9 L14.8,-9.5 L15.1,-8.7 L13.5,-7.0 L7.3,-3.7 A8.2,8.2 0 0 0 6.0,-5.6Z" fill="#495226"/>
<path d="M10.9,-10.1h0M17.7,-12.6h0M17.6,-11.9h0M15.7,-8.8h0M20.8,-14.4h0M17.5,-10.1h0M18.7,-11.6h0M13.4,-7.1h0M11.5,-10.4h0M19.0,-13.4h0M16.0,-11.9h0M21.9,-13.1h0M17.9,-14.2h0M15.4,-12.1h0M11.4,-9.9h0M17.3,-10.9h0M13.4,-11.9h0M18.5,-11.4h0M19.0,-14.5h0M16.0,-8.8h0M20.2,-12.8h0M19.0,-13.6h0M20.5,-12.4h0M14.0,-7.2h0M19.8,-13.8h0M18.3,-14.6h0M14.8,-12.8h0M14.0,-12.0h0M16.9,-9.3h0M17.3,-11.7h0M16.6,-12.4h0M19.2,-13.8h0M10.0,-9.1h0M16.1,-8.4h0M17.0,-13.8h0M19.2,-11.0h0" stroke="#495226" stroke-width="1.4" stroke-linecap="round" fill="none"/>
<path d="M14.7,-7.2 L19.9,-8.7 L23.5,-9.0 L22.3,-7.4 L20.9,-5.8 L20.4,-4.7 L14.8,-2.7 L8.1,-1.4 A8.2,8.2 0 0 0 7.4,-3.6Z" fill="#d60b6f"/>
<path d="M26.1,-9.1h0M23.1,-5.9h0M23.4,-9.6h0M26.0,-8.9h0M23.0,-7.8h0M17.5,-3.5h0M22.0,-9.7h0M24.1,-8.9h0M25.1,-10.0h0M20.5,-5.4h0M22.2,-5.0h0M20.1,-9.5h0M23.0,-7.3h0M20.7,-4.2h0M23.1,-10.5h0M16.7,-8.1h0M21.4,-9.4h0M21.1,-6.1h0M22.9,-10.2h0M25.3,-8.8h0M19.5,-9.2h0M20.8,-4.4h0M22.3,-6.9h0M19.7,-3.9h0M23.6,-7.9h0M24.7,-10.7h0M18.4,-4.2h0M16.8,-8.1h0M25.6,-9.8h0M24.4,-10.6h0M20.2,-4.7h0M21.3,-6.0h0M22.2,-5.1h0M19.8,-5.1h0M22.0,-5.4h0M19.3,-3.8h0" stroke="#d60b6f" stroke-width="1.4" stroke-linecap="round" fill="none"/>
<path d="M20.5,-3.1 L18.2,-1.9 L18.0,-1.1 L23.6,-0.3 L15.2,0.5 L12.4,1.0 L8.2,0.7 A8.2,8.2 0 0 0 8.1,-1.2Z" fill="#e66519"/>
<path d="M21.9,-2.1h0M15.6,1.1h0M14.7,0.9h0M21.4,-2.7h0M19.4,0.3h0M20.1,-1.0h0M14.1,0.9h0M20.1,-2.4h0M22.3,-0.7h0M14.2,0.8h0M19.1,-1.3h0M24.9,-0.1h0M21.7,-2.8h0M15.1,0.5h0M20.6,0.1h0M21.5,-2.8h0M22.0,-2.9h0M20.0,-1.9h0M18.4,-2.6h0M16.5,1.0h0M20.6,-2.8h0M19.6,-1.4h0M19.0,0.1h0M23.2,-0.7h0M15.0,0.8h0M15.0,0.6h0M16.5,1.1h0M22.1,-1.1h0M17.4,0.1h0M16.8,0.1h0" stroke="#e66519" stroke-width="1.4" stroke-linecap="round" fill="none"/>
<path d="M21.1,2.1 L21.0,3.1 L25.1,4.9 L19.4,4.8 L21.2,6.2 L21.8,7.5 L16.9,6.7 L7.6,3.2 A8.2,8.2 0 0 0 8.2,0.8Z" fill="#d581b7"/>
<path d="M20.4,5.9h0M24.4,8.0h0M23.3,5.4h0M20.0,2.6h0M20.1,7.5h0M24.2,6.9h0M19.2,7.5h0M21.4,7.1h0M20.1,7.5h0M23.4,7.6h0M19.4,2.1h0M21.7,6.6h0M21.2,6.9h0M23.4,2.9h0M20.2,2.2h0M25.1,5.7h0M19.7,2.5h0M21.8,3.6h0M17.5,7.1h0M19.5,2.0h0M20.9,6.2h0M24.3,5.4h0M23.3,3.8h0M22.1,5.7h0M25.6,4.7h0M15.7,6.1h0M24.5,7.5h0M24.6,7.2h0M23.0,3.5h0M23.2,6.1h0M26.2,5.5h0M24.2,6.9h0M21.5,3.4h0M24.2,7.9h0M24.8,4.9h0M22.3,6.9h0M19.4,2.2h0M26.5,5.9h0" stroke="#d581b7" stroke-width="1.4" stroke-linecap="round" fill="none"/>
<path d="M17.4,7.3 L21.8,10.4 L16.5,8.8 L17.7,10.5 L13.3,8.7 L13.2,9.6 L6.6,4.9 A8.2,8.2 0 0 0 7.6,3.2Z" fill="#83d3ad"/>
<path d="M15.6,10.2h0M21.0,9.7h0M13.9,9.5h0M19.0,11.3h0M23.1,11.0h0M25.2,12.6h0M13.8,9.4h0M14.0,9.5h0M16.8,9.7h0M23.5,11.5h0M19.3,12.3h0M21.7,10.2h0M15.8,9.1h0M19.4,11.8h0M18.2,7.9h0M13.3,9.3h0M17.9,7.7h0M18.3,10.6h0M16.6,9.2h0M18.5,11.2h0M17.5,9.9h0M21.0,9.5h0M23.2,10.6h0M16.1,10.4h0M17.6,11.0h0M17.5,10.7h0M17.8,11.5h0M27.2,13.7h0M21.3,11.5h0" stroke="#83d3ad" stroke-width="1.4" stroke-linecap="round" fill="none"/>
<path d="M8.9,11.4 L10.9,15.2 L12.2,18.9 L10.2,17.5 L11.5,22.0 L8.1,17.3 L5.4,13.1 L3.1,7.6 A8.2,8.2 0 0 0 5.1,6.5Z" fill="#26755d"/>
<path d="M13.0,18.7h0M12.0,16.6h0M13.7,19.6h0M10.4,20.4h0M11.5,20.4h0M12.1,17.3h0M10.7,19.1h0M13.8,20.6h0M12.9,22.4h0M13.3,19.9h0M9.6,20.1h0M12.1,20.6h0M9.3,19.9h0M12.9,18.7h0M11.8,20.5h0M13.6,21.0h0M10.6,19.2h0M13.0,17.4h0M6.7,16.3h0M13.9,21.7h0M13.8,20.0h0M11.5,15.4h0M7.2,16.7h0M12.2,17.6h0M9.2,19.4h0M12.8,18.2h0M11.9,22.1h0M10.3,20.5h0M13.3,18.3h0M12.7,21.0h0M13.9,19.8h0M13.2,21.6h0M13.8,21.3h0M7.4,17.5h0" stroke="#26755d" stroke-width="1.4" stroke-linecap="round" fill="none"/>
<path d="M6.5,15.0 L7.4,19.7 L6.0,18.7 L5.8,21.1 L3.3,15.0 L1.5,8.1 A8.2,8.2 0 0 0 3.2,7.6Z" fill="#4197d8"/>
<path d="M7.2,18.9h0M6.2,22.9h0M3.7,17.5h0M7.1,22.3h0M7.7,20.8h0M7.7,20.9h0M6.5,15.7h0M7.4,23.1h0M7.7,24.1h0M7.7,18.5h0M6.9,16.5h0M7.0,22.2h0M7.6,23.5h0M6.4,21.8h0M7.9,22.8h0M6.8,18.6h0M6.5,20.6h0M5.7,21.1h0M7.5,21.5h0M6.5,21.3h0M7.7,18.4h0M2.8,14.1h0M7.3,18.8h0M7.4,20.8h0M4.4,19.4h0M7.9,19.1h0M8.1,20.7h0" stroke="#4197d8" stroke-width="1.4" stroke-linecap="round" fill="none"/>
<path d="M-1.3,15.0 L-2.2,16.6 L-3.5,19.9 L-4.3,18.9 L-5.0,18.3 L-5.7,17.5 L-2.8,7.7 A8.2,8.2 0 0 0 -0.7,8.2Z" fill="#413496"/>
<path d="M-5.5,17.4h0M-6.1,19.1h0M-4.4,27.4h0M-4.0,23.9h0M-4.7,20.1h0M-6.3,19.8h0M-5.6,20.4h0M-5.7,20.0h0M-4.7,18.8h0M-4.1,19.5h0M-5.7,16.1h0M-4.3,26.1h0M-6.1,17.6h0M-5.1,17.4h0M-4.4,17.9h0M-5.9,20.8h0M-4.4,20.5h0M-3.5,18.3h0M-3.9,20.7h0M-5.3,17.5h0M-3.9,23.9h0M-3.7,17.7h0M-1.6,18.3h0M-5.6,17.9h0M-5.3,14.7h0M-3.2,22.0h0M-5.2,15.5h0M-3.8,22.4h0M-4.7,20.2h0M-6.1,19.4h0M-4.5,19.4h0M-2.3,19.3h0" stroke="#413496" stroke-width="1.4" stroke-linecap="round" fill="none"/>
<path d="M-7.7,22.6 L-7.7,19.7 L-8.8,19.8 L-11.8,23.5 L-10.0,17.7 L-12.0,19.2 L-10.9,15.8 L-10.5,13.8 L-5.2,6.4 A8.2,8.2 0 0 0 -2.7,7.8Z" fill="#495226"/>
<path d="M-12.2,25.7h0M-12.9,19.2h0M-11.5,22.7h0M-10.0,22.2h0M-11.1,18.7h0M-11.4,14.8h0M-11.8,16.9h0M-9.8,22.7h0M-10.8,24.6h0M-12.6,20.4h0M-12.8,18.8h0M-11.2,20.7h0M-11.4,20.1h0M-12.4,24.1h0M-12.8,18.5h0M-12.2,15.8h0M-13.1,18.8h0M-12.5,24.7h0M-8.5,22.4h0M-11.6,22.1h0M-13.3,16.6h0M-11.5,15.0h0M-10.8,22.8h0M-12.2,24.7h0M-12.0,15.0h0M-12.5,18.8h0M-8.6,21.1h0M-11.1,16.9h0M-11.0,18.0h0M-8.5,24.5h0M-12.5,24.8h0M-12.7,18.9h0M-13.6,17.5h0M-11.1,21.9h0M-12.7,15.8h0M-12.9,16.4h0M-11.2,17.9h0M-11.2,19.0h0M-13.1,16.5h0M-7.7,20.5h0M-10.9,16.6h0M-11.1,13.8h0M-12.7,22.2h0M-12.9,24.8h0" stroke="#495226" stroke-width="1.4" stroke-linecap="round" fill="none"/>
<path d="M-10.8,7.1 L-13.1,7.7 L-19.4,10.3 L-18.7,8.8 L-18.7,7.8 L-20.3,7.4 L-12.9,4.0 L-7.9,2.4 A8.2,8.2 0 0 0 -6.9,4.5Z" fill="#e66519"/>
<path d="M-14.9,8.9h0M-19.0,10.8h0M-22.1,7.7h0M-16.9,9.5h0M-13.4,8.5h0M-20.7,6.7h0M-21.1,10.3h0M-16.8,7.7h0M-20.8,11.0h0M-19.5,9.0h0M-19.6,7.8h0M-15.4,9.1h0M-20.8,10.1h0M-18.1,7.9h0M-12.4,7.7h0M-18.2,10.1h0M-12.7,7.8h0M-18.3,8.8h0M-20.0,8.9h0M-17.0,9.0h0M-17.7,9.3h0M-17.0,7.6h0M-16.3,7.2h0M-21.9,8.1h0M-21.0,8.4h0M-16.0,4.9h0M-15.7,9.1h0M-18.1,8.8h0M-21.2,8.7h0M-16.2,9.1h0M-19.6,9.6h0M-20.5,9.5h0M-15.1,8.7h0M-23.3,8.5h0M-20.4,10.6h0M-20.5,7.4h0" stroke="#e66519" stroke-width="1.4" stroke-linecap="round" fill="none"/>
<path d="M-15.0,4.6 L-19.3,5.0 L-19.3,4.1 L-21.7,3.5 L-22.8,2.6 L-8.2,0.8 A8.2,8.2 0 0 0 -7.9,2.4Z" fill="#d581b7"/>
<path d="M-22.0,3.2h0M-20.7,3.8h0M-19.5,5.4h0M-20.4,5.5h0M-22.6,5.0h0M-18.7,1.9h0M-19.1,5.0h0M-23.3,5.6h0M-21.4,5.5h0M-21.5,4.3h0M-24.6,3.7h0M-25.1,3.2h0M-19.0,1.8h0M-22.6,2.8h0M-19.1,4.8h0M-21.4,4.4h0M-23.4,3.2h0M-19.0,5.0h0M-24.6,3.7h0M-21.3,3.6h0M-24.5,3.4h0M-23.5,2.9h0M-24.7,3.3h0M-19.3,4.7h0M-22.6,5.6h0M-25.1,3.8h0" stroke="#d581b7" stroke-width="1.4" stroke-linecap="round" fill="none"/>
<path d="M-17.7,-3.4 L-22.5,-5.4 L-22.8,-6.6 L-21.7,-7.4 L-20.6,-8.1 L-19.9,-8.9 L-21.2,-10.7 L-13.3,-7.5 L-7.1,-4.2 A8.2,8.2 0 0 0 -8.1,-1.5Z" fill="#7c162c"/>
<path d="M-23.4,-8.8h0M-23.4,-9.1h0M-24.3,-9.6h0M-26.3,-8.0h0M-26.0,-7.2h0M-22.4,-6.4h0M-23.6,-5.9h0M-22.3,-9.0h0M-15.4,-8.6h0M-23.8,-11.3h0M-23.8,-9.4h0M-21.9,-8.4h0M-21.9,-11.5h0M-21.5,-10.1h0M-22.5,-7.0h0M-23.0,-9.5h0M-26.5,-8.8h0M-25.9,-8.0h0M-23.4,-9.7h0M-25.2,-8.6h0M-22.2,-7.4h0M-25.7,-9.7h0M-22.3,-11.4h0M-14.7,-8.1h0M-22.8,-5.0h0M-23.6,-9.5h0M-23.1,-11.5h0M-22.4,-5.8h0M-22.5,-7.9h0M-23.4,-7.4h0M-25.8,-9.7h0M-21.5,-10.0h0M-22.3,-11.7h0M-23.4,-11.5h0M-24.1,-9.4h0M-24.8,-9.6h0M-23.5,-4.8h0M-24.4,-12.0h0M-25.2,-9.9h0M-24.1,-8.7h0M-23.8,-9.5h0M-17.6,-9.8h0M-21.8,-4.9h0" stroke="#7c162c" stroke-width="1.4" stroke-linecap="round" fill="none"/>
<path d="M-13.7,-7.9 L-18.2,-11.5 L-19.4,-13.7 L-17.2,-13.3 L-21.5,-18.3 L-16.0,-14.9 L-10.3,-10.5 L-5.5,-6.1 A8.2,8.2 0 0 0 -7.1,-4.1Z" fill="#26755d"/>
<path d="M-20.9,-18.1h0M-17.9,-13.6h0M-17.9,-16.6h0M-19.4,-14.7h0M-18.0,-12.3h0M-19.9,-17.0h0M-17.8,-13.8h0M-19.0,-18.1h0M-11.1,-11.8h0M-20.2,-17.5h0M-18.6,-13.1h0M-10.8,-11.3h0M-20.1,-14.6h0M-19.3,-17.2h0M-18.8,-15.6h0M-21.4,-14.8h0M-19.2,-12.9h0M-18.8,-14.3h0M-18.6,-11.6h0M-21.3,-15.0h0M-21.5,-17.6h0M-12.4,-13.0h0M-15.9,-9.9h0M-18.6,-14.2h0M-14.3,-14.5h0M-22.2,-18.6h0M-19.9,-17.2h0M-16.6,-15.6h0M-15.2,-14.8h0M-21.4,-15.2h0M-17.5,-16.6h0M-20.7,-13.9h0M-20.8,-15.5h0M-11.8,-12.7h0M-9.9,-10.6h0M-16.6,-15.9h0M-19.0,-17.6h0M-20.2,-14.5h0M-19.7,-16.7h0" stroke="#26755d" stroke-width="1.4" stroke-linecap="round" fill="none"/>
<path d="M-1.1,-11.7 L-1.0,-22.2 L0.0,-18.3 L0.1,-8.2 A8.2,8.2 0 0 0 -0.7,-8.2Z" fill="#f8c120"/>
<path d="M-0.9,-26.4h0M-0.8,-28.4h0M-1.4,-24.8h0M-0.9,-24.9h0M0.1,-16.3h0M-1.3,-25.2h0M-1.5,-21.3h0M-1.0,-25.8h0M-0.1,-21.4h0M-1.5,-20.8h0M-1.2,-25.9h0M-1.6,-24.4h0M-1.0,-27.5h0" stroke="#f8c120" stroke-width="1.4" stroke-linecap="round" fill="none"/>
<path d="M7.6,-13.4 L10.3,-16.3 L10.4,-14.8 L10.7,-13.8 L13.6,-16.0 L14.8,-15.9 L12.1,-11.8 L5.9,-5.7 A8.2,8.2 0 0 0 4.1,-7.1Z" fill="#413496"/>
<path d="M14.1,-19.1h0M11.6,-16.3h0M16.2,-18.2h0M12.4,-15.6h0M16.4,-18.7h0M15.3,-18.2h0M15.6,-15.7h0M13.7,-19.0h0M15.9,-18.2h0M11.1,-17.1h0M12.8,-17.5h0M15.4,-18.4h0M9.8,-15.9h0M13.8,-14.8h0M10.6,-17.4h0M10.3,-16.8h0M13.3,-14.1h0M14.1,-16.3h0M12.5,-18.7h0M16.0,-19.5h0M10.3,-16.0h0M12.0,-18.6h0M11.0,-17.5h0M13.9,-16.0h0M15.8,-15.6h0M14.6,-14.3h0M9.9,-16.2h0M12.7,-18.3h0M15.6,-19.0h0M15.4,-18.1h0M11.7,-16.3h0M12.1,-18.3h0M9.5,-15.8h0M11.1,-18.3h0M15.5,-15.3h0M16.3,-18.5h0" stroke="#413496" stroke-width="1.4" stroke-linecap="round" fill="none"/>
<path d="M17.2,13.1 L15.6,13.0 L16.7,15.3 L14.6,14.7 L15.1,16.7 L14.7,17.8 L5.0,6.5 A8.2,8.2 0 0 0 6.5,5.0Z" fill="#7c162c"/>
<path d="M16.7,13.0h0M17.2,18.8h0M16.1,18.1h0M16.7,13.9h0M18.9,16.7h0M19.0,16.9h0M16.1,12.9h0M19.3,16.9h0M17.0,15.1h0M17.4,13.8h0M18.2,15.0h0M16.7,13.6h0M16.6,19.3h0M17.2,13.5h0M15.7,18.4h0M17.7,18.7h0M17.6,17.2h0M16.9,14.1h0M15.3,18.2h0M17.7,15.7h0M15.1,17.9h0M18.2,14.2h0M16.6,18.4h0M19.2,19.4h0M16.9,14.1h0M18.1,20.4h0M16.3,18.1h0M15.9,12.7h0M18.8,18.1h0M18.8,19.6h0M18.3,18.7h0M17.8,20.2h0" stroke="#7c162c" stroke-width="1.4" stroke-linecap="round" fill="none"/>
<path d="M1.6,16.3 L0.9,17.6 L0.1,18.9 L-0.0,8.2 A8.2,8.2 0 0 0 0.8,8.2Z" fill="#f8c120"/>
<path d="M1.6,17.8h0M0.5,21.6h0M1.7,18.6h0M0.1,19.7h0M0.6,19.8h0M0.2,20.9h0M1.6,20.7h0M1.1,21.4h0M1.4,19.0h0M0.9,17.3h0M0.8,20.7h0M1.9,19.9h0" stroke="#f8c120" stroke-width="1.4" stroke-linecap="round" fill="none"/>
<path d="M2.7,15.0 L1.9,14.1 L1.2,14.5 L0.6,15.1 L-0.1,18.5 L-0.8,16.0 L-0.7,8.2 A8.2,8.2 0 0 0 1.5,8.1Z" fill="#f8c120"/>
<path d="M2.0,19.3h0M-1.0,18.9h0M-0.9,19.8h0M0.3,20.1h0M2.0,16.0h0M0.8,19.3h0M1.8,16.3h0M0.8,17.1h0M2.6,16.7h0M0.2,17.2h0M-1.3,19.5h0M1.1,16.7h0M2.6,16.3h0M2.2,15.1h0M1.3,18.5h0M0.3,20.4h0M0.9,16.7h0M0.4,20.8h0M0.7,17.2h0M0.1,21.0h0M2.7,16.5h0M-0.1,17.4h0M-1.3,16.1h0M0.5,19.2h0M2.1,16.0h0M2.8,16.3h0M-1.4,19.0h0M1.8,19.4h0M1.9,18.2h0M1.2,20.2h0M2.3,19.3h0M-1.2,18.9h0M0.1,20.0h0" stroke="#f8c120" stroke-width="1.4" stroke-linecap="round" fill="none"/>
<path d="M-9.9,12.8 L-14.5,17.0 L-13.7,14.7 L-16.5,16.1 L-18.2,16.2 L-19.9,16.1 L-19.2,14.1 L-17.8,11.9 L-6.9,4.5 A8.2,8.2 0 0 0 -5.0,6.5Z" fill="#d60b6f"/>
<path d="M-12.3,15.6h0M-18.4,14.9h0M-15.0,16.5h0M-17.2,12.4h0M-18.7,12.2h0M-20.0,15.9h0M-19.5,16.6h0M-17.7,18.0h0M-17.6,18.2h0M-15.7,17.3h0M-19.4,14.4h0M-19.0,14.3h0M-17.8,18.3h0M-15.6,18.0h0M-18.0,14.0h0M-17.8,14.8h0M-14.2,17.1h0M-12.9,14.8h0M-20.2,17.8h0M-18.1,17.2h0M-12.9,15.1h0M-10.9,14.1h0M-12.1,14.7h0M-17.2,11.7h0M-11.0,14.0h0M-18.0,16.8h0M-19.8,17.2h0M-15.9,17.3h0M-16.1,15.5h0M-18.0,11.7h0M-19.9,13.4h0M-17.1,11.8h0M-14.7,17.3h0M-16.5,11.0h0M-17.6,12.2h0M-19.5,17.2h0M-18.0,15.9h0M-13.4,16.9h0M-18.1,15.7h0M-12.3,15.6h0M-15.0,17.9h0M-11.4,14.3h0" stroke="#d60b6f" stroke-width="1.4" stroke-linecap="round" fill="none"/>
<path d="M-17.2,1.6 L-19.9,0.9 L-18.7,-0.0 L-16.7,-0.8 L-18.9,-1.8 L-19.4,-2.7 L-8.1,-1.5 A8.2,8.2 0 0 0 -8.2,0.7Z" fill="#83d3ad"/>
<path d="M-19.0,0.3h0M-18.1,-2.8h0M-18.6,-0.6h0M-17.7,0.7h0M-22.2,-1.3h0M-19.1,1.6h0M-23.2,-1.5h0M-18.0,-2.8h0M-18.4,1.0h0M-23.4,-1.6h0M-21.0,-2.6h0M-18.0,-2.6h0M-19.8,-2.5h0M-22.3,-0.7h0M-18.1,0.1h0M-18.1,0.4h0M-20.4,-1.2h0M-19.0,-0.8h0M-22.1,-2.8h0M-18.5,1.5h0M-16.2,1.4h0M-20.4,-1.3h0M-20.1,-0.7h0M-20.9,-3.3h0M-18.0,-0.6h0M-18.4,0.1h0M-20.3,1.1h0M-19.9,-2.3h0M-19.9,-2.4h0M-19.1,1.7h0M-23.6,-1.7h0M-18.1,0.2h0M-19.5,-2.7h0" stroke="#83d3ad" stroke-width="1.4" stroke-linecap="round" fill="none"/>
<path d="M-12.1,-13.8 L-13.9,-17.5 L-13.4,-18.5 L-11.5,-17.5 L-4.2,-7.1 A8.2,8.2 0 0 0 -5.4,-6.2Z" fill="#4197d8"/>
<path d="M-13.7,-16.7h0M-15.0,-19.4h0M-12.1,-19.0h0M-12.2,-19.0h0M-11.5,-18.1h0M-11.7,-19.5h0M-14.5,-19.2h0M-14.7,-17.5h0M-13.7,-20.8h0M-12.7,-17.2h0M-10.1,-16.7h0M-12.9,-19.9h0M-11.9,-18.8h0M-13.5,-16.3h0M-15.3,-19.1h0M-12.1,-18.7h0M-12.6,-16.8h0M-12.9,-15.0h0M-12.2,-17.2h0M-13.8,-17.6h0M-12.5,-18.8h0M-13.2,-20.6h0" stroke="#4197d8" stroke-width="1.4" stroke-linecap="round" fill="none"/>
<path d="M-10.7,-15.8 L-11.6,-18.8 L-10.5,-19.1 L-10.7,-21.7 L-8.5,-19.5 L-3.1,-7.6 A8.2,8.2 0 0 0 -4.6,-6.8Z" fill="#4197d8"/>
<path d="M-10.4,-23.3h0M-11.1,-24.1h0M-11.7,-23.6h0M-12.7,-19.8h0M-10.4,-22.0h0M-12.0,-23.2h0M-12.4,-18.2h0M-11.2,-19.9h0M-13.3,-20.4h0M-12.6,-25.9h0M-9.7,-22.9h0M-12.1,-18.7h0M-9.9,-22.8h0M-10.8,-22.6h0M-12.4,-18.7h0M-11.9,-17.6h0M-11.7,-22.2h0M-12.8,-25.5h0M-12.3,-23.0h0M-11.2,-23.7h0M-10.8,-19.8h0M-9.9,-21.3h0M-12.6,-18.8h0M-11.4,-17.4h0M-10.3,-23.3h0M-12.2,-21.9h0" stroke="#4197d8" stroke-width="1.4" stroke-linecap="round" fill="none"/>
<circle cx="2.7" cy="-27.4" r="3.4" fill="#18f018"/>
<circle cx="9.3" cy="-25.6" r="3.4" fill="#18f018"/>
<circle cx="11.1" cy="-27.0" r="3.4" fill="#18f018"/>
<circle cx="23.9" cy="-16.5" r="3.4" fill="#18f018"/>
<circle cx="26.7" cy="-8.9" r="3.4" fill="#18f018"/>
<circle cx="30.4" cy="-9.8" r="3.4" fill="#18f018"/>
<circle cx="26.9" cy="-7.2" r="3.4" fill="#18f018"/>
<circle cx="30.4" cy="-8.3" r="3.4" fill="#18f018"/>
<circle cx="28.8" cy="-3.8" r="3.4" fill="#18f018"/>
<circle cx="29.6" cy="-2.7" r="3.4" fill="#18f018"/>
<circle cx="29.1" cy="4.3" r="3.4" fill="#18f018"/>
<circle cx="32.4" cy="4.9" r="3.4" fill="#18f018"/>
<circle cx="27.3" cy="6.3" r="3.4" fill="#18f018"/>
<circle cx="29.5" cy="9.8" r="3.4" fill="#18f018"/>
<circle cx="23.4" cy="13.2" r="3.4" fill="#18f018"/>
<circle cx="18.5" cy="22.1" r="3.4" fill="#18f018"/>
<circle cx="15.7" cy="23.3" r="3.4" fill="#18f018"/>
<circle cx="14.1" cy="22.9" r="3.4" fill="#18f018"/>
<circle cx="12.6" cy="22.7" r="3.4" fill="#18f018"/>
<circle cx="13.6" cy="27.4" r="3.4" fill="#18f018"/>
<circle cx="13.2" cy="29.1" r="3.4" fill="#18f018"/>
<circle cx="7.4" cy="26.0" r="3.4" fill="#18f018"/>
<circle cx="8.7" cy="31.3" r="3.4" fill="#18f018"/>
<circle cx="-4.3" cy="29.1" r="3.4" fill="#18f018"/>
<circle cx="-12.0" cy="30.2" r="3.4" fill="#18f018"/>
<circle cx="-12.6" cy="31.8" r="3.4" fill="#18f018"/>
<circle cx="-11.5" cy="25.7" r="3.4" fill="#18f018"/>
<circle cx="-13.2" cy="25.2" r="3.4" fill="#18f018"/>
<circle cx="-13.8" cy="24.4" r="3.4" fill="#18f018"/>
<circle cx="-18.0" cy="24.1" r="3.4" fill="#18f018"/>
<circle cx="-24.9" cy="12.1" r="3.4" fill="#18f018"/>
<circle cx="-27.6" cy="12.4" r="3.4" fill="#18f018"/>
<circle cx="-30.1" cy="12.9" r="3.4" fill="#18f018"/>
<circle cx="-31.4" cy="12.2" r="3.4" fill="#18f018"/>
<circle cx="-29.4" cy="4.1" r="3.4" fill="#18f018"/>
<circle cx="-33.5" cy="4.4" r="3.4" fill="#18f018"/>
<circle cx="-27.2" cy="-10.7" r="3.4" fill="#18f018"/>
<circle cx="-23.9" cy="-12.4" r="3.4" fill="#18f018"/>
<circle cx="-24.9" cy="-18.4" r="3.4" fill="#18f018"/>
<circle cx="-21.9" cy="-20.8" r="3.4" fill="#18f018"/>
<circle cx="-0.8" cy="-27.7" r="3.4" fill="#18f018"/>
<circle cx="-0.9" cy="-30.8" r="3.4" fill="#18f018"/>
<circle cx="-0.8" cy="-33.8" r="3.4" fill="#18f018"/>
<circle cx="32.8" cy="17.9" r="3.1" fill="#ee1111"/>
<circle cx="-34.4" cy="-17.5" r="3.1" fill="#ee1111"/>
<circle cx="-33.8" cy="13.8" r="3.1" fill="#ee1111"/>
<circle cx="-13.6" cy="34.1" r="3.1" fill="#ee1111"/>
<circle cx="-1.5" cy="-36.2" r="3.1" fill="#ee1111"/>
<circle r="8.9" fill="#fff"/>
<circle r="168.9" fill="none" stroke="#000" stroke-width="5.6"/>
<path d="M-4.72,-168.83 A168.9,168.9 0 0 1 4.72,-168.83" fill="none" stroke="#fff" stroke-width="3.6"/>
<path d="M35.98,-165.02 A168.9,168.9 0 0 1 45.14,-162.76" fill="none" stroke="#fff" stroke-width="3.6"/>
<path d="M80.33,-148.57 A168.9,168.9 0 0 1 88.50,-143.86" fill="none" stroke="#fff" stroke-width="3.6"/>
<path d="M119.64,-119.22 A168.9,168.9 0 0 1 126.11,-112.36" fill="none" stroke="#fff" stroke-width="3.6"/>
<path d="M149.27,-79.03 A168.9,168.9 0 0 1 153.45,-70.58" fill="none" stroke="#fff" stroke-width="3.6"/>
<path d="M165.74,-32.52 A168.9,168.9 0 0 1 167.30,-23.21" fill="none" stroke="#fff" stroke-width="3.6"/>
<path d="M168.53,11.19 A168.9,168.9 0 0 1 167.64,20.58" fill="none" stroke="#fff" stroke-width="3.6"/>
<path d="M157.47,61.08 A168.9,168.9 0 0 1 153.81,69.77" fill="none" stroke="#fff" stroke-width="3.6"/>
<path d="M137.68,97.84 A168.9,168.9 0 0 1 132.00,105.37" fill="none" stroke="#fff" stroke-width="3.6"/>
<path d="M107.89,129.95 A168.9,168.9 0 0 1 100.47,135.77" fill="none" stroke="#fff" stroke-width="3.6"/>
<path d="M70.04,153.69 A168.9,168.9 0 0 1 61.35,157.36" fill="none" stroke="#fff" stroke-width="3.6"/>
<path d="M37.13,164.77 A168.9,168.9 0 0 1 27.88,166.58" fill="none" stroke="#fff" stroke-width="3.6"/>
<path d="M-9.13,168.65 A168.9,168.9 0 0 1 -18.53,167.88" fill="none" stroke="#fff" stroke-width="3.6"/>
<path d="M-50.23,161.26 A168.9,168.9 0 0 1 -59.15,158.20" fill="none" stroke="#fff" stroke-width="3.6"/>
<path d="M-100.47,135.77 A168.9,168.9 0 0 1 -107.89,129.95" fill="none" stroke="#fff" stroke-width="3.6"/>
<path d="M-138.52,96.64 A168.9,168.9 0 0 1 -143.70,88.75" fill="none" stroke="#fff" stroke-width="3.6"/>
<path d="M-159.60,55.27 A168.9,168.9 0 0 1 -162.44,46.27" fill="none" stroke="#fff" stroke-width="3.6"/>
<path d="M-167.68,20.29 A168.9,168.9 0 0 1 -168.55,10.90" fill="none" stroke="#fff" stroke-width="3.6"/>
<path d="M-167.17,-24.09 A168.9,168.9 0 0 1 -165.57,-33.38" fill="none" stroke="#fff" stroke-width="3.6"/>
<path d="M-146.71,-83.68 A168.9,168.9 0 0 1 -141.81,-91.74" fill="none" stroke="#fff" stroke-width="3.6"/>
<path d="M-117.54,-121.29 A168.9,168.9 0 0 1 -110.59,-127.66" fill="none" stroke="#fff" stroke-width="3.6"/>
<path d="M-68.97,-154.18 A168.9,168.9 0 0 1 -60.25,-157.79" fill="none" stroke="#fff" stroke-width="3.6"/>
<text transform="rotate(6.20) translate(0,-179.1)" text-anchor="middle" dominant-baseline="central" font-size="11" fill="#111">1A</text>
<text transform="rotate(22.50) translate(0,-180)" text-anchor="middle" dominant-baseline="central" font-size="11" fill="#111">1B</text>
<text transform="rotate(38.35) translate(0,-180.3)" text-anchor="middle" dominant-baseline="central" font-size="11" fill="#111">1D</text>
<text transform="rotate(55.20) translate(0,-182.6)" text-anchor="middle" dominant-baseline="central" font-size="11" fill="#111">2A</text>
<text transform="rotate(72.10) translate(0,-181.5)" text-anchor="middle" dominant-baseline="central" font-size="11" fill="#111">2B</text>
<text transform="rotate(89.00) translate(0,-180.9)" text-anchor="middle" dominant-baseline="central" font-size="11" fill="#111">2D</text>
<text transform="rotate(104.10) translate(0,-182)" text-anchor="middle" dominant-baseline="central" font-size="11" fill="#111">3A</text>
<text transform="rotate(119.90) translate(0,-183.7)" text-anchor="middle" dominant-baseline="central" font-size="11" fill="#111">3B</text>
<text transform="rotate(134.45) translate(0,-187.1)" text-anchor="middle" dominant-baseline="central" font-size="11" fill="#111">3D</text>
<text transform="rotate(150.30) translate(0,-186)" text-anchor="middle" dominant-baseline="central" font-size="11" fill="#111">4A</text>
<text transform="rotate(162.30) translate(0,-184)" text-anchor="middle" dominant-baseline="central" font-size="11" fill="#111">4B</text>
<text transform="rotate(174.80) translate(0,-181.6)" text-anchor="middle" dominant-baseline="central" font-size="11" fill="#111">4D</text>
<text transform="rotate(191.80) translate(0,-184.9)" text-anchor="middle" dominant-baseline="central" font-size="11" fill="#111">5A</text>
<text transform="rotate(208.50) translate(0,-188.8)" text-anchor="middle" dominant-baseline="central" font-size="11" fill="#111">5B</text>
<text transform="rotate(228.50) translate(0,-187)" text-anchor="middle" dominant-baseline="central" font-size="11" fill="#111">5D</text>
<text transform="rotate(244.60) translate(0,-182.9)" text-anchor="middle" dominant-baseline="central" font-size="11" fill="#111">6A</text>
<text transform="rotate(257.30) translate(0,-180.5)" text-anchor="middle" dominant-baseline="central" font-size="11" fill="#111">6B</text>
<text transform="rotate(272.25) translate(0,-184.5)" text-anchor="middle" dominant-baseline="central" font-size="11" fill="#111">6D</text>
<text transform="rotate(291.50) translate(0,-184.6)" text-anchor="middle" dominant-baseline="central" font-size="11" fill="#111">7A</text>
<text transform="rotate(309.40) translate(0,-187.7)" text-anchor="middle" dominant-baseline="central" font-size="11" fill="#111">7B</text>
<text transform="rotate(327.50) translate(0,-188.2)" text-anchor="middle" dominant-baseline="central" font-size="11" fill="#111">7D</text>
<text transform="rotate(348.20) translate(0,-182)" text-anchor="middle" dominant-baseline="central" font-size="11" fill="#111">unm</text>
</g>
<path d="M216.4,54.6H214.3V89.0H216.4" stroke="#888" stroke-width="0.9" fill="none"/>
<text x="211.6" y="90.4" text-anchor="middle" font-size="4" fill="#333">0</text>
<text x="211.6" y="81.9" text-anchor="middle" font-size="4" fill="#333">1</text>
<text x="211.6" y="73.4" text-anchor="middle" font-size="4" fill="#333">2</text>
<text x="211.6" y="64.9" text-anchor="middle" font-size="4" fill="#333">3</text>
<text x="211.6" y="56.4" text-anchor="middle" font-size="4" fill="#333">4</text>
<path d="M216.4,93.7H214.3V128.1H216.4" stroke="#888" stroke-width="0.9" fill="none"/>
<text x="211.6" y="129.5" text-anchor="middle" font-size="4" fill="#333">0</text>
<text x="211.6" y="121.0" text-anchor="middle" font-size="4" fill="#333">1</text>
<text x="211.6" y="112.5" text-anchor="middle" font-size="4" fill="#333">2</text>
<text x="211.6" y="104.0" text-anchor="middle" font-size="4" fill="#333">3</text>
<text x="211.6" y="95.5" text-anchor="middle" font-size="4" fill="#333">4</text>
<path d="M216.4,132.9H214.3V167.3H216.4" stroke="#888" stroke-width="0.9" fill="none"/>
<text x="211.6" y="168.7" text-anchor="middle" font-size="4" fill="#333">0</text>
<text x="211.6" y="160.2" text-anchor="middle" font-size="4" fill="#333">1</text>
<text x="211.6" y="151.7" text-anchor="middle" font-size="4" fill="#333">2</text>
<text x="211.6" y="143.2" text-anchor="middle" font-size="4" fill="#333">3</text>
<text x="211.6" y="134.7" text-anchor="middle" font-size="4" fill="#333">4</text>
<path d="M216.4,172.0H214.3V206.4H216.4" stroke="#888" stroke-width="0.9" fill="none"/>
<text x="211.6" y="207.8" text-anchor="middle" font-size="4" fill="#333">0</text>
<text x="211.6" y="199.3" text-anchor="middle" font-size="4" fill="#333">1</text>
<text x="211.6" y="190.8" text-anchor="middle" font-size="4" fill="#333">2</text>
<text x="211.6" y="182.3" text-anchor="middle" font-size="4" fill="#333">3</text>
<text x="211.6" y="173.8" text-anchor="middle" font-size="4" fill="#333">4</text>
<text transform="translate(190.4,63.0) scale(1.073,1)" text-anchor="middle" font-size="10" font-weight="bold" fill="#ee1111">(iv)</text>
<text transform="translate(191.6,99.0) scale(1.073,1)" text-anchor="middle" font-size="10" font-weight="bold" fill="#ee1111">(iii)</text>
<text transform="translate(194.1,137.4) scale(1.073,1)" text-anchor="middle" font-size="10" font-weight="bold" fill="#ee1111">(ii)</text>
<text transform="translate(197.7,175.1) scale(1.073,1)" text-anchor="middle" font-size="10" font-weight="bold" fill="#ee1111">(i)</text>
<path d="M267.3,38L218.6,76" stroke="#b01c1c" stroke-width="1" fill="none"/>
<path d="M221.2,68.6L218.2,76.3L226.4,74.9" stroke="#b01c1c" stroke-width="1" fill="none"/>
<text x="37" y="26.4" font-size="17" font-weight="bold" fill="#111">a)</text>
<text x="418.3" y="34" font-size="17" font-weight="bold" fill="#111">b)</text>
<g transform="translate(53.1,70.4) rotate(-44.8)">
<rect x="-42" y="-10.1" width="84" height="20.2" fill="#fff" stroke="#c8242a" stroke-width="1"/>
<text x="0" y="3.5" text-anchor="middle" font-size="9.8" fill="#111">Chromosomes</text>
</g>
<path d="M70.9,74.2L90,80.3" stroke="#b8403a" stroke-width="1" fill="none"/>
<path d="M84.5,76.3L90,80.3L83.6,81.6" stroke="#b8403a" stroke-width="1" fill="none"/>
<g transform="translate(280.6,27.8) rotate(23.6)">
<rect x="-40.7" y="-10.25" width="81.4" height="20.5" fill="#fff" stroke="#c8242a" stroke-width="1"/>
<text x="0" y="3.5" text-anchor="middle" font-size="10" fill="#111">-log 10 <tspan font-style="italic">p</tspan>-value</text>
</g>
<g stroke="#222" stroke-width="1.1" fill="none">
<path d="M488.5,266.9V59.0"/>
<path d="M482.5,266.9H488.5"/>
<path d="M482.5,232.2H488.5"/>
<path d="M482.5,197.6H488.5"/>
<path d="M482.5,162.9H488.5"/>
<path d="M482.5,128.3H488.5"/>
<path d="M482.5,93.6H488.5"/>
<path d="M482.5,59.0H488.5"/>
<path d="M495.5,276H676.9"/>
<path d="M495.5,276V282.3"/>
<path d="M540.9,276V282.3"/>
<path d="M586.2,276V282.3"/>
<path d="M631.5,276V282.3"/>
<path d="M676.9,276V282.3"/>
</g>
<text transform="translate(475.8,274.9) scale(1,1.2)" text-anchor="end" font-size="19" fill="#111">0</text>
<text transform="translate(475.8,240.2) scale(1,1.2)" text-anchor="end" font-size="19" fill="#111">1</text>
<text transform="translate(475.8,205.6) scale(1,1.2)" text-anchor="end" font-size="19" fill="#111">2</text>
<text transform="translate(475.8,170.9) scale(1,1.2)" text-anchor="end" font-size="19" fill="#111">3</text>
<text transform="translate(475.8,136.3) scale(1,1.2)" text-anchor="end" font-size="19" fill="#111">4</text>
<text transform="translate(475.8,101.6) scale(1,1.2)" text-anchor="end" font-size="19" fill="#111">5</text>
<text transform="translate(475.8,67.0) scale(1,1.2)" text-anchor="end" font-size="19" fill="#111">6</text>
<text transform="translate(496.0,301.6) scale(1,1.2)" text-anchor="middle" font-size="19" fill="#111">0</text>
<text transform="translate(541.4,301.6) scale(1,1.2)" text-anchor="middle" font-size="19" fill="#111">1</text>
<text transform="translate(586.7,301.6) scale(1,1.2)" text-anchor="middle" font-size="19" fill="#111">2</text>
<text transform="translate(632.0,301.6) scale(1,1.2)" text-anchor="middle" font-size="19" fill="#111">3</text>
<text transform="translate(677.4,301.6) scale(1,1.2)" text-anchor="middle" font-size="19" fill="#111">4</text>
<text transform="translate(586.3,324.8) scale(1,1.17)" text-anchor="middle" font-size="15.4" fill="#111">Expected <tspan dx="5">−</tspan><tspan dx="2">log</tspan><tspan font-size="10.5" dy="3">10</tspan><tspan dy="-3">(</tspan><tspan font-style="italic">p</tspan>)</text>
<text transform="translate(458.4,163.2) scale(1,1.17) rotate(-90)" text-anchor="middle" font-size="15.4" fill="#111">Observed <tspan dx="5">−</tspan><tspan dx="2">log</tspan><tspan font-size="10.5" dy="3">10</tspan><tspan dy="-3">(</tspan><tspan font-style="italic">p</tspan>)</text>
<circle cx="497.9" cy="65.2" r="2.5" fill="#a6a6a6"/>
<text x="507.3" y="69.4" font-size="10" fill="#222" style="font-family:'Liberation Serif',serif">FarmCPU</text>
<circle cx="497.9" cy="78.9" r="2.5" fill="#7d0f45"/>
<text x="507.3" y="83.1" font-size="10" fill="#222" style="font-family:'Liberation Serif',serif">Blink</text>
<circle cx="497.9" cy="92.9" r="2.5" fill="#f0169a"/>
<text x="507.3" y="97.1" font-size="10" fill="#222" style="font-family:'Liberation Serif',serif">MLMM</text>
<circle cx="497.9" cy="106.6" r="2.5" fill="#8a2be2"/>
<text x="507.3" y="110.8" font-size="10" fill="#222" style="font-family:'Liberation Serif',serif">MLM</text>
<path d="M489.6,271.4L682.3,124.1" stroke="#e8202a" stroke-width="1.7" stroke-dasharray="6,3.5" fill="none"/>
<path d="M625.5,168.8h0M624.0,168.6h0M622.7,169.4h0M621.4,169.3h0M620.2,169.6h0M619.1,171.1h0M618.0,171.5h0M617.0,170.2h0M616.0,171.6h0M615.1,172.0h0M614.2,170.7h0M613.4,172.0h0M612.6,171.5h0M611.8,172.5h0M611.1,172.4h0M610.4,173.6h0M609.7,172.8h0M609.0,172.6h0M608.4,174.1h0M607.7,174.6h0M607.1,175.7h0M648.8,148.7h0M635.2,156.0h0M628.8,160.9h0" stroke="#a6a6a6" stroke-width="5.8" stroke-linecap="round" fill="none"/>
<path d="M624.0,182.5h0M622.7,180.6h0M621.4,181.8h0M620.2,183.4h0M619.1,184.9h0M618.0,183.4h0M617.0,185.1h0M616.0,185.2h0M615.1,185.4h0M614.2,186.4h0M613.4,186.4h0M612.6,188.4h0M611.8,187.8h0M611.1,189.3h0M610.4,188.5h0M609.7,189.1h0M609.0,191.6h0M608.4,191.9h0M607.7,192.1h0M607.1,190.6h0M606.5,192.4h0M606.0,192.3h0M605.4,193.5h0M604.9,193.3h0M604.3,194.0h0M603.8,194.4h0M603.3,194.2h0M602.9,194.5h0M602.4,194.1h0M601.9,194.9h0M601.5,194.6h0M601.0,195.1h0M600.6,195.1h0M600.2,196.0h0M599.7,197.4h0M599.3,195.9h0M598.9,195.8h0M598.6,196.1h0M598.2,197.1h0M597.4,198.2h0M597.1,196.9h0M596.7,197.7h0M596.4,198.5h0M596.0,199.2h0M595.7,197.4h0M595.4,197.2h0M595.0,199.5h0M594.7,197.9h0M594.4,199.0h0M594.1,199.7h0M593.5,198.5h0M593.2,198.4h0M592.9,200.5h0M592.6,199.2h0M592.3,200.7h0M592.0,199.2h0M591.8,200.2h0M591.5,199.1h0M591.2,198.9h0M591.0,200.2h0M590.7,199.1h0M590.4,200.8h0M590.2,201.5h0M589.9,200.4h0M589.7,201.8h0M589.4,201.5h0M589.2,201.1h0M589.0,200.7h0M588.7,201.9h0M588.3,200.4h0M588.0,201.8h0M587.8,200.4h0M587.6,200.6h0M587.4,201.9h0M587.2,201.8h0M586.7,201.6h0M586.5,201.8h0M586.1,201.9h0M585.9,201.3h0M585.7,202.4h0M585.3,202.1h0M585.1,203.3h0M584.7,201.8h0M584.5,203.0h0M584.1,204.3h0M584.0,203.5h0M583.8,203.2h0M583.6,204.6h0M583.4,203.3h0M583.2,203.4h0M583.1,204.8h0M582.7,204.0h0M582.5,203.7h0M582.4,204.5h0M582.2,203.8h0M581.9,205.5h0M581.7,205.5h0M581.5,204.2h0M581.4,203.6h0M581.2,205.3h0M581.1,205.0h0M580.9,204.7h0M580.7,205.4h0M580.1,205.1h0M580.0,205.9h0M579.7,205.0h0M579.5,206.7h0M579.4,205.6h0M579.2,205.3h0M579.1,206.3h0M578.7,206.7h0M578.5,206.9h0M578.2,205.9h0M578.1,207.3h0M578.0,206.9h0M577.7,205.9h0M577.6,206.9h0M577.3,207.6h0M577.2,207.3h0M577.0,206.7h0M576.9,206.2h0M576.8,207.2h0M576.7,207.8h0M576.4,207.3h0M576.2,206.8h0M575.9,208.3h0M575.8,208.2h0M575.7,207.1h0M575.5,207.5h0M575.3,208.3h0M575.2,208.8h0M575.1,208.5h0M575.0,207.5h0M574.7,208.6h0M574.3,207.6h0M574.2,209.3h0M573.9,207.7h0M573.8,207.9h0M573.7,207.7h0M573.6,209.0h0M573.5,207.9h0M573.3,209.6h0M573.2,208.5h0M573.0,208.8h0M572.8,209.8h0M572.7,209.7h0M572.5,210.0h0M572.4,210.4h0M572.2,210.0h0M572.1,209.0h0M572.0,210.7h0M571.8,209.4h0M571.7,208.9h0M571.4,209.8h0M571.3,211.1h0M571.3,209.6h0M571.2,210.9h0M571.1,210.6h0M571.0,209.9h0M570.7,209.5h0M570.6,210.2h0M570.5,210.8h0M570.2,210.7h0M570.1,210.1h0M570.0,211.1h0M569.9,211.4h0M569.7,211.6h0M569.6,210.4h0M569.5,210.1h0M569.2,212.2h0M569.1,211.0h0M569.1,210.5h0M569.0,212.3h0M568.7,211.4h0M568.5,211.0h0M568.4,212.7h0M568.2,212.5h0M568.0,210.9h0M567.8,212.9h0M567.7,212.1h0M567.6,212.5h0M567.2,212.7h0M567.2,213.1h0M567.0,213.4h0M566.7,213.7h0M566.6,213.2h0M566.4,212.5h0M566.2,212.5h0M566.2,213.0h0M566.1,213.4h0M565.7,213.2h0M565.7,213.7h0M565.6,214.2h0M565.4,214.7h0M565.2,214.1h0M565.2,213.2h0M565.0,214.4h0M564.9,213.3h0M564.8,214.8h0M564.7,214.4h0M564.7,215.2h0M564.6,213.8h0M564.5,213.7h0M564.2,214.6h0M564.1,215.6h0M564.0,215.9h0M563.7,216.0h0M563.6,214.4h0" stroke="#7d0f45" stroke-width="5.2" stroke-linecap="round" fill="none"/>
<path d="M599.7,185.8h0M598.9,185.9h0M598.6,185.3h0M598.2,188.1h0M597.8,188.6h0M597.4,186.6h0M597.1,186.3h0M596.7,187.9h0M596.4,188.4h0M596.0,187.7h0M595.7,189.8h0M595.0,190.2h0M594.7,189.1h0M594.4,190.3h0M594.1,190.7h0M593.8,189.4h0M593.5,188.8h0M593.2,191.2h0M592.9,190.0h0M592.6,191.2h0M592.3,190.0h0M592.0,191.0h0M591.8,192.2h0M591.5,192.6h0M591.2,193.3h0M591.0,192.1h0M590.7,192.6h0M590.4,193.4h0M590.2,193.0h0M589.9,193.3h0M589.7,192.2h0M589.4,194.2h0M589.2,192.0h0M589.0,193.6h0M588.7,193.4h0M588.5,193.9h0M588.3,193.1h0M588.0,193.3h0M587.8,194.2h0M587.6,194.5h0M587.4,194.1h0M587.2,193.9h0M586.9,195.2h0M586.7,194.5h0M586.5,194.1h0M586.3,195.5h0M586.1,196.2h0M585.9,196.3h0M585.7,195.3h0M585.3,195.1h0M585.1,195.4h0M584.9,197.0h0M584.7,197.2h0M584.3,197.5h0M584.1,196.5h0M583.6,197.9h0M583.4,196.7h0M583.2,198.0h0M582.9,197.4h0M582.7,198.8h0M582.4,197.5h0M582.2,198.7h0M581.7,198.3h0M581.5,199.7h0M581.4,199.2h0M581.2,199.1h0M580.9,199.8h0M580.7,199.2h0M580.6,198.7h0M580.4,199.8h0M580.3,199.6h0M580.1,200.5h0M579.8,199.8h0M579.7,200.9h0M579.5,199.7h0M579.4,199.8h0M579.2,201.3h0M579.1,200.0h0M578.9,201.1h0M578.8,200.6h0M578.7,200.7h0M578.5,201.6h0M578.4,201.1h0M578.2,201.3h0M578.1,201.2h0M578.0,202.1h0M577.7,201.3h0M577.6,201.9h0M577.3,202.9h0M577.2,202.5h0M577.0,202.8h0M576.7,202.8h0M576.5,203.5h0M576.2,203.8h0M576.0,202.9h0M575.9,203.4h0M575.7,203.2h0M575.5,204.4h0M575.4,204.2h0M575.2,204.1h0M574.8,204.6h0M574.7,204.9h0M574.5,205.4h0M574.4,204.6h0M574.2,205.1h0M573.9,205.5h0M573.7,205.7h0M573.6,205.1h0M573.5,206.3h0M573.4,205.8h0M573.2,205.6h0M573.1,206.3h0M572.7,206.1h0M572.5,206.8h0M572.3,207.3h0M572.2,207.1h0M572.1,207.5h0M571.9,206.7h0M571.7,207.7h0M571.6,207.8h0M571.4,207.2h0M571.2,207.7h0M571.1,208.4h0M571.0,208.1h0M570.7,208.1h0M570.6,208.7h0M570.3,209.2h0M570.2,208.2h0M569.9,209.0h0M569.7,208.9h0M569.6,208.6h0M569.4,209.6h0M569.2,209.5h0M569.0,210.4h0M568.7,210.0h0M568.5,210.6h0M568.3,210.9h0M568.2,210.4h0M567.9,210.1h0M567.7,211.3h0M567.6,210.5h0M567.6,210.8h0M567.2,211.8h0M567.2,211.3h0M567.1,210.9h0M566.7,211.3h0M566.3,212.3h0M566.2,211.8h0M566.2,211.7h0M566.0,212.4h0M565.8,213.1h0M565.7,213.2h0M565.4,212.7h0M565.2,213.2h0M565.1,213.4h0M564.8,213.9h0M564.7,213.0h0M564.7,213.3h0M564.6,213.8h0M564.3,214.6h0M564.2,214.4h0M564.1,213.7h0M564.0,214.2h0M563.8,214.8h0M563.7,214.5h0M563.7,214.9h0M563.3,215.3h0M563.2,214.9h0M563.1,214.7h0M563.0,215.5h0M562.7,215.6h0M562.6,215.8h0M562.2,215.3h0M562.1,215.9h0M562.0,215.2h0M561.7,215.6h0M561.7,215.9h0M561.6,216.3h0M561.3,216.9h0M561.2,216.9h0M561.0,216.4h0M560.9,216.1h0M560.7,216.8h0M560.7,216.4h0M560.5,217.5h0M560.2,217.4h0M560.2,216.7h0M560.0,217.1h0M559.8,217.8h0M559.7,217.2h0M559.6,217.5h0M559.5,217.8h0M559.2,218.3h0M559.2,217.7h0M559.1,217.8h0M558.8,218.8h0M558.7,218.3h0M558.7,218.0h0M558.6,218.9h0M558.2,218.2h0M558.2,218.4h0M558.1,218.9h0M558.0,219.3h0M557.7,219.5h0M557.7,218.9h0M557.4,219.9h0M557.2,219.4h0M557.1,219.2h0M556.9,220.0h0M556.7,220.3h0M556.7,219.3h0M556.5,220.0h0M556.2,219.9h0M556.2,220.4h0M556.0,220.8h0M555.7,220.3h0M555.7,221.1h0M555.3,221.3h0M555.2,221.1h0M555.2,220.4h0M555.1,221.6h0M554.7,220.8h0M554.7,221.3h0M554.3,221.9h0M554.2,221.2h0M554.2,222.1h0M554.2,222.3h0M554.1,221.6h0M553.7,221.8h0M553.7,222.4h0M553.5,222.8h0M553.2,222.6h0M553.2,222.9h0M552.7,223.2h0M552.7,222.5h0M552.7,223.5h0M552.2,223.8h0M552.2,223.7h0M551.9,223.2h0M551.7,223.7h0M551.5,224.1h0M551.5,224.3h0M551.2,224.6h0M551.2,223.9h0M551.2,223.6h0M550.7,223.8h0M550.7,224.4h0M550.5,225.0h0M550.2,224.7h0M550.2,225.4h0M550.2,224.8h0M549.7,225.5h0M549.7,224.7h0M549.6,224.9h0M549.4,225.9h0M549.2,225.9h0M549.1,225.6h0M549.0,226.3h0M548.7,226.5h0M548.7,225.5h0M548.5,225.9h0M548.2,226.8h0M548.2,225.8h0M548.2,226.3h0M547.7,226.2h0M547.7,227.0h0M547.7,226.3h0M547.5,227.4h0M547.2,227.0h0M547.2,226.6h0M547.1,227.5h0M547.0,227.8h0M546.7,226.9h0M546.7,227.3h0M546.6,228.0h0M546.2,227.5h0M546.2,228.1h0M546.1,228.4h0M545.7,228.7h0M545.7,227.9h0M545.6,228.8h0M545.2,228.8h0M545.2,228.5h0M545.0,229.3h0M544.7,229.1h0M544.7,229.5h0M544.7,228.7h0M544.4,229.8h0M544.2,229.5h0M544.1,229.9h0M544.1,229.0h0M543.7,230.1h0M543.7,230.3h0M543.7,229.7h0M543.2,230.1h0M543.2,230.4h0M543.1,230.8h0M542.7,230.6h0M542.7,230.2h0M542.6,231.1h0M542.3,231.3h0M542.2,230.7h0M542.2,231.1h0M542.1,231.5h0M541.7,231.1h0M541.7,231.3h0M541.7,231.8h0M541.2,231.9h0M541.2,232.3h0M541.2,231.6h0" stroke="#f0169a" stroke-width="5.2" stroke-linecap="round" fill="none"/>
<path d="M673.4,143.4l5.2,5.2M673.4,148.6l5.2,-5.2M659.7,145.5l5.2,5.2M659.7,150.7l5.2,-5.2M651.8,148.9l5.2,5.2M651.8,154.1l5.2,-5.2M646.1,150.0l5.2,5.2M646.1,155.2l5.2,-5.2M641.7,153.4l5.2,5.2M641.7,158.6l5.2,-5.2M638.1,155.2l5.2,5.2M638.1,160.4l5.2,-5.2M635.1,156.9l5.2,5.2M635.1,162.1l5.2,-5.2M632.4,161.9l5.2,5.2M632.4,167.1l5.2,-5.2M630.1,163.9l5.2,5.2M630.1,169.1l5.2,-5.2M628.0,162.9l5.2,5.2M628.0,168.1l5.2,-5.2M626.2,166.2l5.2,5.2M626.2,171.4l5.2,-5.2M624.5,165.2l5.2,5.2M624.5,170.4l5.2,-5.2M622.9,166.7l5.2,5.2M622.9,171.9l5.2,-5.2M621.4,167.1l5.2,5.2M621.4,172.3l5.2,-5.2M620.1,167.6l5.2,5.2M620.1,172.8l5.2,-5.2M618.8,169.5l5.2,5.2M618.8,174.7l5.2,-5.2M617.6,169.6l5.2,5.2M617.6,174.8l5.2,-5.2M616.5,172.6l5.2,5.2M616.5,177.8l5.2,-5.2M615.4,171.0l5.2,5.2M615.4,176.2l5.2,-5.2M614.4,172.4l5.2,5.2M614.4,177.6l5.2,-5.2M612.5,174.8l5.2,5.2M612.5,180.0l5.2,-5.2M611.6,173.4l5.2,5.2M611.6,178.6l5.2,-5.2M610.0,176.5l5.2,5.2M610.0,181.7l5.2,-5.2M608.5,175.9l5.2,5.2M608.5,181.1l5.2,-5.2M607.1,177.8l5.2,5.2M607.1,183.0l5.2,-5.2M606.4,178.4l5.2,5.2M606.4,183.6l5.2,-5.2M605.1,177.8l5.2,5.2M605.1,183.0l5.2,-5.2M603.9,179.3l5.2,5.2M603.9,184.5l5.2,-5.2M603.4,179.7l5.2,5.2M603.4,184.9l5.2,-5.2M602.3,180.4l5.2,5.2M602.3,185.6l5.2,-5.2M601.2,182.0l5.2,5.2M601.2,187.2l5.2,-5.2M600.7,180.9l5.2,5.2M600.7,186.1l5.2,-5.2M600.3,179.6l5.2,5.2M600.3,184.8l5.2,-5.2M599.8,181.8l5.2,5.2M599.8,187.0l5.2,-5.2M599.3,181.0l5.2,5.2M599.3,186.2l5.2,-5.2M598.9,183.2l5.2,5.2M598.9,188.4l5.2,-5.2M598.4,181.7l5.2,5.2M598.4,186.9l5.2,-5.2M598.0,181.8l5.2,5.2M598.0,187.0l5.2,-5.2" stroke="#e8309a" stroke-width="0.9" fill="none"/>
<path d="M676.0,153.2h0M662.3,156.7h0M654.4,158.1h0M648.7,158.8h0M644.3,162.9h0M640.7,164.7h0M637.7,165.7h0M635.0,172.0h0M632.7,173.7h0M630.6,172.9h0M628.8,175.4h0M627.1,174.8h0M625.5,177.6h0M624.0,178.9h0M622.7,177.1h0M621.4,175.4h0M620.2,176.4h0M619.1,179.2h0M618.0,180.6h0M617.0,183.4h0M616.0,182.6h0M615.1,182.8h0M614.2,178.9h0M613.4,185.2h0M612.6,179.7h0M611.8,183.6h0M611.1,184.3h0M610.4,186.0h0M609.7,181.1h0M609.0,187.4h0M608.4,184.8h0M607.7,185.6h0M607.1,188.4h0M606.5,188.6h0M606.0,182.7h0M605.4,184.6h0M604.9,185.4h0M604.3,184.2h0M603.8,191.2h0M603.3,186.5h0M602.9,186.4h0M602.4,190.9h0M601.9,189.3h0M601.5,185.5h0M601.0,190.8h0M600.6,187.7h0M600.2,192.5h0M599.7,188.9h0M599.3,192.2h0M598.9,190.6h0M598.6,191.8h0M598.2,188.4h0M597.8,189.5h0M597.4,191.5h0M597.1,190.4h0M596.7,192.5h0M596.4,190.0h0M596.0,194.0h0M595.7,192.2h0M595.0,193.7h0M594.7,196.2h0M594.4,195.5h0M594.1,192.5h0M593.8,195.6h0M593.5,192.1h0M593.2,193.9h0M592.9,191.2h0M592.6,192.0h0M592.3,193.0h0M592.0,195.5h0M591.8,197.7h0M591.5,194.6h0M591.2,193.6h0M591.0,192.6h0M590.7,197.3h0M590.2,192.8h0M589.9,194.4h0M589.7,196.1h0M589.4,194.7h0M589.2,198.4h0M589.0,196.2h0M588.7,195.5h0M588.5,196.1h0M588.3,198.8h0M588.0,199.1h0M587.8,196.4h0M587.6,195.0h0M587.4,199.4h0M587.2,200.3h0M586.9,199.9h0M586.7,196.1h0M586.5,198.4h0M586.3,198.2h0M586.1,195.3h0M585.9,197.6h0M585.7,199.6h0M585.5,197.3h0M585.3,201.2h0M585.1,199.8h0M584.9,197.7h0M584.7,200.6h0M584.5,201.4h0M584.3,199.0h0M584.1,200.1h0M584.0,196.8h0M583.8,201.5h0M583.6,198.0h0M583.4,200.2h0M583.2,198.2h0M583.1,200.1h0M582.9,199.1h0M582.7,200.9h0M582.5,201.5h0M582.4,200.5h0M582.2,198.8h0M582.0,201.2h0M581.9,201.8h0M581.7,201.0h0M581.5,202.6h0M581.4,201.7h0M581.2,200.5h0M581.1,200.8h0M580.7,202.1h0M580.6,203.4h0M580.1,202.9h0M580.0,201.4h0M579.7,200.8h0M579.5,201.6h0M579.2,201.2h0M579.1,202.3h0M578.9,202.8h0M578.8,203.4h0M578.7,204.6h0M578.5,201.6h0M578.4,203.0h0M578.2,204.7h0M578.1,201.4h0M578.0,203.0h0M577.7,203.8h0M577.6,205.1h0M577.4,201.7h0M577.2,204.5h0M577.0,202.1h0M576.9,205.6h0M576.8,204.2h0M576.7,204.4h0M576.5,205.4h0M576.4,203.0h0M576.3,205.0h0M576.2,206.6h0M576.0,204.9h0M575.9,206.8h0M575.8,204.3h0M575.7,203.8h0M575.4,206.9h0M575.3,204.8h0M575.2,206.2h0M575.1,205.7h0M575.0,206.4h0M574.7,207.1h0M574.6,205.6h0M574.5,207.5h0M574.4,204.6h0M574.3,207.8h0M574.2,204.8h0M574.0,207.5h0M573.9,207.9h0M573.8,205.8h0M573.7,206.6h0M573.6,206.0h0M573.5,206.9h0M573.3,208.4h0M573.2,206.6h0M573.1,207.2h0M573.0,205.9h0M572.9,208.9h0M572.7,207.1h0M572.5,206.4h0M572.4,208.0h0M572.2,207.7h0M572.1,208.3h0M572.0,208.2h0M571.8,209.5h0M571.7,208.8h0M571.6,207.7h0M571.4,208.6h0M571.3,209.3h0M571.2,208.4h0M571.1,208.2h0M571.0,207.7h0M570.9,209.1h0M570.8,209.8h0M570.7,209.6h0M570.6,210.4h0M570.5,210.0h0M570.4,209.2h0M570.2,210.2h0M570.1,210.4h0M569.7,209.1h0M569.6,209.9h0M569.5,210.5h0M569.3,211.3h0M569.2,209.8h0M569.1,210.8h0M568.8,211.3h0M568.7,211.3h0M568.5,210.7h0M568.3,211.9h0M568.2,210.6h0M568.1,211.3h0M567.8,212.1h0M567.7,211.7h0M567.5,211.0h0M567.4,212.4h0M567.2,211.4h0M567.1,211.2h0M567.0,212.8h0M566.7,212.2h0M566.6,211.7h0M566.6,212.8h0M566.2,213.3h0M566.2,213.2h0M566.1,212.3h0M565.7,213.5h0M565.7,213.9h0M565.6,212.6h0M565.4,212.8h0M565.2,214.1h0M565.2,213.1h0M564.8,213.4h0M564.7,214.2h0M564.7,214.3h0M564.2,214.0h0M563.9,215.1h0M563.7,215.1h0M563.7,214.3h0M563.4,215.4h0M563.2,214.8h0M563.1,215.5h0M562.7,216.0h0M562.6,215.2h0M562.4,215.6h0M562.3,216.3h0M562.2,215.9h0M562.1,216.5h0M562.1,215.6h0M561.7,216.3h0M561.4,216.2h0M561.2,216.7h0M561.2,217.1h0M560.7,217.2h0M560.6,217.6h0M560.2,217.8h0M560.2,217.0h0M560.0,217.4h0M559.7,217.5h0M559.5,218.4h0M559.5,218.1h0M559.2,217.9h0M559.0,218.3h0M558.9,218.8h0M558.7,218.2h0M558.7,218.8h0M558.6,218.5h0M558.4,219.3h0M558.2,218.8h0M558.0,219.6h0M557.7,219.3h0M557.7,219.8h0M557.6,219.1h0M557.2,220.0h0M557.1,219.4h0M556.7,219.8h0M556.7,220.3h0M556.3,220.9h0M556.2,220.6h0M556.1,220.1h0M555.8,220.8h0M555.7,220.6h0M555.7,221.2h0M555.5,221.5h0M555.2,221.6h0M555.2,221.2h0M555.1,221.9h0M554.7,221.5h0M554.7,222.2h0M554.2,222.0h0M554.2,222.5h0M553.7,222.7h0M553.7,222.2h0M553.6,222.9h0M553.2,222.7h0M553.2,223.2h0M553.1,223.3h0M552.7,223.5h0M552.7,222.9h0M552.4,223.9h0M552.2,223.4h0M552.2,223.2h0M552.0,223.8h0M551.7,224.4h0M551.7,223.8h0M551.5,223.7h0M551.2,223.8h0M551.2,224.5h0M550.9,224.8h0M550.7,224.6h0M550.7,224.8h0M550.3,225.3h0M550.2,225.1h0M550.0,225.6h0M549.8,225.9h0M549.7,225.3h0M549.6,225.9h0M549.5,225.2h0M549.2,225.6h0M549.2,226.3h0M549.1,225.9h0M548.7,225.8h0M548.7,226.7h0M548.2,226.1h0M548.2,227.1h0M548.1,226.4h0M547.7,227.4h0M547.7,226.8h0M547.3,227.8h0M547.2,227.3h0M547.2,227.1h0M547.1,227.9h0M546.7,228.2h0M546.6,227.4h0M546.4,228.4h0M546.2,228.0h0M546.2,228.5h0M545.8,228.8h0M545.7,228.4h0M545.7,228.9h0M545.7,228.1h0M545.2,228.7h0M545.2,229.1h0M545.1,229.3h0M544.7,229.2h0M544.7,229.3h0M544.5,229.9h0M544.2,229.6h0M544.2,229.9h0M543.9,230.3h0M543.7,229.9h0M543.7,230.3h0M543.3,230.8h0M543.2,230.7h0M543.2,230.8h0M543.1,230.1h0M542.7,230.4h0M542.7,231.2h0M542.6,231.3h0M542.2,231.1h0M542.2,231.3h0M541.9,231.8h0M541.7,231.5h0M541.6,231.9h0M541.3,232.3h0M541.2,231.6h0M541.2,232.1h0M541.2,232.4h0M540.7,232.5h0M540.7,231.9h0M540.5,232.8h0M540.2,232.8h0M540.2,232.4h0M540.1,233.3h0M539.7,233.5h0M539.7,233.2h0M539.2,233.2h0M539.2,233.4h0M539.1,234.0h0M538.7,234.3h0M538.7,233.9h0M538.7,233.5h0M538.2,234.5h0M538.2,234.2h0M538.0,234.8h0M537.7,234.8h0M537.7,234.6h0M537.4,235.3h0M537.2,235.4h0M537.2,235.2h0M537.2,234.7h0M536.7,235.7h0M536.7,235.2h0M536.6,235.8h0M536.2,236.2h0M536.2,235.7h0M536.0,236.3h0M535.7,236.3h0M535.7,236.1h0M535.2,236.3h0M535.2,236.9h0M534.8,237.3h0M534.7,237.3h0M534.7,236.5h0M534.7,237.1h0M534.2,237.7h0M534.2,237.1h0M534.1,237.8h0M533.7,238.0h0M533.7,237.7h0M533.5,238.3h0M533.2,237.7h0M533.2,238.3h0M533.2,238.1h0M532.7,238.6h0M532.7,238.9h0M532.7,238.1h0M532.2,239.0h0M532.2,238.7h0M532.1,239.3h0M531.7,239.3h0M531.7,239.0h0M531.5,239.8h0M531.2,239.5h0M531.2,239.2h0M531.2,239.8h0M530.7,240.0h0M530.7,240.4h0M530.6,239.7h0M530.2,240.6h0M530.2,240.2h0M530.2,240.8h0M529.7,240.5h0M529.7,241.1h0M529.6,241.3h0M529.2,241.2h0M529.2,240.7h0M529.2,241.5h0M528.9,241.8h0M528.7,241.7h0M528.7,241.9h0M528.6,241.2h0M528.2,242.3h0M528.2,242.0h0M528.2,241.7h0M527.7,242.4h0M527.7,242.1h0M527.4,242.8h0M527.2,242.2h0M527.2,243.1h0M527.2,242.7h0M526.9,243.3h0M526.7,243.2h0M526.7,243.4h0M526.2,243.3h0M526.2,243.8h0M526.2,243.2h0M525.7,243.5h0M525.7,243.9h0M525.4,244.3h0M525.2,244.3h0M525.2,244.2h0M524.8,244.8h0M524.7,244.2h0M524.7,244.7h0M524.7,244.9h0M524.3,245.3h0M524.2,244.8h0M524.2,245.3h0M524.2,244.7h0M523.7,245.5h0M523.7,245.1h0M523.6,245.8h0M523.2,245.7h0M523.2,245.8h0M523.0,246.3h0M522.7,245.7h0M522.7,246.0h0M522.7,246.4h0M522.4,246.8h0M522.2,246.1h0M522.2,246.4h0M522.2,246.8h0M521.7,246.6h0M521.7,247.0h0M521.6,247.3h0M521.2,247.4h0M521.2,247.0h0M520.9,247.8h0M520.7,247.6h0M520.7,247.9h0M520.4,248.3h0M520.2,247.7h0M520.2,247.8h0M520.2,248.4h0M519.7,248.1h0M519.7,248.7h0M519.6,248.8h0M519.2,249.1h0M519.2,248.5h0M519.1,249.3h0M518.7,248.7h0M518.7,249.2h0M518.7,249.3h0M518.4,249.8h0M518.2,249.3h0M518.2,249.9h0M518.2,249.2h0M517.7,249.5h0M517.7,250.1h0M517.7,250.3h0M517.2,250.6h0M517.2,250.0h0M517.0,250.8h0M516.7,250.9h0M516.7,250.6h0M516.4,251.3h0M516.2,250.7h0M516.2,250.9h0M516.2,251.5h0M515.8,251.8h0M515.7,251.6h0M515.7,251.2h0M515.7,251.8h0M515.2,251.9h0M515.2,251.5h0M515.1,252.3h0M514.7,252.5h0M514.7,252.2h0M514.4,252.8h0M514.2,252.7h0M514.2,252.2h0M514.2,252.8h0M513.8,253.3h0M513.7,252.9h0M513.7,252.7h0M513.7,253.3h0M513.2,253.4h0M513.2,253.0h0M513.1,253.8h0M512.7,253.8h0M512.7,253.7h0M512.5,254.3h0M512.2,254.1h0M512.2,254.3h0M511.8,254.8h0M511.7,254.2h0M511.7,254.4h0M511.7,254.8h0M511.2,255.0h0M511.2,254.6h0M511.2,255.3h0M510.7,255.2h0M510.7,255.3h0M510.5,255.8h0M510.2,255.6h0M510.2,255.8h0M509.8,256.3h0M509.7,256.2h0M509.7,256.3h0M509.7,255.7h0M509.2,256.7h0M509.2,256.0h0M509.2,256.8h0M508.7,256.4h0M508.7,256.8h0M508.5,257.4h0M508.2,257.3h0M508.2,257.1h0M507.9,257.8h0M507.7,257.5h0M507.7,257.8h0M507.7,257.2h0M507.3,258.3h0M507.2,258.2h0M507.2,257.6h0M507.2,258.3h0M506.7,257.9h0M506.7,258.4h0M506.6,258.8h0M506.2,258.7h0M506.2,259.0h0M506.0,259.3h0M505.7,259.1h0M505.7,259.3h0M505.3,259.8h0M505.2,259.3h0M505.2,259.2h0M505.2,259.8h0M504.7,259.9h0M504.7,259.6h0M504.7,260.3h0M504.2,260.3h0M504.2,260.1h0M504.0,260.8h0M503.7,261.0h0M503.7,260.6h0M503.7,260.2h0M503.3,261.3h0M503.2,261.0h0M503.2,261.3h0M503.2,260.7h0M502.7,261.4h0M502.7,261.1h0M502.6,261.8h0M502.2,261.5h0M502.2,262.1h0M502.0,262.3h0M501.7,262.2h0M501.7,262.4h0M501.4,262.8h0M501.2,262.7h0M501.2,262.2h0M501.2,262.8h0M500.7,262.7h0M500.7,263.0h0M500.7,263.3h0M500.2,263.1h0M500.2,263.5h0M500.0,263.8h0M499.7,263.5h0M499.7,263.9h0M499.4,264.3h0M499.2,263.7h0M499.2,264.3h0M499.2,263.9h0M498.7,264.7h0M498.7,264.1h0M498.7,264.8h0M498.2,264.7h0M498.2,265.1h0M498.0,265.3h0M497.7,265.4h0M497.7,265.0h0M497.4,265.8h0M497.2,265.5h0M497.2,265.8h0M496.7,265.9h0M496.7,265.6h0M496.7,266.3h0M496.2,266.4h0M496.2,266.2h0M496.0,266.8h0M495.7,266.4h0M495.7,267.0h0" stroke="#8a2be2" stroke-width="5.6" stroke-linecap="round" fill="none"/>
</svg></body></html>
